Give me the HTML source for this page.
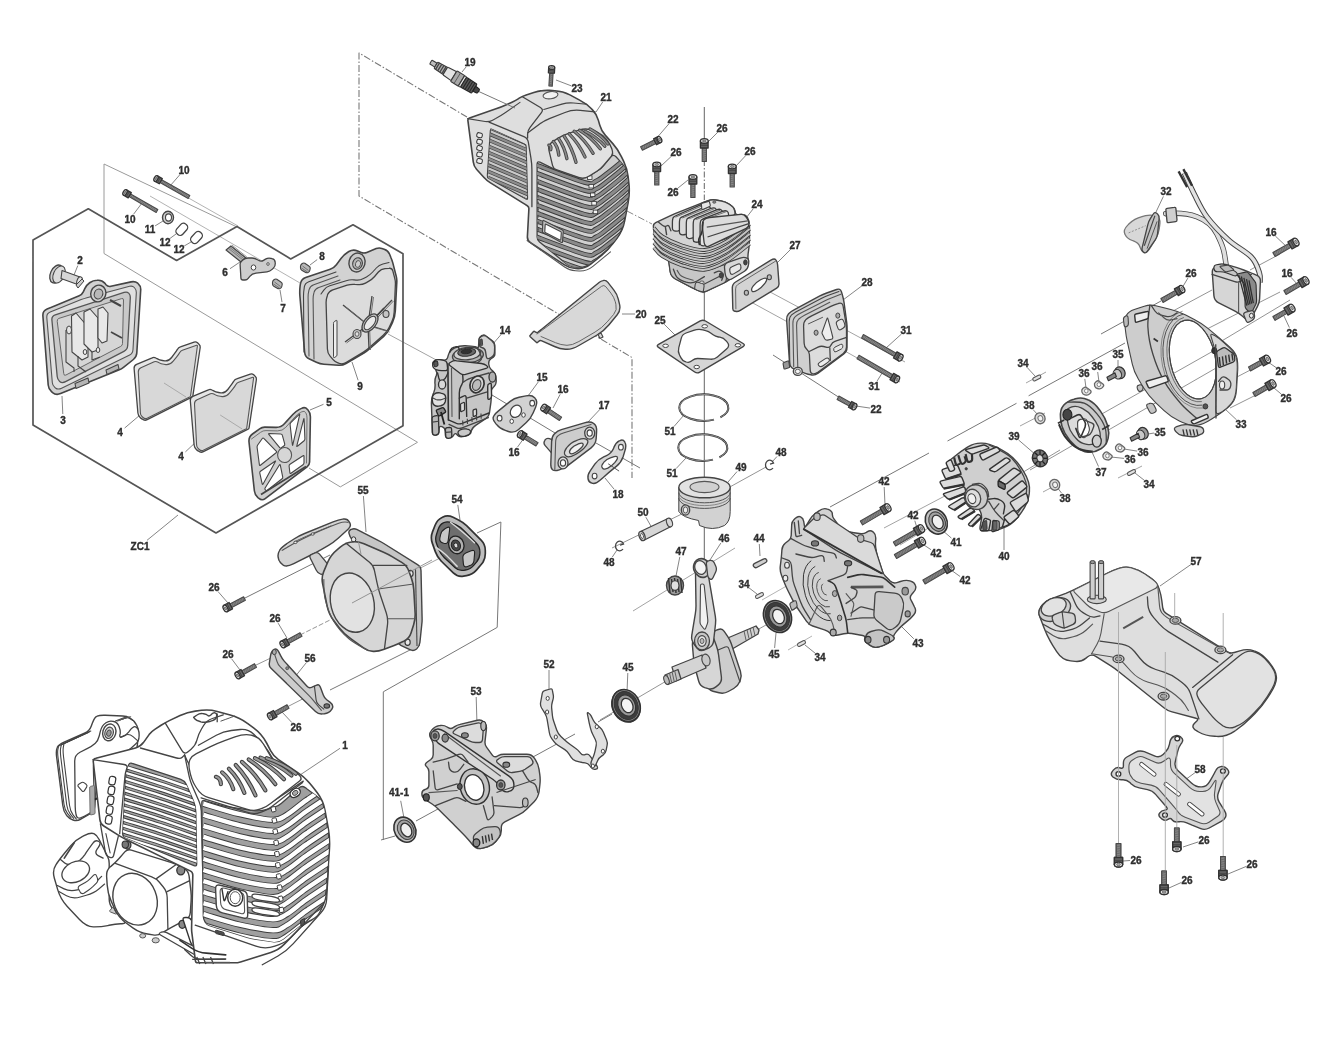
<!DOCTYPE html>
<html><head><meta charset="utf-8"><title>Engine exploded view</title>
<style>
html,body{margin:0;padding:0;background:#fff}
svg{display:block}
text{font-family:"Liberation Sans",sans-serif;font-weight:bold;fill:#2e2e2e;stroke:#2e2e2e;stroke-width:0.35px;text-anchor:middle}
</style></head><body>
<svg width="1330" height="1050" viewBox="0 0 1330 1050">
<defs><filter id="soft" x="0" y="0" width="1330" height="1050" filterUnits="userSpaceOnUse"><feGaussianBlur stdDeviation="0.55"/></filter></defs>
<rect width="1330" height="1050" fill="#fff"/>
<g filter="url(#soft)">
<path d="M104 253.5 L104 164 L237 227" fill="none" stroke="#9a9a9a" stroke-width="1" stroke-linejoin="round" />
<path d="M104 253.5 L417.5 442.3 L340.3 486.9 L309 468" fill="none" stroke="#9a9a9a" stroke-width="1" stroke-linejoin="round" />
<line x1="150" y1="196" x2="300" y2="283" stroke="#aaa" stroke-width="0.9"/>
<line x1="185" y1="196" x2="238" y2="226" stroke="#aaa" stroke-width="0.9"/>
<line x1="388" y1="334" x2="440" y2="362" stroke="#999" stroke-width="0.9"/>
<line x1="492" y1="395" x2="560" y2="436" stroke="#777" stroke-width="1"/>
<line x1="596" y1="443" x2="640" y2="468" stroke="#777" stroke-width="1"/>
<path d="M33 240 L88.3 208.8 L176.6 260.4 L237 226.6 L290.7 258.9 L353 224.8 L403 253.7 L403 425.7 L216 533 L33 425 Z" fill="none" stroke="#555" stroke-width="1.7" stroke-linejoin="round" />
<path d="M467 117 L359 53 L359 196 L632 357.5 L632 478" fill="none" stroke="#777" stroke-width="1.1" stroke-linejoin="round" stroke-dasharray="7 2 1.5 2"/>
<line x1="627" y1="211" x2="652" y2="224" stroke="#888" stroke-width="1" stroke-dasharray="7 2 1.5 2"/>
<line x1="704.3" y1="107" x2="704.3" y2="140" stroke="#666" stroke-width="1"/>
<line x1="704.3" y1="160" x2="704.3" y2="200" stroke="#666" stroke-width="1" stroke-dasharray="6 2 1.5 2"/>
<line x1="704.3" y1="292" x2="704.3" y2="480" stroke="#666" stroke-width="1"/>
<line x1="704.3" y1="527" x2="704.3" y2="560" stroke="#666" stroke-width="1"/>
<line x1="612" y1="548" x2="690" y2="510" stroke="#888" stroke-width="0.9"/>
<line x1="728" y1="488" x2="766" y2="467" stroke="#888" stroke-width="0.9"/>
<line x1="633" y1="611" x2="735" y2="548" stroke="#999" stroke-width="0.9"/>
<line x1="600" y1="720" x2="668" y2="680" stroke="#888" stroke-width="0.9"/>
<line x1="757" y1="630" x2="800" y2="606" stroke="#888" stroke-width="0.9"/>
<line x1="762" y1="600" x2="790" y2="584" stroke="#aaa" stroke-width="0.9"/>
<line x1="788" y1="650" x2="812" y2="636" stroke="#aaa" stroke-width="0.9"/>
<line x1="830" y1="507" x2="929" y2="453" stroke="#777" stroke-width="1"/>
<line x1="947.5" y1="441" x2="1016.5" y2="403.3" stroke="#777" stroke-width="1"/>
<line x1="1028.6" y1="395.8" x2="1125" y2="343" stroke="#777" stroke-width="1"/>
<line x1="1101" y1="334" x2="1161" y2="301" stroke="#777" stroke-width="1"/>
<line x1="884" y1="528" x2="960" y2="488" stroke="#999" stroke-width="0.9"/>
<line x1="900" y1="545" x2="945" y2="518" stroke="#999" stroke-width="0.9"/>
<line x1="1010" y1="480" x2="1060" y2="450" stroke="#888" stroke-width="0.9"/>
<line x1="1030" y1="470" x2="1075" y2="444" stroke="#888" stroke-width="0.9"/>
<line x1="1100" y1="415" x2="1215" y2="350" stroke="#888" stroke-width="0.9"/>
<line x1="1105" y1="432" x2="1230" y2="360" stroke="#888" stroke-width="0.9"/>
<line x1="1160" y1="318" x2="1212" y2="290" stroke="#888" stroke-width="0.9"/>
<line x1="1215" y1="345" x2="1290" y2="300" stroke="#888" stroke-width="0.9"/>
<line x1="1205" y1="330" x2="1280" y2="292" stroke="#888" stroke-width="0.9"/>
<line x1="1235" y1="378" x2="1258" y2="366" stroke="#888" stroke-width="0.9"/>
<line x1="1230" y1="408" x2="1258" y2="394" stroke="#888" stroke-width="0.9"/>
<line x1="1250" y1="270" x2="1280" y2="254" stroke="#888" stroke-width="0.9"/>
<line x1="1026" y1="383" x2="1046" y2="372" stroke="#999" stroke-width="0.9"/>
<line x1="1118" y1="478" x2="1142" y2="466" stroke="#999" stroke-width="0.9"/>
<line x1="1043" y1="492" x2="1060" y2="483" stroke="#999" stroke-width="0.9"/>
<line x1="1020" y1="426" x2="1045" y2="413" stroke="#999" stroke-width="0.9"/>
<line x1="740" y1="296" x2="795" y2="326" stroke="#999" stroke-width="0.9"/>
<line x1="757" y1="285" x2="815" y2="316" stroke="#999" stroke-width="0.9"/>
<line x1="846" y1="330" x2="905" y2="362" stroke="#999" stroke-width="0.9"/>
<line x1="843" y1="350" x2="900" y2="382" stroke="#999" stroke-width="0.9"/>
<line x1="773" y1="355" x2="840" y2="398" stroke="#777" stroke-width="1"/>
<path d="M383.3 840 L383.3 691.8 L497.2 627.4 L500.9 522 L477 533" fill="none" stroke="#777" stroke-width="1" stroke-linejoin="round" />
<line x1="381" y1="840" x2="395" y2="836" stroke="#777" stroke-width="1"/>
<line x1="416" y1="821" x2="575" y2="734" stroke="#777" stroke-width="1"/>
<line x1="598" y1="722" x2="612" y2="714" stroke="#777" stroke-width="1"/>
<line x1="243" y1="599" x2="330" y2="555" stroke="#777" stroke-width="1"/>
<line x1="300" y1="635" x2="330" y2="620" stroke="#888" stroke-width="0.9" stroke-dasharray="5 2"/>
<line x1="254" y1="666" x2="275" y2="656" stroke="#888" stroke-width="0.9"/>
<line x1="287" y1="707" x2="320" y2="690" stroke="#888" stroke-width="0.9"/>
<line x1="330" y1="690" x2="420" y2="645" stroke="#777" stroke-width="1"/>
<line x1="352" y1="603" x2="440" y2="558" stroke="#999" stroke-width="0.9"/>
<line x1="466.3" y1="66.7" x2="462" y2="72" stroke="#777" stroke-width="0.9"/>
<line x1="571.4" y1="85.9" x2="556" y2="80" stroke="#777" stroke-width="0.9"/>
<line x1="602.7" y1="102" x2="596" y2="112" stroke="#777" stroke-width="0.9"/>
<line x1="180" y1="174.5" x2="170" y2="186" stroke="#777" stroke-width="0.9"/>
<line x1="133.6" y1="214.2" x2="142" y2="203" stroke="#777" stroke-width="0.9"/>
<line x1="155.1" y1="225.9" x2="163" y2="221" stroke="#777" stroke-width="0.9"/>
<line x1="169.9" y1="238.5" x2="176" y2="234" stroke="#777" stroke-width="0.9"/>
<line x1="184.2" y1="246" x2="191" y2="242" stroke="#777" stroke-width="0.9"/>
<line x1="77.8" y1="265.6" x2="74" y2="275" stroke="#777" stroke-width="0.9"/>
<line x1="230" y1="268.7" x2="240" y2="262" stroke="#777" stroke-width="0.9"/>
<line x1="317.2" y1="259.6" x2="310" y2="265" stroke="#777" stroke-width="0.9"/>
<line x1="282" y1="302.1" x2="280" y2="290" stroke="#777" stroke-width="0.9"/>
<line x1="358.1" y1="380.3" x2="352" y2="362" stroke="#777" stroke-width="0.9"/>
<line x1="62.8" y1="414" x2="62" y2="396" stroke="#777" stroke-width="0.9"/>
<line x1="124.6" y1="428.1" x2="140" y2="415" stroke="#777" stroke-width="0.9"/>
<line x1="185.4" y1="451.9" x2="198" y2="440" stroke="#777" stroke-width="0.9"/>
<line x1="323.5" y1="404.3" x2="310" y2="410" stroke="#777" stroke-width="0.9"/>
<line x1="501.1" y1="334.5" x2="492" y2="345" stroke="#777" stroke-width="0.9"/>
<line x1="538.4" y1="381.8" x2="528" y2="396" stroke="#777" stroke-width="0.9"/>
<line x1="560.2" y1="394.3" x2="553" y2="408" stroke="#777" stroke-width="0.9"/>
<line x1="517.5" y1="447.1" x2="524" y2="438" stroke="#777" stroke-width="0.9"/>
<line x1="599.9" y1="409.4" x2="588" y2="422" stroke="#777" stroke-width="0.9"/>
<line x1="614.2" y1="489.3" x2="605" y2="478" stroke="#777" stroke-width="0.9"/>
<line x1="635" y1="314" x2="622" y2="314" stroke="#777" stroke-width="0.9"/>
<line x1="664.2" y1="324.2" x2="675" y2="335" stroke="#777" stroke-width="0.9"/>
<line x1="363.4" y1="496" x2="366" y2="532" stroke="#777" stroke-width="0.9"/>
<line x1="457.8" y1="504.9" x2="460" y2="520" stroke="#777" stroke-width="0.9"/>
<line x1="645.9" y1="517.2" x2="652" y2="528" stroke="#777" stroke-width="0.9"/>
<line x1="669.1" y1="123.6" x2="655" y2="140" stroke="#777" stroke-width="0.9"/>
<line x1="717.8" y1="132.2" x2="708" y2="142" stroke="#777" stroke-width="0.9"/>
<line x1="671.6" y1="156.1" x2="661" y2="166" stroke="#777" stroke-width="0.9"/>
<line x1="745.9" y1="155.4" x2="736" y2="166" stroke="#777" stroke-width="0.9"/>
<line x1="677.7" y1="188.3" x2="688" y2="180" stroke="#777" stroke-width="0.9"/>
<line x1="753.3" y1="208.7" x2="746" y2="218" stroke="#777" stroke-width="0.9"/>
<line x1="790.8" y1="249.2" x2="777" y2="263" stroke="#777" stroke-width="0.9"/>
<line x1="862.2" y1="285.6" x2="843" y2="300" stroke="#777" stroke-width="0.9"/>
<line x1="901.5" y1="334" x2="886" y2="348" stroke="#777" stroke-width="0.9"/>
<line x1="877.2" y1="380.9" x2="884" y2="370" stroke="#777" stroke-width="0.9"/>
<line x1="870.1" y1="408.1" x2="856" y2="406" stroke="#777" stroke-width="0.9"/>
<line x1="674" y1="426.5" x2="684" y2="415" stroke="#777" stroke-width="0.9"/>
<line x1="676.1" y1="468.6" x2="686" y2="458" stroke="#777" stroke-width="0.9"/>
<line x1="777" y1="456.5" x2="772" y2="462" stroke="#777" stroke-width="0.9"/>
<line x1="737.1" y1="471.5" x2="728" y2="482" stroke="#777" stroke-width="0.9"/>
<line x1="884.2" y1="487" x2="885" y2="505" stroke="#777" stroke-width="0.9"/>
<line x1="914.8" y1="520.7" x2="917" y2="528" stroke="#777" stroke-width="0.9"/>
<line x1="1027.1" y1="367.4" x2="1035" y2="376" stroke="#777" stroke-width="0.9"/>
<line x1="1084.8" y1="378.9" x2="1086" y2="388" stroke="#777" stroke-width="0.9"/>
<line x1="1097.7" y1="372" x2="1099" y2="382" stroke="#777" stroke-width="0.9"/>
<line x1="1118" y1="360" x2="1118" y2="370" stroke="#777" stroke-width="0.9"/>
<line x1="1033" y1="409.5" x2="1038" y2="415" stroke="#777" stroke-width="0.9"/>
<line x1="1018.5" y1="439.9" x2="1036" y2="455" stroke="#777" stroke-width="0.9"/>
<line x1="1098.5" y1="466.5" x2="1092" y2="452" stroke="#777" stroke-width="0.9"/>
<line x1="1154.1" y1="433" x2="1148" y2="434" stroke="#777" stroke-width="0.9"/>
<line x1="1137.1" y1="451.1" x2="1124" y2="449" stroke="#777" stroke-width="0.9"/>
<line x1="1124" y1="458.4" x2="1111" y2="457" stroke="#777" stroke-width="0.9"/>
<line x1="1144.3" y1="480.3" x2="1135" y2="473" stroke="#777" stroke-width="0.9"/>
<line x1="1061.5" y1="493.1" x2="1057" y2="487" stroke="#777" stroke-width="0.9"/>
<line x1="1163.4" y1="196.4" x2="1156" y2="212" stroke="#777" stroke-width="0.9"/>
<line x1="1275.4" y1="236.1" x2="1288" y2="248" stroke="#777" stroke-width="0.9"/>
<line x1="1291.1" y1="277.4" x2="1298" y2="285" stroke="#777" stroke-width="0.9"/>
<line x1="1187.9" y1="278.1" x2="1182" y2="288" stroke="#777" stroke-width="0.9"/>
<line x1="1289.4" y1="327.6" x2="1284" y2="316" stroke="#777" stroke-width="0.9"/>
<line x1="1276.1" y1="367.6" x2="1268" y2="362" stroke="#777" stroke-width="0.9"/>
<line x1="1281.4" y1="394.2" x2="1274" y2="388" stroke="#777" stroke-width="0.9"/>
<line x1="1236.6" y1="419.9" x2="1224" y2="408" stroke="#777" stroke-width="0.9"/>
<line x1="147" y1="540.3" x2="178" y2="515" stroke="#777" stroke-width="0.9"/>
<line x1="218" y1="591.5" x2="228" y2="603" stroke="#777" stroke-width="0.9"/>
<line x1="278.1" y1="623.1" x2="287" y2="638" stroke="#777" stroke-width="0.9"/>
<line x1="231.6" y1="658.8" x2="240" y2="670" stroke="#777" stroke-width="0.9"/>
<line x1="306.3" y1="662.7" x2="290" y2="683" stroke="#777" stroke-width="0.9"/>
<line x1="291.9" y1="722.6" x2="282" y2="712" stroke="#777" stroke-width="0.9"/>
<line x1="340" y1="748.3" x2="300" y2="775" stroke="#777" stroke-width="0.9"/>
<line x1="549" y1="670" x2="549" y2="690" stroke="#777" stroke-width="0.9"/>
<line x1="627.8" y1="673" x2="627" y2="692" stroke="#777" stroke-width="0.9"/>
<line x1="476.2" y1="697" x2="477" y2="725" stroke="#777" stroke-width="0.9"/>
<line x1="400.7" y1="800.8" x2="404" y2="818" stroke="#777" stroke-width="0.9"/>
<line x1="612.3" y1="557" x2="617" y2="550" stroke="#777" stroke-width="0.9"/>
<line x1="679.8" y1="556.9" x2="676" y2="576" stroke="#777" stroke-width="0.9"/>
<line x1="720.8" y1="543.1" x2="710" y2="560" stroke="#777" stroke-width="0.9"/>
<line x1="759.3" y1="544" x2="760" y2="556" stroke="#777" stroke-width="0.9"/>
<line x1="748.8" y1="587.7" x2="757" y2="594" stroke="#777" stroke-width="0.9"/>
<line x1="774.6" y1="648" x2="776" y2="633" stroke="#777" stroke-width="0.9"/>
<line x1="815.3" y1="653.3" x2="805" y2="645" stroke="#777" stroke-width="0.9"/>
<line x1="913.8" y1="638.8" x2="897" y2="622" stroke="#777" stroke-width="0.9"/>
<line x1="951.4" y1="538.1" x2="942" y2="530" stroke="#777" stroke-width="0.9"/>
<line x1="931" y1="549.7" x2="924" y2="545" stroke="#777" stroke-width="0.9"/>
<line x1="960.1" y1="576.5" x2="951" y2="570" stroke="#777" stroke-width="0.9"/>
<line x1="1004" y1="550" x2="1004" y2="528" stroke="#777" stroke-width="0.9"/>
<line x1="1191.1" y1="564.4" x2="1160" y2="586" stroke="#777" stroke-width="0.9"/>
<line x1="1195.2" y1="772.5" x2="1185" y2="780" stroke="#777" stroke-width="0.9"/>
<line x1="1198.3" y1="841.9" x2="1183" y2="847" stroke="#777" stroke-width="0.9"/>
<line x1="1130" y1="860.5" x2="1123" y2="861" stroke="#777" stroke-width="0.9"/>
<line x1="1181.5" y1="882.4" x2="1169" y2="888" stroke="#777" stroke-width="0.9"/>
<line x1="1246.5" y1="866.3" x2="1228" y2="874" stroke="#777" stroke-width="0.9"/>
<path d="M42.9 316 Q42.5 311 47.1 309.1 L79.2 295.7 Q82 294.5 83.3 291.8 L84.8 288.6 Q86.5 285 89.4 283 L90.1 282.5 Q93 280.5 97 280.3 L98 280.2 Q102 280 104.7 283.1 L106 284.7 Q108 287 110.9 286.3 L131.1 281.9 Q135 281 137.7 283.2 L138.3 283.8 Q141 286 140.7 290 L136.8 353 Q136.5 357 133.4 359.5 L123.8 367.1 Q121.5 369 118.7 370.1 L60.6 393.6 Q56 395.5 52.6 392.6 L51.5 391.6 Q48.5 389 48.2 385 Z" fill="#d2d2d2" stroke="#444" stroke-width="1.6" stroke-linejoin="round" stroke-linecap="round" />
<path d="M46.8 317.5 Q46.5 313.5 50.2 312 L81.2 299.6 Q84 298.5 86.9 297.7 L108.1 292 Q110 291.5 111.9 291 L129.6 286.3 Q132.5 285.5 134.3 287.5 L134.7 288 Q136.5 290 136.3 293 L133 349.5 Q132.8 353.5 129.2 355.3 L61.6 388.2 Q58 390 55.5 388 L54.8 387.4 Q52.5 385.5 52.3 382.5 Z" fill="#e0e0e0" stroke="#555" stroke-width="1.1" stroke-linejoin="round" stroke-linecap="round" />
<path d="M51.9 320 Q51.5 316 55.3 314.8 L124.1 292.4 Q127 291.5 128.6 293.1 L128.9 293.4 Q130.5 295 130.3 298 L127.7 345.5 Q127.5 349.5 123.9 351.3 L65.6 381.7 Q62 383.5 60 381.7 L59.5 381.3 Q57.5 379.5 57.2 376.5 Z" fill="#c9c9c9" stroke="#555" stroke-width="1.3" stroke-linejoin="round" stroke-linecap="round" />
<path d="M57.2 321 Q57 319 58.9 318.4 L121.6 298.6 Q123.5 298 123.5 300 L122.5 343.5 Q122.5 345.5 120.7 346.4 L65.8 375.1 Q64 376 63.8 374 Z" fill="#d6d6d6" stroke="#666" stroke-width="1" stroke-linejoin="round" stroke-linecap="round" />
<path d="M71.5 316 L76 313 L88 327 L88 357 L82 360 L72 352 Z" fill="#e8e8e8" stroke="#444" stroke-width="1.1" stroke-linejoin="round" />
<path d="M84 312 L90 309 L98 318 L98 350 L92 352 L84 344 Z" fill="#e8e8e8" stroke="#444" stroke-width="1.1" stroke-linejoin="round" />
<path d="M98 309 L103 307 L108 313 L107 341 L102 343 L98 338 Z" fill="#e8e8e8" stroke="#444" stroke-width="1.1" stroke-linejoin="round" />
<path d="M66 330 L66 362 L74 368 L74 372" fill="none" stroke="#444" stroke-width="1.1" stroke-linejoin="round" />
<path d="M78 356 L78 366 L86 372" fill="none" stroke="#444" stroke-width="1.1" stroke-linejoin="round" />
<path d="M92 352 L92 360 L100 357" fill="none" stroke="#444" stroke-width="1.1" stroke-linejoin="round" />
<path d="M110 300 L121 306" fill="none" stroke="#444" stroke-width="2" stroke-linejoin="round" />
<path d="M111 332 L122 338" fill="none" stroke="#444" stroke-width="1.7" stroke-linejoin="round" />
<ellipse cx="69" cy="330" rx="2.5" ry="4" fill="#e6e6e6" stroke="#444" stroke-width="1"/>
<ellipse cx="85" cy="352" rx="1.8" ry="2.5" fill="#eee" stroke="#444" stroke-width="1"/>
<ellipse cx="98" cy="350" rx="1.8" ry="2.5" fill="#eee" stroke="#444" stroke-width="1"/>
<path d="M75 383.5 L88 378 L89 383 L76 388.5 Z" fill="#b5b5b5" stroke="#444" stroke-width="1.1" stroke-linejoin="round" />
<path d="M106 370 L118 364.5 L119 369 L107 374.5 Z" fill="#b5b5b5" stroke="#444" stroke-width="1.1" stroke-linejoin="round" />
<ellipse cx="98.3" cy="293.5" rx="7.5" ry="8.5" fill="#cfcfcf" stroke="#444" stroke-width="1.4" transform="rotate(20 98.3 293.5)"/>
<ellipse cx="98.5" cy="294" rx="4.2" ry="5" fill="#b8b8b8" stroke="#444" stroke-width="1.1" transform="rotate(20 98.5 294)"/>
<ellipse cx="56.5" cy="274" rx="6" ry="9.5" fill="#cfcfcf" stroke="#444" stroke-width="1.3" transform="rotate(25 56.5 274)"/>
<ellipse cx="59" cy="274.5" rx="5.5" ry="9" fill="#dcdcdc" stroke="#444" stroke-width="1.1" transform="rotate(25 59 274.5)"/>
<path d="M62 270.5 L80 277 L79 285 L61 278.5 Z" fill="#d6d6d6" stroke="#444" stroke-width="1.1" stroke-linejoin="round" />
<ellipse cx="79.5" cy="281" rx="2.5" ry="4.3" fill="#e4e4e4" stroke="#444" stroke-width="1.1" transform="rotate(20 79.5 281)"/>
<path d="M76 285 L82 279 L84 281 L78 288 Z" fill="#ccc" stroke="#444" stroke-width="1" stroke-linejoin="round" />
<path d="M134.1 368.5 Q133.8 365.5 136.6 364.3 L152.2 357.8 Q154 357 155.8 358 L157 358.6 Q159.5 360 162.5 360.5 L164.5 360.8 Q168.6 361.5 171.6 357.5 L174.1 354.2 Q176.5 351 177.4 349.4 L177.6 349.1 Q178.5 347.5 180.4 346.9 L194.1 342.1 Q196 341.5 197.5 342.8 L199 344.2 Q200.5 345.5 200.2 347.5 L192.9 395.7 Q192.8 396.7 191.9 397.1 L147.2 419.7 Q144.5 421 142.2 419.1 L140.5 417.9 Q138.2 416 137.9 413 Z" fill="#e6e6e6" stroke="#444" stroke-width="1.3" stroke-linejoin="round" stroke-linecap="round" />
<path d="M138.3 372 Q138.2 369 140.9 367.8 L154.2 361.8 Q156 361 157.7 362 L158.8 362.6 Q161 364 164 364.3 L165.9 364.6 Q170 365 173.2 361.1 L176.5 357.1 Q179 354 179.7 352.6 L179.8 352.4 Q180.5 351 182.4 350.3 L196.6 345.3 Q197.5 345 197.4 346 L190.6 395.5 Q190.5 396.5 189.6 397 L147.7 418.1 Q145 419.5 143 417.5 L141.9 416.4 Q140.5 415 140.4 413 Z" fill="#d8d8d8" stroke="#555" stroke-width="1.1" stroke-linejoin="round" stroke-linecap="round" />
<line x1="164" y1="383" x2="186" y2="397" stroke="#aaa" stroke-width="1"/>
<path d="M190.3 400.5 Q190 397.5 192.8 396.3 L208.4 389.8 Q210.2 389 212 390 L213.2 390.6 Q215.7 392 218.7 392.5 L220.7 392.8 Q224.8 393.5 227.8 389.5 L230.3 386.2 Q232.7 383 233.6 381.4 L233.8 381.1 Q234.7 379.5 236.6 378.9 L250.3 374.1 Q252.2 373.5 253.7 374.8 L255.2 376.2 Q256.7 377.5 256.4 379.5 L249.1 427.7 Q249 428.7 248.1 429.1 L203.4 451.7 Q200.7 453 198.4 451.1 L196.7 449.9 Q194.4 448 194.1 445 Z" fill="#e6e6e6" stroke="#444" stroke-width="1.3" stroke-linejoin="round" stroke-linecap="round" />
<path d="M194.5 404 Q194.4 401 197.1 399.8 L210.4 393.8 Q212.2 393 213.9 394 L214.9 394.6 Q217.2 396 220.2 396.3 L222.1 396.6 Q226.2 397 229.4 393.1 L232.7 389.1 Q235.2 386 235.9 384.6 L236 384.4 Q236.7 383 238.6 382.3 L252.8 377.3 Q253.7 377 253.6 378 L246.8 427.5 Q246.7 428.5 245.8 429 L203.9 450.1 Q201.2 451.5 199.2 449.5 L198.1 448.4 Q196.7 447 196.6 445 Z" fill="#d8d8d8" stroke="#555" stroke-width="1.1" stroke-linejoin="round" stroke-linecap="round" />
<line x1="220.2" y1="415" x2="242.2" y2="429" stroke="#aaa" stroke-width="1"/>
<path d="M249 442 Q248.5 437 252.5 434 L259.6 428.8 Q262 427 265 427.1 L276 427.4 Q281 427.5 284.4 423.8 L292.8 414.5 Q295.5 411.5 299 409.6 L301.5 408.4 Q305 406.5 307.5 409.4 L308 410.1 Q310.5 413 310.4 417 L309.6 462 Q309.5 465 307.1 466.8 L265.2 498.6 Q262 501 258.9 498.4 L257.9 497.6 Q254.8 495 254.4 491 Z" fill="#cfcfcf" stroke="#444" stroke-width="1.6" stroke-linejoin="round" stroke-linecap="round" />
<path d="M251.5 439 L260.6 432.3 Q263 430.5 266 430.6 L277.5 430.9 Q282.5 431 285.8 427.3 L294.9 417 Q297.5 414 300.6 412.4 L301.8 411.8 Q304.5 410.5 305.6 412.5 L305.9 413 Q307 415 307 418 L306.5 463" fill="none" stroke="#666" stroke-width="0.9" stroke-linejoin="round" stroke-linecap="round" />
<path d="M257.1 447.2 Q257 446 257.7 445 L262.3 438.5 Q263 437.5 263.8 438.4 L276.2 451.1 Q277 452 276.1 452.7 L260.4 465.3 Q259.5 466 259.4 464.8 Z" fill="#fff" stroke="#444" stroke-width="1.1" stroke-linejoin="round" stroke-linecap="round" />
<path d="M268.8 434.4 Q268 433.5 269.2 433.5 L280.8 434 Q282 434 282.3 435.2 L284.7 443.8 Q285 445 284.1 445.7 L281.4 447.8 Q280.5 448.5 279.7 447.6 Z" fill="#fff" stroke="#444" stroke-width="1.1" stroke-linejoin="round" stroke-linecap="round" />
<path d="M290.1 424.7 Q290 423.5 290.8 422.7 L299.2 414.3 Q300 413.5 299.7 414.7 L292.8 444.8 Q292.5 446 292.4 444.8 Z" fill="#fff" stroke="#444" stroke-width="1.1" stroke-linejoin="round" stroke-linecap="round" />
<path d="M303.7 419.2 Q304 418 304.1 419.2 L304.9 438.8 Q305 440 304.1 440.8 L297.4 446.2 Q296.5 447 296.8 445.8 Z" fill="#fff" stroke="#444" stroke-width="1.1" stroke-linejoin="round" stroke-linecap="round" />
<path d="M259.8 473.2 Q259.5 472 260.5 471.3 L275 461.2 Q276 460.5 275.4 461.6 L263.1 483.9 Q262.5 485 262.2 483.8 Z" fill="#fff" stroke="#444" stroke-width="1.1" stroke-linejoin="round" stroke-linecap="round" />
<path d="M279.4 465 Q280 464 280.3 465.2 L282.7 476.8 Q283 478 282.1 478.7 L267.4 490.3 Q266.5 491 265.7 490.2 L265.3 489.8 Q264.5 489 265.1 488 Z" fill="#fff" stroke="#444" stroke-width="1.1" stroke-linejoin="round" stroke-linecap="round" />
<path d="M289.1 466.2 Q289 465 290 464.3 L303 455.7 Q304 455 304 456.2 L304 462.8 Q304 464 303 464.7 L291 473.3 Q290 474 289.9 472.8 Z" fill="#fff" stroke="#444" stroke-width="1.1" stroke-linejoin="round" stroke-linecap="round" />
<path d="M261 494.5 L306 466.5" fill="none" stroke="#444" stroke-width="1.8" stroke-linejoin="round" />
<ellipse cx="284.6" cy="455" rx="7" ry="7.5" fill="#d6d6d6" stroke="#555" stroke-width="1.1"/>
<path d="M299.9 296 Q299.5 291 300.1 286 L300.4 284 Q301 279 305.7 277.4 L330.2 269.3 Q334 268 336.4 264.8 L341 258.5 Q344 254.5 348.1 252 L348.9 251.5 Q353 249 357.6 250.9 L361.2 252.4 Q364 253.5 366.8 252.4 L376.2 248.6 Q379 247.5 381.8 248.4 L384.2 249.2 Q388 250.5 389.6 254.2 L390.8 257.2 Q392 260 392.8 262.9 L396.2 276.1 Q397 279 396.8 282 L395.3 311 Q395 317 392.5 322.4 L389.6 328.5 Q387.5 333 383.7 336.3 L368.8 349.5 Q366.5 351.5 363.9 353 L346 363.5 Q342.5 365.5 338.5 365.2 L324 364.3 Q320 364 316.4 362.3 L309.5 359.1 Q305 357 304.6 352 Z" fill="#d2d2d2" stroke="#444" stroke-width="1.6" stroke-linejoin="round" stroke-linecap="round" />
<path d="M304 352 L303.5 296 Q303.5 292 304.2 288.1 L304.3 286.9 Q305 283 308.8 281.7 L336 272" fill="none" stroke="#444" stroke-width="1.1" stroke-linejoin="round" stroke-linecap="round" />
<path d="M309 356 L308.1 298 Q308 294 308.9 290.4 L309.1 289.6 Q310 286 313.8 284.7 L338 276" fill="none" stroke="#555" stroke-width="1.1" stroke-linejoin="round" stroke-linecap="round" />
<path d="M314 359 L313.1 300 Q313 296 313.9 292.9 L314.1 292.1 Q315 289 318.8 287.6 L340 280" fill="none" stroke="#555" stroke-width="1.1" stroke-linejoin="round" stroke-linecap="round" />
<path d="M326.1 303 Q326 299 327.4 295.4 L327.6 294.6 Q329 291 332.8 289.8 L347.2 285.2 Q351 284 355 284.4 L358 284.6 Q362 285 365.5 283.1 L368.5 281.4 Q372 279.5 374.6 276.5 L378.4 272 Q381 269 385 268.6 L389 268.3 Q392 268 392.8 270.9 L394.7 278.1 Q395.5 281 395.4 284 L394.2 312 Q394 317 391.9 321.5 L389.1 327.5 Q387 332 383.2 335.3 L368.3 348.5 Q366 350.5 363.4 352.1 L346.4 362.4 Q343 364.5 339.4 363.4 L337.9 362.9 Q335 362 333.1 359.7 L330.1 356.1 Q327.5 353 327.4 349 Z" fill="#dcdcdc" stroke="#444" stroke-width="1.3" stroke-linejoin="round" stroke-linecap="round" />
<path d="M321 294 L323.8 290.1 Q326 287 329.8 285.8 L346.2 280.7 Q350 279.5 354 279.9 L356 280.1 Q360 280.5 363.5 278.6 L366.5 276.9 Q370 275 372.7 272 L376.3 268 Q379 265 382.9 264 L389 262.5" fill="none" stroke="#444" stroke-width="1.1" stroke-linejoin="round" stroke-linecap="round" />
<ellipse cx="357" cy="262.5" rx="8" ry="9.5" fill="#cbcbcb" stroke="#444" stroke-width="1.4" transform="rotate(15 357 262.5)"/>
<ellipse cx="357.5" cy="263.5" rx="4.8" ry="5.8" fill="#b5b5b5" stroke="#444" stroke-width="1.1" transform="rotate(15 357.5 263.5)"/>
<ellipse cx="358" cy="264" rx="2.5" ry="3.5" fill="#d0d0d0" stroke="#555" stroke-width="0.9" transform="rotate(15 358 264)"/>
<line x1="368" y1="325" x2="343" y2="305" stroke="#444" stroke-width="1.3"/>
<line x1="369.5" y1="326" x2="344.5" y2="306" stroke="#666" stroke-width="0.9"/>
<line x1="368" y1="325" x2="345" y2="342" stroke="#444" stroke-width="1.3"/>
<line x1="369.5" y1="326" x2="346.5" y2="343" stroke="#666" stroke-width="0.9"/>
<line x1="368" y1="325" x2="369" y2="349" stroke="#444" stroke-width="1.3"/>
<line x1="369.5" y1="326" x2="370.5" y2="350" stroke="#666" stroke-width="0.9"/>
<line x1="368" y1="325" x2="388" y2="331" stroke="#444" stroke-width="1.3"/>
<line x1="369.5" y1="326" x2="389.5" y2="332" stroke="#666" stroke-width="0.9"/>
<line x1="368" y1="325" x2="392" y2="300" stroke="#444" stroke-width="1.3"/>
<line x1="369.5" y1="326" x2="393.5" y2="301" stroke="#666" stroke-width="0.9"/>
<line x1="368" y1="325" x2="372" y2="296" stroke="#444" stroke-width="1.3"/>
<line x1="369.5" y1="326" x2="373.5" y2="297" stroke="#666" stroke-width="0.9"/>
<line x1="368" y1="325" x2="384" y2="308" stroke="#444" stroke-width="1.3"/>
<line x1="369.5" y1="326" x2="385.5" y2="309" stroke="#666" stroke-width="0.9"/>
<ellipse cx="370" cy="323" rx="6" ry="10.5" fill="#c4c4c4" stroke="#444" stroke-width="1.3" transform="rotate(38 370 323)"/>
<ellipse cx="370" cy="323" rx="4" ry="8" fill="#eaeaea" stroke="#444" stroke-width="1.1" transform="rotate(38 370 323)"/>
<ellipse cx="357" cy="334" rx="4" ry="4.5" fill="#c4c4c4" stroke="#444" stroke-width="1.1"/>
<ellipse cx="357" cy="334" rx="2" ry="2.3" fill="#e0e0e0" stroke="#555" stroke-width="0.9"/>
<ellipse cx="386" cy="314" rx="3" ry="3.5" fill="#c4c4c4" stroke="#444" stroke-width="1.1"/>
<path d="M333.5 323 Q333.5 322 334.4 321.5 L336.1 320.5 Q337 320 337 321 L337 355 Q337 356 336.1 356.5 L334.4 357.5 Q333.5 358 333.5 357 Z" fill="#eee" stroke="#444" stroke-width="1" stroke-linejoin="round" stroke-linecap="round" />
<path d="M226 250 L231 246 L246 258 L241 262 Z" fill="#b5b5b5" stroke="#444" stroke-width="1.1" stroke-linejoin="round" />
<line x1="228" y1="248" x2="243" y2="260" stroke="#555" stroke-width="0.6"/>
<line x1="229.3" y1="247" x2="244.3" y2="259" stroke="#555" stroke-width="0.6"/>
<line x1="230.6" y1="246" x2="245.6" y2="258" stroke="#555" stroke-width="0.6"/>
<line x1="231.9" y1="245" x2="246.9" y2="257" stroke="#555" stroke-width="0.6"/>
<path d="M240.1 264.5 Q240 262.5 241.5 261.2 L242.8 260 Q245 258 248 258 L252 258 Q255 258 257.5 259.7 L258.5 260.3 Q261 262 263.5 260.4 L265.5 259.1 Q268 257.5 270.9 258.3 L272.1 258.7 Q275 259.5 275.2 262.4 L275.3 263.1 Q275.5 266 273.4 268.1 L272.1 269.4 Q270 271.5 267 271.8 L256 273.1 Q252 273.5 249.8 276.4 L248.2 278.4 Q247 280 245 280 L243 280 Q241 280 240.9 278 Z" fill="#cdcdcd" stroke="#444" stroke-width="1.3" stroke-linejoin="round" stroke-linecap="round" />
<ellipse cx="253.5" cy="267.5" rx="2.3" ry="2.6" fill="#fff" stroke="#444" stroke-width="1"/>
<ellipse cx="268" cy="264" rx="1.2" ry="1.4" fill="#fff" stroke="#444" stroke-width="0.9"/>
<path d="M300.5 266.5 Q300.5 265 301.7 264 L302.3 263.5 Q303.5 262.5 304.8 263.3 L309.2 266.2 Q310.5 267 310.2 268.5 L309.8 270.5 Q309.5 272 308.1 272.4 L307.9 272.6 Q306.5 273 305.2 272.2 L301.8 270.3 Q300.5 269.5 300.5 268 Z" fill="#b8b8b8" stroke="#444" stroke-width="1.1" stroke-linejoin="round" stroke-linecap="round" />
<line x1="302.5" y1="266" x2="308.5" y2="270.5" stroke="#555" stroke-width="0.7"/>
<line x1="301.5" y1="268" x2="307.5" y2="272" stroke="#555" stroke-width="0.7"/>
<path d="M272.5 282.5 Q272.5 281 273.7 280 L274.3 279.5 Q275.5 278.5 276.8 279.3 L281.2 282.2 Q282.5 283 282.2 284.5 L281.8 286.5 Q281.5 288 280.1 288.4 L279.9 288.6 Q278.5 289 277.2 288.2 L273.8 286.3 Q272.5 285.5 272.5 284 Z" fill="#b8b8b8" stroke="#444" stroke-width="1.1" stroke-linejoin="round" stroke-linecap="round" />
<line x1="274.5" y1="282" x2="280.5" y2="286.5" stroke="#555" stroke-width="0.7"/>
<line x1="273.5" y1="284" x2="279.5" y2="288" stroke="#555" stroke-width="0.7"/>
<path d="M160 182.6 L188.2 198.4 L189.8 195.6 L161.6 179.8 Z" fill="#8a8a8a" stroke="#4a4a4a" stroke-width="1.1" stroke-linejoin="round" />
<line x1="161.5" y1="183.4" x2="163.8" y2="181" stroke="#555" stroke-width="0.6"/>
<line x1="163" y1="184.2" x2="165.2" y2="181.9" stroke="#555" stroke-width="0.6"/>
<line x1="164.5" y1="185.1" x2="166.7" y2="182.7" stroke="#555" stroke-width="0.6"/>
<line x1="166" y1="185.9" x2="168.2" y2="183.5" stroke="#555" stroke-width="0.6"/>
<line x1="167.4" y1="186.7" x2="169.7" y2="184.4" stroke="#555" stroke-width="0.6"/>
<line x1="168.9" y1="187.6" x2="171.2" y2="185.2" stroke="#555" stroke-width="0.6"/>
<line x1="170.4" y1="188.4" x2="172.7" y2="186" stroke="#555" stroke-width="0.6"/>
<line x1="171.9" y1="189.2" x2="174.1" y2="186.9" stroke="#555" stroke-width="0.6"/>
<line x1="173.4" y1="190.1" x2="175.6" y2="187.7" stroke="#555" stroke-width="0.6"/>
<line x1="174.9" y1="190.9" x2="177.1" y2="188.5" stroke="#555" stroke-width="0.6"/>
<line x1="176.4" y1="191.7" x2="178.6" y2="189.4" stroke="#555" stroke-width="0.6"/>
<line x1="177.8" y1="192.6" x2="180.1" y2="190.2" stroke="#555" stroke-width="0.6"/>
<line x1="179.3" y1="193.4" x2="181.6" y2="191" stroke="#555" stroke-width="0.6"/>
<line x1="180.8" y1="194.2" x2="183" y2="191.9" stroke="#555" stroke-width="0.6"/>
<line x1="182.3" y1="195.1" x2="184.5" y2="192.7" stroke="#555" stroke-width="0.6"/>
<line x1="183.8" y1="195.9" x2="186" y2="193.5" stroke="#555" stroke-width="0.6"/>
<line x1="185.3" y1="196.7" x2="187.5" y2="194.3" stroke="#555" stroke-width="0.6"/>
<line x1="186.7" y1="197.5" x2="189" y2="195.2" stroke="#555" stroke-width="0.6"/>
<path d="M154.5 181.1 L159.3 183.8 L162.3 178.6 L157.5 175.9 Z" fill="#666" stroke="#333" stroke-width="1.3" stroke-linejoin="round" />
<line x1="156" y1="181.9" x2="158.9" y2="176.7" stroke="#333" stroke-width="0.7"/>
<line x1="157.4" y1="182.8" x2="160.4" y2="177.5" stroke="#333" stroke-width="0.7"/>
<ellipse cx="156" cy="178.5" rx="1.8" ry="3" fill="#e8e8e8" stroke="#333" stroke-width="1.3" transform="rotate(29.3 156 178.5)"/>
<ellipse cx="156" cy="178.5" rx="0.8" ry="1.4" fill="#aaa" stroke="#555" stroke-width="0.7" transform="rotate(29.3 156 178.5)"/>
<path d="M129 196.6 L156.2 212.4 L157.8 209.6 L130.6 193.9 Z" fill="#8a8a8a" stroke="#4a4a4a" stroke-width="1.1" stroke-linejoin="round" />
<line x1="130.5" y1="197.5" x2="132.8" y2="195.2" stroke="#555" stroke-width="0.6"/>
<line x1="132" y1="198.4" x2="134.3" y2="196" stroke="#555" stroke-width="0.6"/>
<line x1="133.5" y1="199.2" x2="135.8" y2="196.9" stroke="#555" stroke-width="0.6"/>
<line x1="135" y1="200.1" x2="137.3" y2="197.8" stroke="#555" stroke-width="0.6"/>
<line x1="136.5" y1="201" x2="138.8" y2="198.7" stroke="#555" stroke-width="0.6"/>
<line x1="138" y1="201.9" x2="140.3" y2="199.5" stroke="#555" stroke-width="0.6"/>
<line x1="139.6" y1="202.7" x2="141.8" y2="200.4" stroke="#555" stroke-width="0.6"/>
<line x1="141.1" y1="203.6" x2="143.4" y2="201.3" stroke="#555" stroke-width="0.6"/>
<line x1="142.6" y1="204.5" x2="144.9" y2="202.2" stroke="#555" stroke-width="0.6"/>
<line x1="144.1" y1="205.4" x2="146.4" y2="203" stroke="#555" stroke-width="0.6"/>
<line x1="145.6" y1="206.2" x2="147.9" y2="203.9" stroke="#555" stroke-width="0.6"/>
<line x1="147.1" y1="207.1" x2="149.4" y2="204.8" stroke="#555" stroke-width="0.6"/>
<line x1="148.6" y1="208" x2="150.9" y2="205.7" stroke="#555" stroke-width="0.6"/>
<line x1="150.2" y1="208.9" x2="152.4" y2="206.5" stroke="#555" stroke-width="0.6"/>
<line x1="151.7" y1="209.7" x2="153.9" y2="207.4" stroke="#555" stroke-width="0.6"/>
<line x1="153.2" y1="210.6" x2="155.5" y2="208.3" stroke="#555" stroke-width="0.6"/>
<line x1="154.7" y1="211.5" x2="157" y2="209.2" stroke="#555" stroke-width="0.6"/>
<path d="M123.5 195.1 L128.2 197.9 L131.3 192.6 L126.5 189.9 Z" fill="#666" stroke="#333" stroke-width="1.3" stroke-linejoin="round" />
<line x1="124.9" y1="195.9" x2="127.9" y2="190.7" stroke="#333" stroke-width="0.7"/>
<line x1="126.3" y1="196.8" x2="129.4" y2="191.5" stroke="#333" stroke-width="0.7"/>
<ellipse cx="125" cy="192.5" rx="1.8" ry="3" fill="#e8e8e8" stroke="#333" stroke-width="1.3" transform="rotate(30 125 192.5)"/>
<ellipse cx="125" cy="192.5" rx="0.8" ry="1.4" fill="#aaa" stroke="#555" stroke-width="0.7" transform="rotate(30 125 192.5)"/>
<ellipse cx="168" cy="217.5" rx="5.5" ry="6.2" fill="#cfcfcf" stroke="#444" stroke-width="1.4"/>
<ellipse cx="168.5" cy="217.5" rx="3" ry="3.6" fill="#fff" stroke="#444" stroke-width="1.1"/>
<rect x="175.3" y="225.3" width="13" height="8" rx="3.5" fill="#fff" stroke="#444" stroke-width="1.3" transform="rotate(-48 181.8 229.3)"/>
<rect x="190" y="233.5" width="13" height="8" rx="3.5" fill="#fff" stroke="#444" stroke-width="1.3" transform="rotate(-48 196.5 237.5)"/>
<path d="M530.2 336.7 Q529.5 336 530.2 335.3 L533.3 331.7 Q534 331 534.8 331.6 L536.2 332.4 Q537 333 537.8 332.4 L599.4 282.3 Q601 281 603 280.6 L603.8 280.4 Q606 280 607.9 282.4 L613.9 290.1 Q617 294 618.2 298.9 L619.5 304.2 Q621 310 617.2 314.7 L609 324.8 Q604 331 597.1 335 L578.9 345.5 Q572 349.5 566.6 349.3 L565.4 349.2 Q560 349 554.5 346.5 L541.8 340.8 Q540 340 538.6 341.4 L537.7 342.3 Q537 343 536.3 342.3 Z" fill="#d8d8d8" stroke="#444" stroke-width="1.4" stroke-linejoin="round" stroke-linecap="round" />
<path d="M537 334 L601.6 286.3 Q604 284.5 605.9 286.8 L610.9 293.1 Q614 297 615.3 301.8 L615.9 304.2 Q617.5 310 613.6 314.5 L607.2 321.9 Q602 328 595.1 332 L578.9 341.5 Q572 345.5 567 345.3 L566 345.2 Q561 345 555.5 342.7 L541 336.5" fill="none" stroke="#666" stroke-width="1" stroke-linejoin="round" stroke-linecap="round" />
<path d="M598 334.5 L601 333 L603 337 L600 338.5 Z" fill="#d8d8d8" stroke="#444" stroke-width="1.1" stroke-linejoin="round" />
<path d="M467.9 120.6 Q467.6 118.6 469.5 117.9 L495.3 109.1 Q501 107.1 506.4 104.7 L512.5 101.9 Q515.2 100.7 517.8 99.1 L519.2 98.2 Q522.4 96.2 526.2 95 L533.8 92.5 Q541.4 90 549.4 90.4 L554.9 90.7 Q562.9 91.2 569.9 94.9 L579.6 100.1 Q586.7 103.8 591.2 108.5 L592.5 109.9 Q596.7 114.3 598.3 120.1 L599.8 125.2 Q601.4 131 605.4 135.4 L612.8 143.6 Q618.1 149.5 621.5 156.8 L623.7 161.3 Q627.1 168.6 628.1 176.5 L628.8 182.5 Q630 192.4 628.2 202.2 L624.7 220.6 Q622.9 230.5 616.8 238.5 L612.9 243.6 Q608.1 250 601.9 255.1 L591 264 Q584.8 269 577.9 268.6 L575.5 268.5 Q569.5 268.1 564.5 264.8 L530.5 242.7 Q527.1 240.5 527.4 236.5 L528.9 208.7 Q529 206.7 527.3 205.7 L526.5 205.3 Q524.8 204.3 523.1 203.2 L490.1 182.6 Q486.7 180.5 484 177.5 L476.5 169.2 Q473.8 166.2 473.3 162.2 Z" fill="#dedede" stroke="#444" stroke-width="1.6" stroke-linejoin="round" stroke-linecap="round" />
<path d="M490.3 130.6 Q490.5 128.6 492.3 129.4 L524.4 143.9 Q526.2 144.8 526.2 146.8 L527.6 198 Q527.6 200 525.9 199 L488.9 178.6 Q487.1 177.6 487.3 175.6 Z" fill="#c9c9c9" stroke="#444" stroke-width="1.1" stroke-linejoin="round" stroke-linecap="round" />
<clipPath id="c1"><path d="M490.5 128.6 L526.2 144.8 L527.6 200 L487.1 177.6 Z"/></clipPath><g clip-path="url(#c1)">
<line x1="488.1" y1="127.1" x2="528.6" y2="144.3" stroke="#3c3c3c" stroke-width="3.6"/>
<line x1="488.1" y1="127.1" x2="528.6" y2="144.3" stroke="#8c8c8c" stroke-width="2.4"/>
<line x1="488.1" y1="133.5" x2="528.6" y2="150.6" stroke="#3c3c3c" stroke-width="3.6"/>
<line x1="488.1" y1="133.5" x2="528.6" y2="150.6" stroke="#8c8c8c" stroke-width="2.4"/>
<line x1="488.1" y1="139.8" x2="528.6" y2="156.9" stroke="#3c3c3c" stroke-width="3.6"/>
<line x1="488.1" y1="139.8" x2="528.6" y2="156.9" stroke="#8c8c8c" stroke-width="2.4"/>
<line x1="488.1" y1="146.1" x2="528.6" y2="163.2" stroke="#3c3c3c" stroke-width="3.6"/>
<line x1="488.1" y1="146.1" x2="528.6" y2="163.2" stroke="#8c8c8c" stroke-width="2.4"/>
<line x1="488.1" y1="152.4" x2="528.6" y2="169.5" stroke="#3c3c3c" stroke-width="3.6"/>
<line x1="488.1" y1="152.4" x2="528.6" y2="169.5" stroke="#8c8c8c" stroke-width="2.4"/>
<line x1="488.1" y1="158.7" x2="528.6" y2="175.8" stroke="#3c3c3c" stroke-width="3.6"/>
<line x1="488.1" y1="158.7" x2="528.6" y2="175.8" stroke="#8c8c8c" stroke-width="2.4"/>
<line x1="488.1" y1="165" x2="528.6" y2="182.1" stroke="#3c3c3c" stroke-width="3.6"/>
<line x1="488.1" y1="165" x2="528.6" y2="182.1" stroke="#8c8c8c" stroke-width="2.4"/>
<line x1="488.1" y1="171.3" x2="528.6" y2="188.5" stroke="#3c3c3c" stroke-width="3.6"/>
<line x1="488.1" y1="171.3" x2="528.6" y2="188.5" stroke="#8c8c8c" stroke-width="2.4"/>
<line x1="488.1" y1="177.6" x2="528.6" y2="194.8" stroke="#3c3c3c" stroke-width="3.6"/>
<line x1="488.1" y1="177.6" x2="528.6" y2="194.8" stroke="#8c8c8c" stroke-width="2.4"/>
<line x1="488.1" y1="183.9" x2="528.6" y2="201.1" stroke="#3c3c3c" stroke-width="3.6"/>
<line x1="488.1" y1="183.9" x2="528.6" y2="201.1" stroke="#8c8c8c" stroke-width="2.4"/>
<line x1="488.1" y1="190.2" x2="528.6" y2="207.4" stroke="#3c3c3c" stroke-width="3.6"/>
<line x1="488.1" y1="190.2" x2="528.6" y2="207.4" stroke="#8c8c8c" stroke-width="2.4"/>
<line x1="488.1" y1="196.5" x2="528.6" y2="213.7" stroke="#3c3c3c" stroke-width="3.6"/>
<line x1="488.1" y1="196.5" x2="528.6" y2="213.7" stroke="#8c8c8c" stroke-width="2.4"/>
</g>
<rect x="476.8" y="132.9" width="5.5" height="4.6" rx="1.6" fill="#eee" stroke="#333" stroke-width="1" transform="rotate(14 479.5 135.2)"/>
<rect x="476.8" y="139.4" width="5.5" height="4.6" rx="1.6" fill="#eee" stroke="#333" stroke-width="1" transform="rotate(14 479.5 141.7)"/>
<rect x="476.8" y="145.8" width="5.5" height="4.6" rx="1.6" fill="#eee" stroke="#333" stroke-width="1" transform="rotate(14 479.5 148.1)"/>
<rect x="476.8" y="152.2" width="5.5" height="4.6" rx="1.6" fill="#eee" stroke="#333" stroke-width="1" transform="rotate(14 479.5 154.5)"/>
<rect x="476.8" y="158.7" width="5.5" height="4.6" rx="1.6" fill="#eee" stroke="#333" stroke-width="1" transform="rotate(14 479.5 161)"/>
<path d="M467.6 118.6 L485.1 121.5 Q489 122.1 492.6 120.2 L495.7 118.6 Q501 115.7 505.9 112.3 L520 102.4" fill="none" stroke="#444" stroke-width="1.1" stroke-linejoin="round" stroke-linecap="round" />
<path d="M489 122.1 L523.9 136.6 Q527.6 138.1 528.3 142 L530.9 157.9 Q531.9 163.8 531.9 169.8 L531.9 206.7" fill="none" stroke="#444" stroke-width="1.3" stroke-linejoin="round" stroke-linecap="round" />
<path d="M522.4 96.7 L540.4 107.5 Q543.8 109.5 541.4 112.7 L530.1 127.3 Q527.6 130.5 527.6 133.9 L527.6 138.1" fill="none" stroke="#444" stroke-width="1.3" stroke-linejoin="round" stroke-linecap="round" />
<path d="M543.8 109.5 L561.9 104.1 Q567.6 102.4 573.6 103 L586.7 104.3" fill="none" stroke="#444" stroke-width="1.1" stroke-linejoin="round" stroke-linecap="round" />
<path d="M527.6 132.9 L539 124.5 Q543.8 121 549.4 118.7 L565 112.5 Q572.4 109.5 580.3 110.4 L595 111.9" fill="none" stroke="#444" stroke-width="1.3" stroke-linejoin="round" stroke-linecap="round" />
<ellipse cx="550.5" cy="95.2" rx="7.5" ry="3.6" fill="#f2f2f2" stroke="#555" stroke-width="1.1" transform="rotate(-8 550.5 95.2)"/>
<path d="M537.1 164 Q537.1 161 539.9 162.2 L550.6 167.3 Q553.3 168.6 556.2 169.6 L578.6 177.3 Q584.3 179.3 589.3 176 L597.6 170.7 Q601 168.6 603.5 165.5 L610.8 156.9 Q613.3 153.8 616 156.8 L621.3 162.6 Q626.7 168.6 627.6 176.5 L628.3 182.5 Q629.5 192.4 627.7 202.2 L624.2 220.6 Q622.4 230.5 616.4 238.5 L612.9 243.1 Q608.1 249.5 601.8 254.5 L591 263.1 Q584.8 268.1 578.1 267.5 L576 267.2 Q570 266.7 565.3 262.9 L539.5 241.9 Q537.1 240 537.1 237 Z" fill="#d0d0d0" stroke="#444" stroke-width="1.3" stroke-linejoin="round" stroke-linecap="round" />
<clipPath id="c2"><path d="M537.1 164 Q537.1 161 539.9 162.2 L550.6 167.3 Q553.3 168.6 556.2 169.6 L578.6 177.3 Q584.3 179.3 589.3 176 L597.6 170.7 Q601 168.6 603.5 165.5 L610.8 156.9 Q613.3 153.8 616 156.8 L621.3 162.6 Q626.7 168.6 627.6 176.5 L628.3 182.5 Q629.5 192.4 627.7 202.2 L624.2 220.6 Q622.4 230.5 616.4 238.5 L612.9 243.1 Q608.1 249.5 601.8 254.5 L591 263.1 Q584.8 268.1 578.1 267.5 L576 267.2 Q570 266.7 565.3 262.9 L539.5 241.9 Q537.1 240 537.1 237 Z"/></clipPath><g clip-path="url(#c2)">
<path d="M534.3 164.3 C542.6 167.3 574 179.6 584.3 182.4 C594.6 185.2 592.2 182.6 596.2 181 C600.2 179.3 604.1 175.6 608.1 172.6 C612.1 169.6 616 166.5 620 163.1 C624 159.7 629.9 154.2 631.9 152.4" fill="none" stroke="#3a3a3a" stroke-width="4.8" stroke-linejoin="round" />
<path d="M534.3 164.3 C542.6 167.3 574 179.6 584.3 182.4 C594.6 185.2 592.2 182.6 596.2 181 C600.2 179.3 604.1 175.6 608.1 172.6 C612.1 169.6 616 166.5 620 163.1 C624 159.7 629.9 154.2 631.9 152.4" fill="none" stroke="#8a8a8a" stroke-width="3" stroke-linejoin="round" />
<path d="M534.3 172.3 C542.6 175.3 574 187.6 584.3 190.4 C594.6 193.1 592.2 190.6 596.2 188.9 C600.2 187.3 604.1 183.6 608.1 180.6 C612.1 177.6 616 174.4 620 171.1 C624 167.7 629.9 162.1 631.9 160.4" fill="none" stroke="#3a3a3a" stroke-width="4.8" stroke-linejoin="round" />
<path d="M534.3 172.3 C542.6 175.3 574 187.6 584.3 190.4 C594.6 193.1 592.2 190.6 596.2 188.9 C600.2 187.3 604.1 183.6 608.1 180.6 C612.1 177.6 616 174.4 620 171.1 C624 167.7 629.9 162.1 631.9 160.4" fill="none" stroke="#8a8a8a" stroke-width="3" stroke-linejoin="round" />
<path d="M534.3 180.2 C542.6 183.3 574 195.6 584.3 198.3 C594.6 201.1 592.2 198.5 596.2 196.9 C600.2 195.3 604.1 191.5 608.1 188.6 C612.1 185.6 616 182.4 620 179 C624 175.7 629.9 170.1 631.9 168.3" fill="none" stroke="#3a3a3a" stroke-width="4.8" stroke-linejoin="round" />
<path d="M534.3 180.2 C542.6 183.3 574 195.6 584.3 198.3 C594.6 201.1 592.2 198.5 596.2 196.9 C600.2 195.3 604.1 191.5 608.1 188.6 C612.1 185.6 616 182.4 620 179 C624 175.7 629.9 170.1 631.9 168.3" fill="none" stroke="#8a8a8a" stroke-width="3" stroke-linejoin="round" />
<path d="M534.3 188.2 C542.6 191.2 574 203.5 584.3 206.3 C594.6 209.1 592.2 206.5 596.2 204.9 C600.2 203.3 604.1 199.5 608.1 196.5 C612.1 193.6 616 190.4 620 187 C624 183.7 629.9 178.1 631.9 176.3" fill="none" stroke="#3a3a3a" stroke-width="4.8" stroke-linejoin="round" />
<path d="M534.3 188.2 C542.6 191.2 574 203.5 584.3 206.3 C594.6 209.1 592.2 206.5 596.2 204.9 C600.2 203.3 604.1 199.5 608.1 196.5 C612.1 193.6 616 190.4 620 187 C624 183.7 629.9 178.1 631.9 176.3" fill="none" stroke="#8a8a8a" stroke-width="3" stroke-linejoin="round" />
<path d="M534.3 196.2 C542.6 199.2 574 211.5 584.3 214.3 C594.6 217.1 592.2 214.5 596.2 212.9 C600.2 211.2 604.1 207.5 608.1 204.5 C612.1 201.5 616 198.4 620 195 C624 191.6 629.9 186.1 631.9 184.3" fill="none" stroke="#3a3a3a" stroke-width="4.8" stroke-linejoin="round" />
<path d="M534.3 196.2 C542.6 199.2 574 211.5 584.3 214.3 C594.6 217.1 592.2 214.5 596.2 212.9 C600.2 211.2 604.1 207.5 608.1 204.5 C612.1 201.5 616 198.4 620 195 C624 191.6 629.9 186.1 631.9 184.3" fill="none" stroke="#8a8a8a" stroke-width="3" stroke-linejoin="round" />
<path d="M534.3 204.2 C542.6 207.2 574 219.5 584.3 222.3 C594.6 225 592.2 222.5 596.2 220.8 C600.2 219.2 604.1 215.5 608.1 212.5 C612.1 209.5 616 206.3 620 203 C624 199.6 629.9 194 631.9 192.3" fill="none" stroke="#3a3a3a" stroke-width="4.8" stroke-linejoin="round" />
<path d="M534.3 204.2 C542.6 207.2 574 219.5 584.3 222.3 C594.6 225 592.2 222.5 596.2 220.8 C600.2 219.2 604.1 215.5 608.1 212.5 C612.1 209.5 616 206.3 620 203 C624 199.6 629.9 194 631.9 192.3" fill="none" stroke="#8a8a8a" stroke-width="3" stroke-linejoin="round" />
<path d="M534.3 212.1 C542.6 215.2 574 227.5 584.3 230.2 C594.6 233 592.2 230.4 596.2 228.8 C600.2 227.2 604.1 223.5 608.1 220.5 C612.1 217.5 616 214.3 620 211 C624 207.6 629.9 202 631.9 200.2" fill="none" stroke="#3a3a3a" stroke-width="4.8" stroke-linejoin="round" />
<path d="M534.3 212.1 C542.6 215.2 574 227.5 584.3 230.2 C594.6 233 592.2 230.4 596.2 228.8 C600.2 227.2 604.1 223.5 608.1 220.5 C612.1 217.5 616 214.3 620 211 C624 207.6 629.9 202 631.9 200.2" fill="none" stroke="#8a8a8a" stroke-width="3" stroke-linejoin="round" />
<path d="M534.3 220.1 C542.6 223.1 574 235.4 584.3 238.2 C594.6 241 592.2 238.4 596.2 236.8 C600.2 235.2 604.1 231.4 608.1 228.5 C612.1 225.5 616 222.3 620 218.9 C624 215.6 629.9 210 631.9 208.2" fill="none" stroke="#3a3a3a" stroke-width="4.8" stroke-linejoin="round" />
<path d="M534.3 220.1 C542.6 223.1 574 235.4 584.3 238.2 C594.6 241 592.2 238.4 596.2 236.8 C600.2 235.2 604.1 231.4 608.1 228.5 C612.1 225.5 616 222.3 620 218.9 C624 215.6 629.9 210 631.9 208.2" fill="none" stroke="#8a8a8a" stroke-width="3" stroke-linejoin="round" />
<path d="M534.3 228.1 C542.6 231.1 574 243.4 584.3 246.2 C594.6 249 592.2 246.4 596.2 244.8 C600.2 243.1 604.1 239.4 608.1 236.4 C612.1 233.5 616 230.3 620 226.9 C624 223.5 629.9 218 631.9 216.2" fill="none" stroke="#3a3a3a" stroke-width="4.8" stroke-linejoin="round" />
<path d="M534.3 228.1 C542.6 231.1 574 243.4 584.3 246.2 C594.6 249 592.2 246.4 596.2 244.8 C600.2 243.1 604.1 239.4 608.1 236.4 C612.1 233.5 616 230.3 620 226.9 C624 223.5 629.9 218 631.9 216.2" fill="none" stroke="#8a8a8a" stroke-width="3" stroke-linejoin="round" />
<path d="M534.3 236.1 C542.6 239.1 574 251.4 584.3 254.2 C594.6 256.9 592.2 254.4 596.2 252.7 C600.2 251.1 604.1 247.4 608.1 244.4 C612.1 241.4 616 238.3 620 234.9 C624 231.5 629.9 226 631.9 224.2" fill="none" stroke="#3a3a3a" stroke-width="4.8" stroke-linejoin="round" />
<path d="M534.3 236.1 C542.6 239.1 574 251.4 584.3 254.2 C594.6 256.9 592.2 254.4 596.2 252.7 C600.2 251.1 604.1 247.4 608.1 244.4 C612.1 241.4 616 238.3 620 234.9 C624 231.5 629.9 226 631.9 224.2" fill="none" stroke="#8a8a8a" stroke-width="3" stroke-linejoin="round" />
<path d="M534.3 244 C542.6 247.1 574 259.4 584.3 262.1 C594.6 264.9 592.2 262.3 596.2 260.7 C600.2 259.1 604.1 255.4 608.1 252.4 C612.1 249.4 616 246.2 620 242.9 C624 239.5 629.9 233.9 631.9 232.1" fill="none" stroke="#3a3a3a" stroke-width="4.8" stroke-linejoin="round" />
<path d="M534.3 244 C542.6 247.1 574 259.4 584.3 262.1 C594.6 264.9 592.2 262.3 596.2 260.7 C600.2 259.1 604.1 255.4 608.1 252.4 C612.1 249.4 616 246.2 620 242.9 C624 239.5 629.9 233.9 631.9 232.1" fill="none" stroke="#8a8a8a" stroke-width="3" stroke-linejoin="round" />
<path d="M534.3 252 C542.6 255 574 267.3 584.3 270.1 C594.6 272.9 592.2 270.3 596.2 268.7 C600.2 267.1 604.1 263.3 608.1 260.4 C612.1 257.4 616 254.2 620 250.8 C624 247.5 629.9 241.9 631.9 240.1" fill="none" stroke="#3a3a3a" stroke-width="4.8" stroke-linejoin="round" />
<path d="M534.3 252 C542.6 255 574 267.3 584.3 270.1 C594.6 272.9 592.2 270.3 596.2 268.7 C600.2 267.1 604.1 263.3 608.1 260.4 C612.1 257.4 616 254.2 620 250.8 C624 247.5 629.9 241.9 631.9 240.1" fill="none" stroke="#8a8a8a" stroke-width="3" stroke-linejoin="round" />
<path d="M534.3 260 C542.6 263 574 275.3 584.3 278.1 C594.6 280.9 592.2 278.3 596.2 276.7 C600.2 275 604.1 271.3 608.1 268.3 C612.1 265.4 616 262.2 620 258.8 C624 255.4 629.9 249.9 631.9 248.1" fill="none" stroke="#3a3a3a" stroke-width="4.8" stroke-linejoin="round" />
<path d="M534.3 260 C542.6 263 574 275.3 584.3 278.1 C594.6 280.9 592.2 278.3 596.2 276.7 C600.2 275 604.1 271.3 608.1 268.3 C612.1 265.4 616 262.2 620 258.8 C624 255.4 629.9 249.9 631.9 248.1" fill="none" stroke="#8a8a8a" stroke-width="3" stroke-linejoin="round" />
</g>
<rect x="587.5" y="175.8" width="4.5" height="3.6" fill="#f4f4f4" stroke="#333" stroke-width="0.8"/>
<rect x="589" y="184.4" width="4.5" height="3.6" fill="#f4f4f4" stroke="#333" stroke-width="0.8"/>
<rect x="590.4" y="193" width="4.5" height="3.6" fill="#f4f4f4" stroke="#333" stroke-width="0.8"/>
<rect x="591.8" y="201.5" width="4.5" height="3.6" fill="#f4f4f4" stroke="#333" stroke-width="0.8"/>
<rect x="593.2" y="210.1" width="4.5" height="3.6" fill="#f4f4f4" stroke="#333" stroke-width="0.8"/>
<path d="M542.8 221 Q542.9 220 543.7 220.5 L562.4 230 Q563.3 230.5 563.3 231.5 L562.5 241.9 Q562.4 242.9 561.5 242.4 L543.3 232.8 Q542.4 232.4 542.4 231.4 Z" fill="#bdbdbd" stroke="#444" stroke-width="1.1" stroke-linejoin="round" stroke-linecap="round" />
<path d="M545.2 224.8 Q545.2 223.8 546.1 224.3 L560.5 231.5 Q561.4 231.9 561.3 232.9 L560.8 239.5 Q560.7 240.5 559.8 240 L545.7 232.8 Q544.8 232.4 544.8 231.4 Z" fill="#fff" stroke="#444" stroke-width="1.1" stroke-linejoin="round" stroke-linecap="round" />
<rect x="537" y="181.6" width="1.8" height="2.6" fill="#555"/>
<rect x="537" y="188.2" width="1.8" height="2.6" fill="#555"/>
<rect x="537" y="194.9" width="1.8" height="2.6" fill="#555"/>
<rect x="537" y="201.6" width="1.8" height="2.6" fill="#555"/>
<rect x="537" y="208.2" width="1.8" height="2.6" fill="#555"/>
<rect x="537" y="214.9" width="1.8" height="2.6" fill="#555"/>
<rect x="537" y="221.6" width="1.8" height="2.6" fill="#555"/>
<rect x="537" y="228.2" width="1.8" height="2.6" fill="#555"/>
<path d="M549 150.6 Q547.6 144.8 552.7 141.6 L557.8 138.4 Q562.9 135.2 568.6 133.4 L579 130.1 Q586.7 127.6 593.9 130.9 L597.9 132.7 Q603.3 135.2 606.5 139.5 L607.3 140.5 Q610.5 144.8 611.8 148.8 L612.4 150.9 Q613.3 153.8 611.4 156.1 L603.5 165.5 Q601 168.6 597.6 170.7 L589.3 176 Q584.3 179.3 578.6 177.3 L556.2 169.6 Q553.3 168.6 552.6 165.7 Z" fill="#e2e2e2" stroke="#444" stroke-width="1.3" stroke-linejoin="round" stroke-linecap="round" />
<path d="M548.9 145.2 Q551.6 145.6 550.7 149.7" fill="none" stroke="#444" stroke-width="3.4" stroke-linecap="round"/>
<path d="M548.9 145.2 Q551.6 145.6 550.7 149.7" fill="none" stroke="#8a8a8a" stroke-width="1.6" stroke-linecap="round"/>
<path d="M553.4 141.6 Q557.9 146.5 558.8 155.1" fill="none" stroke="#444" stroke-width="3.4" stroke-linecap="round"/>
<path d="M553.4 141.6 Q557.9 146.5 558.8 155.1" fill="none" stroke="#8a8a8a" stroke-width="1.6" stroke-linecap="round"/>
<path d="M558.8 138.9 Q564.6 147 566.9 158.7" fill="none" stroke="#444" stroke-width="3.4" stroke-linecap="round"/>
<path d="M558.8 138.9 Q564.6 147 566.9 158.7" fill="none" stroke="#8a8a8a" stroke-width="1.6" stroke-linecap="round"/>
<path d="M564.2 136.2 Q571.9 147.4 576 162.3" fill="none" stroke="#444" stroke-width="3.4" stroke-linecap="round"/>
<path d="M564.2 136.2 Q571.9 147.4 576 162.3" fill="none" stroke="#8a8a8a" stroke-width="1.6" stroke-linecap="round"/>
<path d="M569.2 133.9 Q578.9 143.6 585 156.9" fill="none" stroke="#444" stroke-width="3.4" stroke-linecap="round"/>
<path d="M569.2 133.9 Q578.9 143.6 585 156.9" fill="none" stroke="#8a8a8a" stroke-width="1.6" stroke-linecap="round"/>
<path d="M574.2 131.2 Q585.5 140.4 593.1 153.3" fill="none" stroke="#444" stroke-width="3.4" stroke-linecap="round"/>
<path d="M574.2 131.2 Q585.5 140.4 593.1 153.3" fill="none" stroke="#8a8a8a" stroke-width="1.6" stroke-linecap="round"/>
<path d="M579.6 130.3 Q591.8 137.8 600.3 148.8" fill="none" stroke="#444" stroke-width="3.4" stroke-linecap="round"/>
<path d="M579.6 130.3 Q591.8 137.8 600.3 148.8" fill="none" stroke="#8a8a8a" stroke-width="1.6" stroke-linecap="round"/>
<path d="M585 131.2 Q596.7 136.8 604.8 146.1" fill="none" stroke="#444" stroke-width="3.4" stroke-linecap="round"/>
<path d="M585 131.2 Q596.7 136.8 604.8 146.1" fill="none" stroke="#8a8a8a" stroke-width="1.6" stroke-linecap="round"/>
<path d="M590 129 Q600.8 134.7 608 144" fill="none" stroke="#444" stroke-width="3.4" stroke-linecap="round"/>
<path d="M590 129 Q600.8 134.7 608 144" fill="none" stroke="#8a8a8a" stroke-width="1.6" stroke-linecap="round"/>
<path d="M527.1 240.5 L564.6 267 Q569.5 270.5 575.5 270.8 L579 271 Q586.7 271.4 592.9 266.4 L610.5 251.9" fill="none" stroke="#555" stroke-width="1.1" stroke-linejoin="round" stroke-linecap="round" />
<path d="M430.1 63.2 Q429.6 63.9 430.3 64.3 L434.1 66.6 Q434.8 67 435.2 66.3 L436.6 63.9 Q437.1 63.3 436.4 62.8 L432.6 60.5 Q432 60.1 431.5 60.8 Z" fill="#bdbdbd" stroke="#3a3a3a" stroke-width="1.1" stroke-linejoin="round" stroke-linecap="round" />
<path d="M434.4 67.5 Q434 68.2 434.7 68.7 L442.4 74 Q443.1 74.5 443.5 73.8 L447.1 68 Q447.5 67.3 446.8 66.9 L438.5 62.5 Q437.8 62.1 437.4 62.8 Z" fill="#b0b0b0" stroke="#3a3a3a" stroke-width="1.1" stroke-linejoin="round" stroke-linecap="round" />
<line x1="435.6" y1="69.4" x2="439.6" y2="62.9" stroke="#444" stroke-width="1.3"/>
<line x1="437.8" y1="70.7" x2="441.7" y2="64.3" stroke="#444" stroke-width="1.3"/>
<line x1="439.9" y1="72" x2="443.9" y2="65.6" stroke="#444" stroke-width="1.3"/>
<line x1="442" y1="73.3" x2="446" y2="66.9" stroke="#444" stroke-width="1.3"/>
<path d="M443.3 74.1 Q442.9 74.8 443.5 75.3 L450.4 80.1 Q451.1 80.6 451.5 79.9 L456.1 72.4 Q456.5 71.7 455.8 71.3 L448.4 67.4 Q447.7 67 447.3 67.7 Z" fill="#e4e4e4" stroke="#3a3a3a" stroke-width="1.1" stroke-linejoin="round" stroke-linecap="round" />
<path d="M451 80.7 Q450.6 81.4 451.2 81.8 L457.6 85.7 Q458.2 86.1 458.7 85.4 L464.3 76.2 Q464.7 75.6 464 75.1 L457.7 71.3 Q457.1 70.8 456.6 71.5 Z" fill="#a8a8a8" stroke="#3a3a3a" stroke-width="1.1" stroke-linejoin="round" stroke-linecap="round" />
<line x1="454" y1="83.5" x2="460.5" y2="72.9" stroke="#555" stroke-width="0.9"/>
<path d="M458.8 85.3 Q458.3 86 459 86.4 L459.8 86.8 Q460.5 87.3 460.9 86.6 L466.3 77.7 Q466.7 77 466.1 76.6 L465.3 76.1 Q464.6 75.7 464.2 76.4 Z" fill="#e8e8e8" stroke="#3a3a3a" stroke-width="1.1" stroke-linejoin="round" stroke-linecap="round" />
<path d="M461 86.4 Q460.6 87.1 461.3 87.5 L470.8 92.7 Q471.5 93.1 472 92.4 L476.6 84.9 Q477 84.3 476.3 83.8 L467.3 77.7 Q466.6 77.2 466.2 77.9 Z" fill="#5a5a5a" stroke="#2a2a2a" stroke-width="1.1" stroke-linejoin="round" stroke-linecap="round" />
<line x1="462.9" y1="88.1" x2="468.6" y2="78.9" stroke="#2a2a2a" stroke-width="1.1"/>
<line x1="465" y1="89.4" x2="470.7" y2="80.2" stroke="#2a2a2a" stroke-width="1.1"/>
<line x1="467.2" y1="90.7" x2="472.8" y2="81.5" stroke="#2a2a2a" stroke-width="1.1"/>
<line x1="469.3" y1="92" x2="475" y2="82.8" stroke="#2a2a2a" stroke-width="1.1"/>
<path d="M473.1 90.6 Q472.7 91.2 473.4 91.6 L476.6 92.9 Q477.4 93.2 477.8 92.5 L479.3 90.1 Q479.7 89.4 479.1 88.9 L476.4 86.7 Q475.8 86.1 475.4 86.8 Z" fill="#444" stroke="#222" stroke-width="1.1" stroke-linejoin="round" stroke-linecap="round" />
<line x1="479" y1="91.6" x2="515" y2="108" stroke="#777" stroke-width="1"/>
<path d="M549.7 72.9 L548.9 85.9 L552.3 86.1 L553.1 73.1 Z" fill="#8a8a8a" stroke="#4a4a4a" stroke-width="1.1" stroke-linejoin="round" />
<line x1="549.6" y1="74.7" x2="552.9" y2="75.7" stroke="#555" stroke-width="0.6"/>
<line x1="549.5" y1="76.6" x2="552.8" y2="77.6" stroke="#555" stroke-width="0.6"/>
<line x1="549.4" y1="78.5" x2="552.7" y2="79.5" stroke="#555" stroke-width="0.6"/>
<line x1="549.2" y1="80.3" x2="552.6" y2="81.3" stroke="#555" stroke-width="0.6"/>
<line x1="549.1" y1="82.2" x2="552.5" y2="83.2" stroke="#555" stroke-width="0.6"/>
<line x1="549" y1="84" x2="552.4" y2="85" stroke="#555" stroke-width="0.6"/>
<path d="M548.7 67.3 L548.4 72.8 L554.4 73.2 L554.7 67.7 Z" fill="#666" stroke="#333" stroke-width="1.3" stroke-linejoin="round" />
<line x1="548.6" y1="69" x2="554.6" y2="69.3" stroke="#333" stroke-width="0.7"/>
<line x1="548.5" y1="70.6" x2="554.5" y2="71" stroke="#333" stroke-width="0.7"/>
<ellipse cx="551.7" cy="67.5" rx="1.8" ry="3" fill="#e8e8e8" stroke="#333" stroke-width="1.3" transform="rotate(93.4 551.7 67.5)"/>
<ellipse cx="551.7" cy="67.5" rx="0.8" ry="1.4" fill="#aaa" stroke="#555" stroke-width="0.7" transform="rotate(93.4 551.7 67.5)"/>
<path d="M433.8 366.2 Q431.9 362.7 433.9 361.2 L434.4 360.8 Q436.4 359.3 440.4 359.7 L443.7 360.1 Q446.7 360.4 447.6 357.6 L448.3 355.1 Q449.6 350.7 453.9 348.4 L454.9 347.9 Q459.3 345.6 465.3 345.8 L468.1 345.9 Q474.1 346.1 476.1 346.9 L476.5 347.1 Q478.5 347.9 478.5 347 L478.5 346.8 Q478.5 346 478.8 343 L479.3 339 Q479.5 337 481.2 336 L482.3 335.5 Q484 334.5 485.6 335.7 L492.9 341.3 Q494.5 342.5 494.6 344.5 L494.9 354 Q495 356 493.4 357.1 L491 358.8 Q488.5 360.5 488.7 363.5 L488.8 364.3 Q489 367.3 491.1 369.4 L492.8 371.1 Q495.9 374.1 496.1 378.8 L496.2 380.4 Q496.4 384.4 494.1 386.5 L493.5 387 Q491.3 389 491.3 392 L491.3 396.3 Q491.3 399.3 490.9 402.3 L489.5 412.5 Q489 416.4 485.7 418.6 L476 425.1 Q471.9 427.9 471.3 430.9 L471.2 431.6 Q470.7 434.7 465.6 436 L464.4 436.3 Q459.3 437.6 457.5 435.3 L457.1 434.7 Q455.3 432.4 453.7 435 L453.4 435.6 Q451.9 438.1 449 438.1 L448.4 438.1 Q445.6 438.1 445.4 435.1 L445.2 430.9 Q445 427.9 442.4 426.8 L441.9 426.6 Q439.3 425.6 439.1 428.6 L438.9 431.7 Q438.7 434.7 435.9 435 L435.3 435 Q432.4 435.3 432.3 432.3 L432 420.4 Q431.9 416.4 431.7 412.4 L431.4 403.1 Q431.3 398.1 433.1 394 L433.7 392.7 Q435.3 389 435.1 385 L434.9 382.7 Q434.7 378.7 436 376.1 L436.3 375.6 Q437.6 373 435.6 369.5 Z" fill="#c6c6c6" stroke="#444" stroke-width="1.4" stroke-linejoin="round" stroke-linecap="round" />
<path d="M478.9 340.8 Q478.7 337.8 481.3 336.4 L481.9 336.1 Q484.4 334.7 487.5 337.2 L491.8 340.8 Q494.9 343.3 494.7 347.3 L494.5 352.1 Q494.3 356.1 490.9 357.6 L489.4 358.3 Q486.7 359.5 486.3 356.5 L485.5 351.4 Q485 348.4 482.4 347.8 L481.9 347.6 Q479.3 346.9 479.1 343.9 Z" fill="#d4d4d4" stroke="#444" stroke-width="1.4" stroke-linejoin="round" stroke-linecap="round" />
<path d="M479.7 340.9 Q479.6 339.9 480.5 339.4 L481.2 339.1 Q482.1 338.7 482.2 339.7 L482.6 344.6 Q482.7 345.6 481.7 345.6 L481.1 345.6 Q480.1 345.6 480 344.6 Z" fill="#555" stroke="#333" stroke-width="0.9" stroke-linejoin="round" stroke-linecap="round" />
<ellipse cx="467.9" cy="355.6" rx="15.5" ry="7.5" fill="#b4b4b4" stroke="#444" stroke-width="1.4" transform="rotate(-6 467.9 355.6)"/>
<ellipse cx="467.3" cy="353.6" rx="13.5" ry="6.2" fill="#d0d0d0" stroke="#444" stroke-width="1.3" transform="rotate(-6 467.3 353.6)"/>
<ellipse cx="466.7" cy="352.2" rx="9" ry="4" fill="#6a6a6a" stroke="#333" stroke-width="1.1" transform="rotate(-6 466.7 352.2)"/>
<ellipse cx="466.4" cy="351.5" rx="5.5" ry="2.2" fill="#333" stroke="#222" stroke-width="0.7" transform="rotate(-6 466.4 351.5)"/>
<path d="M449.6 352.4 L450.5 349.9 Q451.3 347.9 454.2 347.1 L455.2 346.9 Q458.1 346.1 458.7 347.7 L459.3 349.6" fill="none" stroke="#333" stroke-width="1.4" stroke-linejoin="round" stroke-linecap="round" />
<path d="M474.1 346.7 L476.7 348.3 Q478.7 349.6 479.7 352.4 L481.1 356.5 Q482.1 359.3 480.1 360.8 L477.6 362.7" fill="none" stroke="#444" stroke-width="1.3" stroke-linejoin="round" stroke-linecap="round" />
<path d="M450.2 365.7 Q447.9 363.9 450.4 362.3 L451 362 Q453.6 360.4 456.6 360.8 L481.4 363.5 Q484.4 363.9 486.5 365.5 L486.9 365.9 Q489 367.5 486.1 368.4 L465.6 374.4 Q462.7 375.3 460.3 373.5 Z" fill="#d0d0d0" stroke="#333" stroke-width="1.3" stroke-linejoin="round" stroke-linecap="round" />
<path d="M447.9 363.9 L448.4 419.9" fill="none" stroke="#333" stroke-width="1.6" stroke-linejoin="round" stroke-linecap="round" />
<path d="M451.5 368.4 L452 416.4" fill="none" stroke="#555" stroke-width="1.1" stroke-linejoin="round" stroke-linecap="round" />
<path d="M462.7 375.3 L463 379.2 Q463.3 382.1 461.8 384.7 L461.1 385.9 Q459.3 389 459.3 393 L459.3 418.7" fill="none" stroke="#333" stroke-width="1.4" stroke-linejoin="round" stroke-linecap="round" />
<path d="M463.3 382.1 L466.1 380.3 Q468.4 378.7 472.3 377.6 L489 373" fill="none" stroke="#444" stroke-width="1.3" stroke-linejoin="round" stroke-linecap="round" />
<path d="M459.3 398.1 L463.5 396.1 Q466.1 394.7 466.2 397.7 L466.7 416.4" fill="none" stroke="#333" stroke-width="1.4" stroke-linejoin="round" stroke-linecap="round" />
<path d="M466.7 398.1 L489 391.3" fill="none" stroke="#444" stroke-width="1.3" stroke-linejoin="round" stroke-linecap="round" />
<path d="M460.5 404.9 Q460.4 403.9 461.3 403.5 L463.5 402.5 Q464.4 402.1 464.5 403.1 L464.6 409.1 Q464.7 410.1 463.7 410.5 L461.6 411.5 Q460.7 411.9 460.6 410.9 Z" fill="#dcdcdc" stroke="#333" stroke-width="1.3" stroke-linejoin="round" stroke-linecap="round" />
<path d="M473 411.1 Q473 410.1 473.9 409.7 L475.5 409.1 Q476.4 408.7 476.5 409.7 L476.6 414.3 Q476.7 415.3 475.7 415.7 L474.2 416.3 Q473.2 416.7 473.2 415.7 Z" fill="#dcdcdc" stroke="#333" stroke-width="1.3" stroke-linejoin="round" stroke-linecap="round" />
<ellipse cx="477" cy="384.4" rx="6.8" ry="8.6" fill="#d6d6d6" stroke="#333" stroke-width="1.7" transform="rotate(22 477 384.4)"/>
<ellipse cx="476.7" cy="385" rx="4" ry="5.6" fill="#bcbcbc" stroke="#444" stroke-width="1.1" transform="rotate(22 476.7 385)"/>
<path d="M487.7 386.4 Q487.6 384.4 489.3 383.7 L489.6 383.5 Q491.3 382.7 491.3 384.7 L491.6 396.1 Q491.6 398.1 489.9 398.9 L489.6 399.1 Q487.9 399.9 487.8 397.9 Z" fill="#d6d6d6" stroke="#333" stroke-width="1.4" stroke-linejoin="round" stroke-linecap="round" />
<ellipse cx="492.4" cy="377" rx="3.4" ry="5.2" fill="#b0b0b0" stroke="#333" stroke-width="1.3"/>
<path d="M448.4 419.9 L456.5 423.3 Q459.3 424.4 462.1 423.4 L489 413" fill="none" stroke="#333" stroke-width="1.4" stroke-linejoin="round" stroke-linecap="round" />
<path d="M449 424.4 L456.5 427.8 Q459.3 429 462.1 427.9 L488.4 417.6" fill="none" stroke="#444" stroke-width="1.3" stroke-linejoin="round" stroke-linecap="round" />
<line x1="462.7" y1="420.4" x2="462.9" y2="425.6" stroke="#444" stroke-width="1.1"/>
<line x1="467.3" y1="418.7" x2="467.5" y2="423.9" stroke="#444" stroke-width="1.1"/>
<line x1="471.9" y1="417" x2="472.1" y2="422.1" stroke="#444" stroke-width="1.1"/>
<line x1="476.4" y1="415.3" x2="476.7" y2="420.4" stroke="#444" stroke-width="1.1"/>
<line x1="481" y1="413.6" x2="481.2" y2="418.7" stroke="#444" stroke-width="1.1"/>
<path d="M458.5 434.3 Q457 431.9 459.6 430.3 L460.1 430 Q462.7 428.4 466.3 428.9 L467.1 429.1 Q470.7 429.6 470.5 431.9 L470.4 432.4 Q470.1 434.7 465.8 435.8 L464.8 436.1 Q460.4 437.2 458.9 434.8 Z" fill="#c8c8c8" stroke="#333" stroke-width="1.3" stroke-linejoin="round" stroke-linecap="round" />
<path d="M432.7 365.3 Q432.4 362.7 434.2 361.2 L434.6 360.8 Q436.4 359.3 439.4 359.7 L443.7 360.3 Q446.7 360.7 447.1 363.6 L447.5 367.7 Q447.9 370.7 444.9 370.7 L441.7 370.7 Q438.7 370.7 436.1 369.7 L435.6 369.5 Q433 368.4 432.7 365.9 Z" fill="#cacaca" stroke="#333" stroke-width="1.3" stroke-linejoin="round" stroke-linecap="round" />
<path d="M433.7 363.1 Q433.6 361.6 435 361.2 L436.1 361 Q437.6 360.7 437.7 362.1 L438 364.7 Q438.1 366.1 436.7 366.5 L435.6 366.7 Q434.1 367.1 434 365.6 Z" fill="#555" stroke="#222" stroke-width="1" stroke-linejoin="round" stroke-linecap="round" />
<path d="M437.6 373 L438.8 378 Q439.9 382.1 442.4 380.6 L443 380.3 Q445.6 378.7 446.6 376.1 L447.9 373" fill="none" stroke="#333" stroke-width="1.3" stroke-linejoin="round" stroke-linecap="round" />
<ellipse cx="442.1" cy="384.4" rx="3.6" ry="4.6" fill="#d8d8d8" stroke="#333" stroke-width="1.3"/>
<path d="M432.2 399.5 Q432.1 395.9 434 394.3 L434.5 394 Q436.4 392.4 440 392.9 L440.8 393.1 Q444.4 393.6 445.2 395.6 L445.4 396.1 Q446.1 398.1 445.4 401.2 L445.2 401.9 Q444.4 405 440.8 405.8 L440 405.9 Q436.4 406.7 434.6 405.4 L434.2 405.1 Q432.4 403.9 432.3 400.3 Z" fill="#e0e0e0" stroke="#333" stroke-width="1.4" stroke-linejoin="round" stroke-linecap="round" />
<path d="M432.8 398.1 L436 399.4 Q438.7 400.4 441.9 399.4 L445.8 398.1" fill="none" stroke="#444" stroke-width="1.1" stroke-linejoin="round" stroke-linecap="round" />
<path d="M436.5 411.5 Q435.9 410.1 437.3 409.6 L441.9 407.8 Q443.3 407.3 444.1 408.6 L445.3 410.6 Q446.1 411.9 444.9 412.6 L440 415.6 Q438.7 416.4 438.1 415.1 Z" fill="#8a8a8a" stroke="#222" stroke-width="1.3" stroke-linejoin="round" stroke-linecap="round" />
<line x1="441" y1="411.9" x2="444.4" y2="424.4" stroke="#222" stroke-width="1.8"/>
<path d="M432.1 418.4 Q432.1 416.4 434.1 416.1 L436.5 415.6 Q438.5 415.3 438.5 417.3 L438.9 431.7 Q438.9 434.7 436.1 435 L435.4 435.1 Q432.5 435.4 432.5 432.4 Z" fill="#b8b8b8" stroke="#333" stroke-width="1.3" stroke-linejoin="round" stroke-linecap="round" />
<path d="M445.4 429.9 Q445.3 427.9 447.3 427.7 L449.5 427.5 Q451.5 427.3 451.6 429.3 L451.8 435.1 Q452 438.1 449.2 438.2 L448.6 438.3 Q445.8 438.4 445.7 435.4 Z" fill="#b8b8b8" stroke="#333" stroke-width="1.3" stroke-linejoin="round" stroke-linecap="round" />
<line x1="432.3" y1="422.1" x2="438.7" y2="421.2" stroke="#444" stroke-width="1.1"/>
<line x1="445.6" y1="432.4" x2="451.7" y2="431.9" stroke="#444" stroke-width="1.1"/>
<path d="M495.1 422.6 Q492 418.6 493.7 416.1 L494 415.6 Q495.6 413.1 498.8 410.6 L510.2 401.4 Q514.1 398.3 519 397.3 L526 395.9 Q531.8 394.7 534.6 397.7 L535.2 398.4 Q538 401.4 535.7 406.9 L533.1 413 Q530.7 418.6 526.3 422.6 L518.6 429.4 Q514.1 433.4 508.4 431.5 L505.3 430.4 Q499.6 428.5 496.2 424.1 Z" fill="#d2d2d2" stroke="#444" stroke-width="1.4" stroke-linejoin="round" stroke-linecap="round" />
<ellipse cx="515.9" cy="411.3" rx="5.2" ry="6.5" fill="#fff" stroke="#444" stroke-width="1.3" transform="rotate(35 515.9 411.3)"/>
<ellipse cx="499.6" cy="418.2" rx="2.4" ry="2.8" fill="#fff" stroke="#444" stroke-width="1.1"/>
<ellipse cx="532.2" cy="403.2" rx="2.4" ry="2.8" fill="#fff" stroke="#444" stroke-width="1.1"/>
<ellipse cx="511.7" cy="421.3" rx="1.8" ry="2.2" fill="#fff" stroke="#444" stroke-width="1"/>
<ellipse cx="523.5" cy="415" rx="1.8" ry="2.2" fill="#fff" stroke="#444" stroke-width="1"/>
<path d="M547.4 412.5 L559.4 420.5 L561.6 417.1 L549.6 409.1 Z" fill="#8a8a8a" stroke="#4a4a4a" stroke-width="1.1" stroke-linejoin="round" />
<line x1="548.9" y1="413.5" x2="551.8" y2="410.6" stroke="#555" stroke-width="0.6"/>
<line x1="550.4" y1="414.5" x2="553.3" y2="411.6" stroke="#555" stroke-width="0.6"/>
<line x1="551.9" y1="415.5" x2="554.8" y2="412.6" stroke="#555" stroke-width="0.6"/>
<line x1="553.4" y1="416.5" x2="556.3" y2="413.6" stroke="#555" stroke-width="0.6"/>
<line x1="554.9" y1="417.5" x2="557.8" y2="414.6" stroke="#555" stroke-width="0.6"/>
<line x1="556.4" y1="418.5" x2="559.3" y2="415.6" stroke="#555" stroke-width="0.6"/>
<line x1="557.9" y1="419.5" x2="560.8" y2="416.6" stroke="#555" stroke-width="0.6"/>
<path d="M541.5 410.5 L546.5 413.8 L550.5 407.8 L545.5 404.5 Z" fill="#666" stroke="#333" stroke-width="1.3" stroke-linejoin="round" />
<line x1="543" y1="411.5" x2="547" y2="405.5" stroke="#333" stroke-width="0.7"/>
<line x1="544.5" y1="412.5" x2="548.5" y2="406.5" stroke="#333" stroke-width="0.7"/>
<ellipse cx="543.5" cy="407.5" rx="2.1" ry="3.6" fill="#e8e8e8" stroke="#333" stroke-width="1.3" transform="rotate(33.6 543.5 407.5)"/>
<ellipse cx="543.5" cy="407.5" rx="0.9" ry="1.6" fill="#aaa" stroke="#555" stroke-width="0.7" transform="rotate(33.6 543.5 407.5)"/>
<path d="M524.1 438.8 L535.9 446 L538.1 442.6 L526.2 435.4 Z" fill="#8a8a8a" stroke="#4a4a4a" stroke-width="1.1" stroke-linejoin="round" />
<line x1="525.6" y1="439.7" x2="528.4" y2="436.7" stroke="#555" stroke-width="0.6"/>
<line x1="527" y1="440.6" x2="529.8" y2="437.6" stroke="#555" stroke-width="0.6"/>
<line x1="528.5" y1="441.5" x2="531.3" y2="438.5" stroke="#555" stroke-width="0.6"/>
<line x1="530" y1="442.4" x2="532.8" y2="439.4" stroke="#555" stroke-width="0.6"/>
<line x1="531.5" y1="443.3" x2="534.3" y2="440.3" stroke="#555" stroke-width="0.6"/>
<line x1="533" y1="444.2" x2="535.8" y2="441.2" stroke="#555" stroke-width="0.6"/>
<line x1="534.5" y1="445.1" x2="537.3" y2="442.1" stroke="#555" stroke-width="0.6"/>
<path d="M518.1 437.1 L523.3 440.2 L527 434.1 L521.9 430.9 Z" fill="#666" stroke="#333" stroke-width="1.3" stroke-linejoin="round" />
<line x1="519.7" y1="438" x2="523.4" y2="431.9" stroke="#333" stroke-width="0.7"/>
<line x1="521.2" y1="438.9" x2="524.9" y2="432.8" stroke="#333" stroke-width="0.7"/>
<ellipse cx="520" cy="434" rx="2.1" ry="3.6" fill="#e8e8e8" stroke="#333" stroke-width="1.3" transform="rotate(31.2 520 434)"/>
<ellipse cx="520" cy="434" rx="0.9" ry="1.6" fill="#aaa" stroke="#555" stroke-width="0.7" transform="rotate(31.2 520 434)"/>
<path d="M545 445.3 Q543.1 443 544.7 440.6 L545 440 Q546.7 437.6 549.5 438.6 L552 439.6 Q553.9 440.3 553.8 442.3 L553.1 452.8 Q553 454.8 551.7 453.2 Z" fill="#d6d6d6" stroke="#444" stroke-width="1.3" stroke-linejoin="round" stroke-linecap="round" />
<path d="M552.5 469.7 Q550.7 468.3 550.8 464.3 L551.6 441.7 Q551.7 436.7 554.3 434.1 L554.9 433.5 Q557.5 430.9 561.4 429.7 L584.4 422.8 Q590.1 421.1 593.2 423.2 L593.9 423.7 Q597 425.8 596.6 431.8 L596.2 438.3 Q595.9 444.3 591.1 447.9 L568 465.4 Q564.8 467.8 561 469.2 L559.3 469.8 Q554.8 471.4 552.9 470 Z" fill="#cdcdcd" stroke="#444" stroke-width="1.4" stroke-linejoin="round" stroke-linecap="round" />
<path d="M554.8 470.2 L555.6 442.6 Q555.7 437.6 557.8 436 L558.2 435.6 Q560.2 434 564.1 432.8 L591 424.4" fill="none" stroke="#555" stroke-width="1.1" stroke-linejoin="round" stroke-linecap="round" />
<path d="M565.4 455.4 Q563 453 566.2 448.5 L566.9 447.5 Q570.2 443 576.3 440.6 L577.7 440 Q583.8 437.6 586.2 439.2 L586.8 439.6 Q589.2 441.2 586.3 445.3 L585.7 446.2 Q582.9 450.2 576.4 453.9 L574.9 454.7 Q568.4 458.4 565.9 455.9 Z" fill="#dcdcdc" stroke="#444" stroke-width="1.3" stroke-linejoin="round" stroke-linecap="round" />
<path d="M569.8 452.8 Q568.8 451.2 571 448.7 L571.5 448.2 Q573.8 445.7 577.5 444.3 L578.3 443.9 Q582 442.5 582.8 443.5 L583 443.8 Q583.8 444.8 581.7 447.3 L581.3 447.8 Q579.2 450.2 575.6 452.3 L574.8 452.7 Q571.1 454.8 570 453.1 Z" fill="#f2f2f2" stroke="#444" stroke-width="1.3" stroke-linejoin="round" stroke-linecap="round" />
<ellipse cx="589.7" cy="433.1" rx="5" ry="6" fill="#dedede" stroke="#444" stroke-width="1.3"/>
<ellipse cx="589.7" cy="433.1" rx="2.6" ry="3.2" fill="#fff" stroke="#444" stroke-width="1.1"/>
<ellipse cx="563" cy="462.9" rx="5" ry="6" fill="#dedede" stroke="#444" stroke-width="1.3"/>
<ellipse cx="563" cy="462.9" rx="2.6" ry="3.2" fill="#fff" stroke="#444" stroke-width="1.1"/>
<path d="M588 478.3 Q587.4 475 590.2 470.9 L594.8 464.2 Q598.2 459.3 603.7 456.8 L606 455.8 Q611.5 453.3 613.5 448.4 L613.9 447.4 Q616 442.5 619.2 440.9 L619.9 440.6 Q623 439 624.7 441.9 L625 442.5 Q626.7 445.4 624.8 451.1 L623.1 456.7 Q621.2 462.4 616.6 466.1 L612.9 469.1 Q608.2 472.9 603.8 476.9 L600.3 480 Q595.9 484.1 592.6 483.3 L591.9 483.1 Q588.7 482.3 588.1 479 Z" fill="#d6d6d6" stroke="#444" stroke-width="1.4" stroke-linejoin="round" stroke-linecap="round" />
<path d="M602.2 467.7 Q601 465.6 603.4 462.8 L603.9 462.1 Q606.4 459.3 610.9 457.7 L611.9 457.3 Q616.3 455.7 617.2 456.9 L617.3 457.2 Q618.2 458.4 615.3 461.8 L614.7 462.6 Q611.8 466 608.2 467.9 L607.3 468.3 Q603.7 470.2 602.5 468.1 Z" fill="#fff" stroke="#444" stroke-width="1.3" stroke-linejoin="round" stroke-linecap="round" />
<ellipse cx="620.9" cy="447.2" rx="2.4" ry="2.8" fill="#fff" stroke="#444" stroke-width="1.1"/>
<ellipse cx="594.6" cy="476.1" rx="2.4" ry="2.8" fill="#fff" stroke="#444" stroke-width="1.1"/>
<line x1="608.2" y1="463.8" x2="619.1" y2="471.1" stroke="#555" stroke-width="1"/>
<path d="M653.4 227 Q653 224 655.7 222.7 L669.5 216.1 Q672.2 214.8 675 213.7 L697.8 204.7 Q700.6 203.6 703.4 202.5 L707.1 201.1 Q711.8 199.3 716.7 200.2 L720.5 200.9 Q725.4 201.8 729.3 204.3 L730.2 204.8 Q734.1 207.3 734.9 210.7 L735.4 212.8 Q735.9 214.8 737.9 214.6 L741.2 214.4 Q745.2 214.1 747.1 217.2 L747.6 217.9 Q749.5 220.9 749.5 225.9 L749.5 238.2 Q749.5 243.2 748.9 248.2 L748.1 253.9 Q747.7 256.8 748.2 259.6 L748.4 260.2 Q748.9 263 747.2 265.8 L746.9 266.4 Q745.2 269.2 741.9 271.4 L729.1 279.9 Q726.6 281.6 723.9 282.9 L706.7 291 Q703.1 292.7 699.4 291.1 L697.2 290.2 Q694.5 289 691.8 287.6 L675.4 279 Q670.9 276.6 670.2 271.7 L668.9 262.3 Q668.5 259.3 666.1 257.4 L660 252.5 Q656.1 249.4 655.5 244.4 Z" fill="#d4d4d4" stroke="#444" stroke-width="1.4" stroke-linejoin="round" stroke-linecap="round" />
<path d="M668.9 262.3 Q668.5 259.3 671.3 260.3 L696.8 269.1 Q704.4 271.7 711.9 269 L722.6 265.3 Q725.4 264.3 725.6 267.2 L726.4 278.6 Q726.6 281.6 723.9 282.9 L706.7 291 Q703.1 292.7 699.4 291.1 L697.2 290.2 Q694.5 289 691.8 287.6 L675.4 279 Q670.9 276.6 670.2 271.7 Z" fill="#c6c6c6" stroke="#444" stroke-width="1.1" stroke-linejoin="round" stroke-linecap="round" />
<path d="M673.4 269.2 L675.5 274.7 Q677.1 279.1 683.8 281.3 L686.3 282.2 Q692 284.1 697.1 281 L704.4 276.6" fill="none" stroke="#444" stroke-width="1.3" stroke-linejoin="round" stroke-linecap="round" />
<path d="M677.1 270.4 L679.2 273.8 Q680.8 276.6 686.4 278.3 L693.2 280.3" fill="none" stroke="#555" stroke-width="1.1" stroke-linejoin="round" stroke-linecap="round" />
<path d="M694.5 289 L695.2 284.5 Q695.7 281.6 698.6 282.4 L702.4 283.5 Q704.4 284.1 704.1 286 L703.1 292.7" fill="none" stroke="#444" stroke-width="1.1" stroke-linejoin="round" stroke-linecap="round" />
<path d="M704.4 284.1 L719.2 276.6" fill="none" stroke="#444" stroke-width="1.1" stroke-linejoin="round" stroke-linecap="round" />
<ellipse cx="701.9" cy="282.2" rx="2.2" ry="1.2" fill="#eee" stroke="#444" stroke-width="0.9"/>
<path d="M653.9 227.7 C655.3 229.2 657.8 233.5 662.3 236.4 C666.8 239.3 673.8 242.8 680.8 245.1 C687.9 247.3 696.7 250.6 704.4 250 C712 249.4 719.1 245.7 726.6 241.4 C734.2 237 745.8 226.9 749.7 224" fill="none" stroke="#3a3a3a" stroke-width="3.8" stroke-linejoin="round" />
<path d="M653.9 227.7 C655.3 229.2 657.8 233.5 662.3 236.4 C666.8 239.3 673.8 242.8 680.8 245.1 C687.9 247.3 696.7 250.6 704.4 250 C712 249.4 719.1 245.7 726.6 241.4 C734.2 237 745.8 226.9 749.7 224" fill="none" stroke="#c4c4c4" stroke-width="2.1" stroke-linejoin="round" />
<path d="M653.9 232.7 C655.3 234.1 657.8 238.5 662.3 241.4 C666.8 244.2 673.8 247.8 680.8 250 C687.9 252.3 696.7 255.6 704.4 255 C712 254.4 719.1 250.6 726.6 246.3 C734.2 242 745.8 231.9 749.7 229" fill="none" stroke="#3a3a3a" stroke-width="3.8" stroke-linejoin="round" />
<path d="M653.9 232.7 C655.3 234.1 657.8 238.5 662.3 241.4 C666.8 244.2 673.8 247.8 680.8 250 C687.9 252.3 696.7 255.6 704.4 255 C712 254.4 719.1 250.6 726.6 246.3 C734.2 242 745.8 231.9 749.7 229" fill="none" stroke="#c4c4c4" stroke-width="2.1" stroke-linejoin="round" />
<path d="M653.9 237.6 C655.3 239.1 657.8 243.4 662.3 246.3 C666.8 249.2 673.8 252.7 680.8 255 C687.9 257.2 696.7 260.5 704.4 259.9 C712 259.3 719.1 255.6 726.6 251.3 C734.2 246.9 745.8 236.8 749.7 233.9" fill="none" stroke="#3a3a3a" stroke-width="3.8" stroke-linejoin="round" />
<path d="M653.9 237.6 C655.3 239.1 657.8 243.4 662.3 246.3 C666.8 249.2 673.8 252.7 680.8 255 C687.9 257.2 696.7 260.5 704.4 259.9 C712 259.3 719.1 255.6 726.6 251.3 C734.2 246.9 745.8 236.8 749.7 233.9" fill="none" stroke="#c4c4c4" stroke-width="2.1" stroke-linejoin="round" />
<path d="M653.9 242.6 C655.3 244 657.8 248.4 662.3 251.3 C666.8 254.2 673.8 257.7 680.8 259.9 C687.9 262.2 696.7 265.5 704.4 264.9 C712 264.3 719.1 260.5 726.6 256.2 C734.2 251.9 745.8 241.8 749.7 238.9" fill="none" stroke="#3a3a3a" stroke-width="3.8" stroke-linejoin="round" />
<path d="M653.9 242.6 C655.3 244 657.8 248.4 662.3 251.3 C666.8 254.2 673.8 257.7 680.8 259.9 C687.9 262.2 696.7 265.5 704.4 264.9 C712 264.3 719.1 260.5 726.6 256.2 C734.2 251.9 745.8 241.8 749.7 238.9" fill="none" stroke="#c4c4c4" stroke-width="2.1" stroke-linejoin="round" />
<path d="M653.9 247.5 C655.3 249 657.8 253.3 662.3 256.2 C666.8 259.1 673.8 262.6 680.8 264.9 C687.9 267.1 696.7 270.4 704.4 269.8 C712 269.2 719.1 265.5 726.6 261.2 C734.2 256.8 745.8 246.7 749.7 243.8" fill="none" stroke="#3a3a3a" stroke-width="3.8" stroke-linejoin="round" />
<path d="M653.9 247.5 C655.3 249 657.8 253.3 662.3 256.2 C666.8 259.1 673.8 262.6 680.8 264.9 C687.9 267.1 696.7 270.4 704.4 269.8 C712 269.2 719.1 265.5 726.6 261.2 C734.2 256.8 745.8 246.7 749.7 243.8" fill="none" stroke="#c4c4c4" stroke-width="2.1" stroke-linejoin="round" />
<path d="M700.8 205.6 Q700.6 203.6 702.5 202.9 L708.1 200.7 Q711.8 199.3 715.7 200 L721.5 201 Q725.4 201.8 728.8 203.9 L730.7 205.2 Q734.1 207.3 734.6 210.7 L735 212.8 Q735.3 214.8 733.4 215.4 L707.2 223.7 Q704.4 224.7 703.2 223 L703 222.6 Q701.9 220.9 701.7 218.9 Z" fill="#e0e0e0" stroke="#444" stroke-width="1.3" stroke-linejoin="round" stroke-linecap="round" />
<path d="M674.1 230.8 Q672.4 230.3 672.4 228.3 L672.4 223 Q672.4 218 673.7 217.1 L673.9 216.9 Q675.1 216 679.7 214 L698.8 205.6 Q701.5 204.4 703 205.1 L703.3 205.3 Q704.9 206.1 704.9 209.1 L704.9 220.9 Q704.9 222.9 702.9 223.5 L678.1 230.8 Q676.1 231.3 674.5 230.9 Z" fill="#e2e2e2" stroke="#3c3c3c" stroke-width="1.3" stroke-linejoin="round" stroke-linecap="round" />
<line x1="675.4" y1="217.2" x2="702.1" y2="205.8" stroke="#666" stroke-width="0.9"/>
<path d="M681 234.5 Q679.4 234.1 679.4 232.1 L679.4 223.7 Q679.4 218.7 680.6 217.8 L680.9 217.6 Q682.1 216.7 686.7 214.8 L704.7 207 Q707.5 205.8 709 206.6 L709.3 206.8 Q710.8 207.6 710.8 210.6 L710.8 224.6 Q710.8 226.6 708.9 227.2 L685 234.5 Q683.1 235 681.4 234.6 Z" fill="#d9d9d9" stroke="#3c3c3c" stroke-width="1.3" stroke-linejoin="round" stroke-linecap="round" />
<line x1="682.3" y1="218" x2="708.1" y2="207.3" stroke="#666" stroke-width="0.9"/>
<path d="M688 238.2 Q686.3 237.8 686.3 235.8 L686.3 224.5 Q686.3 219.5 687.5 218.6 L687.8 218.4 Q689 217.5 693.6 215.6 L710.6 208.5 Q713.4 207.3 714.9 208.1 L715.2 208.3 Q716.7 209.1 716.7 212.1 L716.7 228.3 Q716.7 230.3 714.8 230.9 L691.9 238.2 Q690 238.8 688.3 238.3 Z" fill="#e2e2e2" stroke="#3c3c3c" stroke-width="1.3" stroke-linejoin="round" stroke-linecap="round" />
<line x1="689.3" y1="218.7" x2="714" y2="208.8" stroke="#666" stroke-width="0.9"/>
<path d="M694.9 241.9 Q693.2 241.5 693.2 239.5 L693.2 225.2 Q693.2 220.2 694.4 219.3 L694.7 219.1 Q695.9 218.2 700.6 216.4 L716.5 209.9 Q719.3 208.8 720.8 209.6 L721.2 209.8 Q722.7 210.5 722.7 213.5 L722.7 232.1 Q722.7 234.1 720.8 234.7 L698.8 241.9 Q696.9 242.5 695.3 242 Z" fill="#d9d9d9" stroke="#3c3c3c" stroke-width="1.3" stroke-linejoin="round" stroke-linecap="round" />
<line x1="696.2" y1="219.5" x2="720" y2="210.3" stroke="#666" stroke-width="0.9"/>
<path d="M701.8 245.6 Q700.1 245.2 700.1 243.2 L700.1 225.9 Q700.1 220.9 701.4 220 L701.6 219.9 Q702.9 219 707.5 217.2 L722.5 211.4 Q725.3 210.3 726.8 211.1 L727.1 211.2 Q728.6 212 728.6 215 L728.6 235.8 Q728.6 237.8 726.7 238.4 L705.8 245.5 Q703.9 246.2 702.2 245.7 Z" fill="#e2e2e2" stroke="#3c3c3c" stroke-width="1.3" stroke-linejoin="round" stroke-linecap="round" />
<line x1="703.1" y1="220.2" x2="725.9" y2="211.8" stroke="#666" stroke-width="0.9"/>
<path d="M702.2 225.4 Q701.9 222.4 703.6 220.4 L703.9 219.9 Q705.6 217.8 709.6 217.5 L741 214.4 Q744 214.1 745.7 216.6 L746.7 217.9 Q748.9 220.9 748.9 223.7 L748.9 224.3 Q748.9 227.1 746.2 228.4 L709.5 245.9 Q706.8 247.2 705.7 246 L705.5 245.7 Q704.4 244.5 704.1 242.5 Z" fill="#dcdcdc" stroke="#3c3c3c" stroke-width="1.3" stroke-linejoin="round" stroke-linecap="round" />
<line x1="706.8" y1="227.1" x2="747.7" y2="220.9" stroke="#555" stroke-width="1.1"/>
<line x1="707.5" y1="237" x2="748.9" y2="223.7" stroke="#444" stroke-width="1.3"/>
<path d="M699.4 244.5 L698.7 241.7 Q698.2 239.5 699.7 236.9 L700.3 235.9 Q701.9 233.3 702.2 230.3 L703.1 222.4" fill="none" stroke="#333" stroke-width="1.6" stroke-linejoin="round" stroke-linecap="round" />
<path d="M701.4 204.6 Q701.3 203.6 702.2 203.3 L708.4 201.4 Q709.3 201.1 709.5 202.1 L710.3 205.1 Q710.5 206.1 709.6 206.5 L702.8 209.4 Q701.9 209.8 701.8 208.8 Z" fill="#e8e8e8" stroke="#444" stroke-width="1.1" stroke-linejoin="round" stroke-linecap="round" />
<ellipse cx="714.3" cy="202.1" rx="1.6" ry="1.2" fill="#888" stroke="#444" stroke-width="0.7"/>
<path d="M658.6 222.2 L662.4 225.3 Q664.8 227.1 666.4 226 L666.8 225.8 Q668.5 224.7 669.6 227.4 L670.9 230.8" fill="none" stroke="#444" stroke-width="1.3" stroke-linejoin="round" stroke-linecap="round" />
<path d="M665.4 227.1 L666.6 234.6" fill="none" stroke="#444" stroke-width="1.4" stroke-linejoin="round" stroke-linecap="round" />
<path d="M724.5 267.6 Q724.2 263.6 727.9 262.3 L740.2 258.1 Q744 256.8 746.3 257.9 L746.8 258.2 Q749.2 259.3 748.7 263.3 L748.4 265.2 Q747.9 269.2 744.5 271.3 L732.5 278.5 Q729.1 280.6 727.4 278.8 L727.1 278.4 Q725.4 276.6 725 272.7 Z" fill="#d8d8d8" stroke="#444" stroke-width="1.3" stroke-linejoin="round" stroke-linecap="round" />
<path d="M729.8 270.9 Q729.1 268 731.9 266.8 L737.5 264.2 Q740.2 263 740.8 265.8 L740.9 266.4 Q741.5 269.2 738.9 270.7 L733.6 273.9 Q731 275.4 730.2 272.5 Z" fill="#e8e8e8" stroke="#444" stroke-width="1.1" stroke-linejoin="round" stroke-linecap="round" />
<ellipse cx="745.4" cy="262.4" rx="1.8" ry="2.6" fill="#444" stroke="#333" stroke-width="0.9"/>
<ellipse cx="721.1" cy="275.4" rx="1.8" ry="2.6" fill="#444" stroke="#333" stroke-width="0.9"/>
<path d="M714.3 272.9 L717 271.6 Q719.2 270.4 721.4 272.1 L721.9 272.5 Q724.2 274.2 723 276.9 L721.7 280.3" fill="none" stroke="#444" stroke-width="1.3" stroke-linejoin="round" stroke-linecap="round" />
<path d="M702.2 148 L702.2 161.5 L706.4 161.5 L706.4 148 Z" fill="#8a8a8a" stroke="#4a4a4a" stroke-width="1.1" stroke-linejoin="round" />
<line x1="702.2" y1="149.9" x2="706.4" y2="150.7" stroke="#555" stroke-width="0.6"/>
<line x1="702.2" y1="151.9" x2="706.4" y2="152.7" stroke="#555" stroke-width="0.6"/>
<line x1="702.2" y1="153.8" x2="706.4" y2="154.6" stroke="#555" stroke-width="0.6"/>
<line x1="702.2" y1="155.7" x2="706.4" y2="156.5" stroke="#555" stroke-width="0.6"/>
<line x1="702.2" y1="157.6" x2="706.4" y2="158.4" stroke="#555" stroke-width="0.6"/>
<line x1="702.2" y1="159.6" x2="706.4" y2="160.4" stroke="#555" stroke-width="0.6"/>
<path d="M700.4 141 L700.4 148 L708.1 148 L708.1 141 Z" fill="#666" stroke="#333" stroke-width="1.3" stroke-linejoin="round" />
<line x1="700.4" y1="143.1" x2="708.1" y2="143.1" stroke="#333" stroke-width="0.7"/>
<line x1="700.4" y1="145.2" x2="708.1" y2="145.2" stroke="#333" stroke-width="0.7"/>
<ellipse cx="704.3" cy="141" rx="2.3" ry="3.9" fill="#e8e8e8" stroke="#333" stroke-width="1.3" transform="rotate(90 704.3 141)"/>
<ellipse cx="704.3" cy="141" rx="1" ry="1.8" fill="#aaa" stroke="#555" stroke-width="0.7" transform="rotate(90 704.3 141)"/>
<path d="M654.7 171.5 L654.7 185 L658.9 185 L658.9 171.5 Z" fill="#8a8a8a" stroke="#4a4a4a" stroke-width="1.1" stroke-linejoin="round" />
<line x1="654.7" y1="173.4" x2="658.9" y2="174.2" stroke="#555" stroke-width="0.6"/>
<line x1="654.7" y1="175.4" x2="658.9" y2="176.2" stroke="#555" stroke-width="0.6"/>
<line x1="654.7" y1="177.3" x2="658.9" y2="178.1" stroke="#555" stroke-width="0.6"/>
<line x1="654.7" y1="179.2" x2="658.9" y2="180" stroke="#555" stroke-width="0.6"/>
<line x1="654.7" y1="181.1" x2="658.9" y2="181.9" stroke="#555" stroke-width="0.6"/>
<line x1="654.7" y1="183.1" x2="658.9" y2="183.9" stroke="#555" stroke-width="0.6"/>
<path d="M652.9 164.5 L652.9 171.5 L660.6 171.5 L660.6 164.5 Z" fill="#666" stroke="#333" stroke-width="1.3" stroke-linejoin="round" />
<line x1="652.9" y1="166.6" x2="660.6" y2="166.6" stroke="#333" stroke-width="0.7"/>
<line x1="652.9" y1="168.7" x2="660.6" y2="168.7" stroke="#333" stroke-width="0.7"/>
<ellipse cx="656.8" cy="164.5" rx="2.3" ry="3.9" fill="#e8e8e8" stroke="#333" stroke-width="1.3" transform="rotate(90 656.8 164.5)"/>
<ellipse cx="656.8" cy="164.5" rx="1" ry="1.8" fill="#aaa" stroke="#555" stroke-width="0.7" transform="rotate(90 656.8 164.5)"/>
<path d="M690.8 184 L690.8 197.5 L695 197.5 L695 184 Z" fill="#8a8a8a" stroke="#4a4a4a" stroke-width="1.1" stroke-linejoin="round" />
<line x1="690.8" y1="185.9" x2="695" y2="186.7" stroke="#555" stroke-width="0.6"/>
<line x1="690.8" y1="187.9" x2="695" y2="188.7" stroke="#555" stroke-width="0.6"/>
<line x1="690.8" y1="189.8" x2="695" y2="190.6" stroke="#555" stroke-width="0.6"/>
<line x1="690.8" y1="191.7" x2="695" y2="192.5" stroke="#555" stroke-width="0.6"/>
<line x1="690.8" y1="193.6" x2="695" y2="194.4" stroke="#555" stroke-width="0.6"/>
<line x1="690.8" y1="195.6" x2="695" y2="196.4" stroke="#555" stroke-width="0.6"/>
<path d="M689 177 L689 184 L696.8 184 L696.8 177 Z" fill="#666" stroke="#333" stroke-width="1.3" stroke-linejoin="round" />
<line x1="689" y1="179.1" x2="696.8" y2="179.1" stroke="#333" stroke-width="0.7"/>
<line x1="689" y1="181.2" x2="696.8" y2="181.2" stroke="#333" stroke-width="0.7"/>
<ellipse cx="692.9" cy="177" rx="2.3" ry="3.9" fill="#e8e8e8" stroke="#333" stroke-width="1.3" transform="rotate(90 692.9 177)"/>
<ellipse cx="692.9" cy="177" rx="1" ry="1.8" fill="#aaa" stroke="#555" stroke-width="0.7" transform="rotate(90 692.9 177)"/>
<path d="M730.1 173.5 L730.1 187 L734.3 187 L734.3 173.5 Z" fill="#8a8a8a" stroke="#4a4a4a" stroke-width="1.1" stroke-linejoin="round" />
<line x1="730.1" y1="175.4" x2="734.3" y2="176.2" stroke="#555" stroke-width="0.6"/>
<line x1="730.1" y1="177.4" x2="734.3" y2="178.2" stroke="#555" stroke-width="0.6"/>
<line x1="730.1" y1="179.3" x2="734.3" y2="180.1" stroke="#555" stroke-width="0.6"/>
<line x1="730.1" y1="181.2" x2="734.3" y2="182" stroke="#555" stroke-width="0.6"/>
<line x1="730.1" y1="183.1" x2="734.3" y2="183.9" stroke="#555" stroke-width="0.6"/>
<line x1="730.1" y1="185.1" x2="734.3" y2="185.9" stroke="#555" stroke-width="0.6"/>
<path d="M728.4 166.5 L728.4 173.5 L736.1 173.5 L736.1 166.5 Z" fill="#666" stroke="#333" stroke-width="1.3" stroke-linejoin="round" />
<line x1="728.4" y1="168.6" x2="736.1" y2="168.6" stroke="#333" stroke-width="0.7"/>
<line x1="728.4" y1="170.7" x2="736.1" y2="170.7" stroke="#333" stroke-width="0.7"/>
<ellipse cx="732.2" cy="166.5" rx="2.3" ry="3.9" fill="#e8e8e8" stroke="#333" stroke-width="1.3" transform="rotate(90 732.2 166.5)"/>
<ellipse cx="732.2" cy="166.5" rx="1" ry="1.8" fill="#aaa" stroke="#555" stroke-width="0.7" transform="rotate(90 732.2 166.5)"/>
<path d="M654.1 139.9 L640.6 146.7 L642.4 150.3 L655.9 143.6 Z" fill="#8a8a8a" stroke="#4a4a4a" stroke-width="1.1" stroke-linejoin="round" />
<line x1="652.4" y1="140.8" x2="653.5" y2="144.8" stroke="#555" stroke-width="0.6"/>
<line x1="650.7" y1="141.6" x2="651.8" y2="145.6" stroke="#555" stroke-width="0.6"/>
<line x1="649" y1="142.5" x2="650.1" y2="146.4" stroke="#555" stroke-width="0.6"/>
<line x1="647.4" y1="143.3" x2="648.5" y2="147.3" stroke="#555" stroke-width="0.6"/>
<line x1="645.7" y1="144.1" x2="646.8" y2="148.1" stroke="#555" stroke-width="0.6"/>
<line x1="644" y1="145" x2="645.1" y2="149" stroke="#555" stroke-width="0.6"/>
<line x1="642.3" y1="145.8" x2="643.4" y2="149.8" stroke="#555" stroke-width="0.6"/>
<path d="M658 136.5 L653.6 138.8 L656.5 144.7 L661 142.5 Z" fill="#666" stroke="#333" stroke-width="1.3" stroke-linejoin="round" />
<line x1="656.7" y1="137.2" x2="659.6" y2="143.1" stroke="#333" stroke-width="0.7"/>
<line x1="655.3" y1="137.9" x2="658.3" y2="143.8" stroke="#333" stroke-width="0.7"/>
<ellipse cx="659.5" cy="139.5" rx="2" ry="3.3" fill="#e8e8e8" stroke="#333" stroke-width="1.3" transform="rotate(153.4 659.5 139.5)"/>
<ellipse cx="659.5" cy="139.5" rx="0.9" ry="1.5" fill="#aaa" stroke="#555" stroke-width="0.7" transform="rotate(153.4 659.5 139.5)"/>
<path d="M734.8 311.2 Q732.8 310.7 732.8 308.7 L732.3 288.1 Q732.2 284.1 735.6 282 L770.9 260.2 Q774.3 258.1 775.7 259.7 L776 260.1 Q777.4 261.8 777.6 264.8 L779 283.5 Q779.2 286.5 776.7 288.1 L740.3 310.3 Q737.8 311.9 735.5 311.3 Z" fill="#d4d4d4" stroke="#444" stroke-width="1.4" stroke-linejoin="round" stroke-linecap="round" />
<path d="M735.9 308.8 L735.6 288.9 Q735.5 285.9 738.1 284.3 L775.5 261.2" fill="none" stroke="#666" stroke-width="1" stroke-linejoin="round" stroke-linecap="round" />
<path d="M751.9 290.7 Q750.8 289 753.3 285.9 L753.8 285.3 Q756.3 282.2 760.2 280 L761.1 279.5 Q765 277.3 766.1 278.4 L766.4 278.6 Q767.5 279.7 765 283.1 L764.4 283.8 Q761.9 287.2 758 289.7 L757.1 290.2 Q753.2 292.7 752.1 291.1 Z" fill="#fff" stroke="#444" stroke-width="1.3" stroke-linejoin="round" stroke-linecap="round" />
<ellipse cx="746.4" cy="292.7" rx="2.1" ry="2.5" fill="#bbb" stroke="#444" stroke-width="1.1"/>
<ellipse cx="769.3" cy="277.3" rx="2.1" ry="2.5" fill="#bbb" stroke="#444" stroke-width="1.1"/>
<path d="M786.7 321 Q786.4 316 788.4 314 L788.9 313.5 Q790.9 311.5 794.5 309.6 L819.4 296.2 Q822.9 294.3 826.7 293 L836.6 289.5 Q840.3 288.1 841.5 292 L842.4 295 Q843.5 298.9 844.1 302.8 L846.7 322.4 Q847.2 326.3 847.1 330.3 L847 347.5 Q847 351.5 843.8 353.9 L818.1 373.1 Q814.9 375.5 811.8 375 L811 374.8 Q808.1 374.3 805.3 373.3 L794.5 369.2 Q789.8 367.5 789.5 362.5 Z" fill="#d0d0d0" stroke="#444" stroke-width="1.4" stroke-linejoin="round" stroke-linecap="round" />
<path d="M789.8 365.6 L789.2 322.2 Q789.1 317.2 791.2 315.3 L791.6 314.9 Q793.7 313.1 797.2 311.2 L821.2 298.5 Q824.8 296.6 828.5 295.3 L838.9 291.6" fill="none" stroke="#444" stroke-width="1.1" stroke-linejoin="round" stroke-linecap="round" />
<path d="M793.7 366.6 L792.9 324 Q792.8 319 794.8 317.1 L795.3 316.7 Q797.3 314.9 800.9 313.1 L824 301.2 Q827.5 299.3 831.3 297.9 L840.8 294.3" fill="none" stroke="#555" stroke-width="1.1" stroke-linejoin="round" stroke-linecap="round" />
<path d="M797.8 367.5 L796.6 326.3 Q796.4 321.3 798.5 319.4 L798.9 319 Q801 317.2 804.5 315.3 L829.8 302.3" fill="none" stroke="#555" stroke-width="1.1" stroke-linejoin="round" stroke-linecap="round" />
<path d="M803.6 326.7 Q803.5 321.7 805.6 319.9 L806 319.5 Q808.1 317.6 811.7 315.8 L830.8 306.4 Q834.4 304.6 838 303.6 L838.8 303.3 Q842.4 302.3 843.1 306.2 L845.8 322.4 Q846.5 326.3 846.5 330.3 L846.5 347 Q846.5 351 843.3 353.4 L818.2 372 Q814.9 374.3 812.9 373.8 L812.4 373.7 Q810.4 373.2 810.2 370.2 L809.4 354.5 Q809.2 351.5 807 349.5 L806.5 349 Q804.2 346.9 804.1 342.9 Z" fill="#dcdcdc" stroke="#444" stroke-width="1.3" stroke-linejoin="round" stroke-linecap="round" />
<line x1="808.1" y1="324" x2="822.9" y2="317.2" stroke="#555" stroke-width="1"/>
<path d="M822.3 334.1 Q821.8 333.2 822.1 332.2 L826.8 319.1 Q827.5 317.2 828 319.1 L830.4 327.8 Q830.9 329.7 831.4 331.7 L832.7 337 Q833.2 338.9 831.3 339.3 L827.6 340.1 Q825.7 340.5 824.7 338.7 Z" fill="#eee" stroke="#444" stroke-width="1.1" stroke-linejoin="round" stroke-linecap="round" />
<ellipse cx="816.1" cy="332.7" rx="2" ry="2.6" fill="#aaa" stroke="#444" stroke-width="1"/>
<ellipse cx="837.8" cy="315.6" rx="2" ry="2.6" fill="#aaa" stroke="#444" stroke-width="1"/>
<path d="M836.6 324.6 Q835.5 321.7 838.2 320.4 L839.7 319.7 Q842.4 318.3 843.6 321.1 L844.6 323.6 Q845.8 326.3 843.3 328 L841.4 329.2 Q838.9 330.9 837.9 328.1 Z" fill="#e6e6e6" stroke="#444" stroke-width="1.1" stroke-linejoin="round" stroke-linecap="round" />
<path d="M809.2 351.5 L818 347.1 Q820.7 345.8 823.6 346.5 L826.9 347.3 Q829.8 348 830.8 345.5 L831.1 344.9 Q832.1 342.3 834.9 341.4 L845.8 337.7" fill="none" stroke="#444" stroke-width="1.3" stroke-linejoin="round" stroke-linecap="round" />
<path d="M829.8 348 L830.3 360.6" fill="none" stroke="#444" stroke-width="1.3" stroke-linejoin="round" stroke-linecap="round" />
<path d="M818.8 365.6 Q817.2 364 819.7 362.4 L825 358.9 Q827.5 357.2 828.7 358.7 L829 359.1 Q830.3 360.6 827.8 362.4 L823.1 365.7 Q820.7 367.5 819.1 365.9 Z" fill="#eee" stroke="#444" stroke-width="1.1" stroke-linejoin="round" stroke-linecap="round" />
<path d="M833.7 350 Q833.2 348 835 347.1 L840.6 344.4 Q842.4 343.5 842.7 345.4 L842.8 346.1 Q843.1 348 841.3 349 L836.1 351.7 Q834.4 352.6 833.9 350.7 Z" fill="#e8e8e8" stroke="#444" stroke-width="1" stroke-linejoin="round" stroke-linecap="round" />
<ellipse cx="797.8" cy="371.4" rx="4.5" ry="4" fill="#ddd" stroke="#444" stroke-width="1.3"/>
<ellipse cx="797.8" cy="371.4" rx="2.5" ry="2.2" fill="#f4f4f4" stroke="#555" stroke-width="0.9"/>
<path d="M783.1 363.9 Q782.9 362.9 783.9 362.5 L787.7 361 Q788.6 360.6 788.8 361.6 L789.6 366.5 Q789.8 367.5 788.8 367.8 L785 369 Q784.1 369.3 783.9 368.3 Z" fill="#999" stroke="#444" stroke-width="1.1" stroke-linejoin="round" stroke-linecap="round" />
<path d="M896.2 353.2 L863.4 334.6 L861.6 338 L894.3 356.5 Z" fill="#8a8a8a" stroke="#4a4a4a" stroke-width="1.1" stroke-linejoin="round" />
<line x1="894.7" y1="352.3" x2="892.1" y2="355.3" stroke="#555" stroke-width="0.6"/>
<line x1="893.2" y1="351.5" x2="890.7" y2="354.4" stroke="#555" stroke-width="0.6"/>
<line x1="891.8" y1="350.6" x2="889.2" y2="353.6" stroke="#555" stroke-width="0.6"/>
<line x1="890.3" y1="349.8" x2="887.7" y2="352.8" stroke="#555" stroke-width="0.6"/>
<line x1="888.8" y1="349" x2="886.2" y2="351.9" stroke="#555" stroke-width="0.6"/>
<line x1="887.3" y1="348.1" x2="884.7" y2="351.1" stroke="#555" stroke-width="0.6"/>
<line x1="885.8" y1="347.3" x2="883.2" y2="350.2" stroke="#555" stroke-width="0.6"/>
<line x1="884.3" y1="346.4" x2="881.7" y2="349.4" stroke="#555" stroke-width="0.6"/>
<line x1="882.8" y1="345.6" x2="880.2" y2="348.5" stroke="#555" stroke-width="0.6"/>
<line x1="881.3" y1="344.7" x2="878.7" y2="347.7" stroke="#555" stroke-width="0.6"/>
<line x1="879.8" y1="343.9" x2="877.2" y2="346.9" stroke="#555" stroke-width="0.6"/>
<line x1="878.3" y1="343.1" x2="875.8" y2="346" stroke="#555" stroke-width="0.6"/>
<line x1="876.9" y1="342.2" x2="874.3" y2="345.2" stroke="#555" stroke-width="0.6"/>
<line x1="875.4" y1="341.4" x2="872.8" y2="344.3" stroke="#555" stroke-width="0.6"/>
<line x1="873.9" y1="340.5" x2="871.3" y2="343.5" stroke="#555" stroke-width="0.6"/>
<line x1="872.4" y1="339.7" x2="869.8" y2="342.6" stroke="#555" stroke-width="0.6"/>
<line x1="870.9" y1="338.8" x2="868.3" y2="341.8" stroke="#555" stroke-width="0.6"/>
<line x1="869.4" y1="338" x2="866.8" y2="340.9" stroke="#555" stroke-width="0.6"/>
<line x1="867.9" y1="337.2" x2="865.3" y2="340.1" stroke="#555" stroke-width="0.6"/>
<line x1="866.4" y1="336.3" x2="863.8" y2="339.3" stroke="#555" stroke-width="0.6"/>
<line x1="864.9" y1="335.5" x2="862.3" y2="338.4" stroke="#555" stroke-width="0.6"/>
<path d="M902.3 354.7 L897 351.7 L893.5 358 L898.7 360.9 Z" fill="#666" stroke="#333" stroke-width="1.3" stroke-linejoin="round" />
<line x1="900.7" y1="353.8" x2="897.2" y2="360" stroke="#333" stroke-width="0.7"/>
<line x1="899.1" y1="352.9" x2="895.6" y2="359.1" stroke="#333" stroke-width="0.7"/>
<ellipse cx="900.5" cy="357.8" rx="2.1" ry="3.6" fill="#e8e8e8" stroke="#333" stroke-width="1.3" transform="rotate(-150.5 900.5 357.8)"/>
<ellipse cx="900.5" cy="357.8" rx="0.9" ry="1.6" fill="#aaa" stroke="#555" stroke-width="0.7" transform="rotate(-150.5 900.5 357.8)"/>
<path d="M892.8 374.8 L859 355.3 L857 358.7 L890.8 378.2 Z" fill="#8a8a8a" stroke="#4a4a4a" stroke-width="1.1" stroke-linejoin="round" />
<line x1="891.2" y1="374" x2="888.6" y2="376.9" stroke="#555" stroke-width="0.6"/>
<line x1="889.7" y1="373.1" x2="887.1" y2="376" stroke="#555" stroke-width="0.6"/>
<line x1="888.2" y1="372.2" x2="885.5" y2="375.1" stroke="#555" stroke-width="0.6"/>
<line x1="886.6" y1="371.3" x2="884" y2="374.2" stroke="#555" stroke-width="0.6"/>
<line x1="885.1" y1="370.4" x2="882.5" y2="373.3" stroke="#555" stroke-width="0.6"/>
<line x1="883.5" y1="369.5" x2="880.9" y2="372.4" stroke="#555" stroke-width="0.6"/>
<line x1="882" y1="368.6" x2="879.4" y2="371.6" stroke="#555" stroke-width="0.6"/>
<line x1="880.5" y1="367.7" x2="877.9" y2="370.7" stroke="#555" stroke-width="0.6"/>
<line x1="878.9" y1="366.9" x2="876.3" y2="369.8" stroke="#555" stroke-width="0.6"/>
<line x1="877.4" y1="366" x2="874.8" y2="368.9" stroke="#555" stroke-width="0.6"/>
<line x1="875.9" y1="365.1" x2="873.2" y2="368" stroke="#555" stroke-width="0.6"/>
<line x1="874.3" y1="364.2" x2="871.7" y2="367.1" stroke="#555" stroke-width="0.6"/>
<line x1="872.8" y1="363.3" x2="870.2" y2="366.2" stroke="#555" stroke-width="0.6"/>
<line x1="871.3" y1="362.4" x2="868.6" y2="365.4" stroke="#555" stroke-width="0.6"/>
<line x1="869.7" y1="361.5" x2="867.1" y2="364.5" stroke="#555" stroke-width="0.6"/>
<line x1="868.2" y1="360.7" x2="865.6" y2="363.6" stroke="#555" stroke-width="0.6"/>
<line x1="866.6" y1="359.8" x2="864" y2="362.7" stroke="#555" stroke-width="0.6"/>
<line x1="865.1" y1="358.9" x2="862.5" y2="361.8" stroke="#555" stroke-width="0.6"/>
<line x1="863.6" y1="358" x2="861" y2="360.9" stroke="#555" stroke-width="0.6"/>
<line x1="862" y1="357.1" x2="859.4" y2="360" stroke="#555" stroke-width="0.6"/>
<line x1="860.5" y1="356.2" x2="857.9" y2="359.2" stroke="#555" stroke-width="0.6"/>
<path d="M898.8 376.4 L893.6 373.4 L890 379.6 L895.2 382.6 Z" fill="#666" stroke="#333" stroke-width="1.3" stroke-linejoin="round" />
<line x1="897.2" y1="375.5" x2="893.7" y2="381.7" stroke="#333" stroke-width="0.7"/>
<line x1="895.7" y1="374.6" x2="892.1" y2="380.8" stroke="#333" stroke-width="0.7"/>
<ellipse cx="897" cy="379.5" rx="2.1" ry="3.6" fill="#e8e8e8" stroke="#333" stroke-width="1.3" transform="rotate(-150 897 379.5)"/>
<ellipse cx="897" cy="379.5" rx="0.9" ry="1.6" fill="#aaa" stroke="#555" stroke-width="0.7" transform="rotate(-150 897 379.5)"/>
<path d="M851 402.7 L838.9 396.1 L837.1 399.5 L849.2 406.1 Z" fill="#8a8a8a" stroke="#4a4a4a" stroke-width="1.1" stroke-linejoin="round" />
<line x1="849.5" y1="401.9" x2="847" y2="404.9" stroke="#555" stroke-width="0.6"/>
<line x1="848" y1="401.1" x2="845.5" y2="404.1" stroke="#555" stroke-width="0.6"/>
<line x1="846.5" y1="400.2" x2="843.9" y2="403.2" stroke="#555" stroke-width="0.6"/>
<line x1="845" y1="399.4" x2="842.4" y2="402.4" stroke="#555" stroke-width="0.6"/>
<line x1="843.5" y1="398.6" x2="840.9" y2="401.6" stroke="#555" stroke-width="0.6"/>
<line x1="841.9" y1="397.8" x2="839.4" y2="400.8" stroke="#555" stroke-width="0.6"/>
<line x1="840.4" y1="396.9" x2="837.9" y2="399.9" stroke="#555" stroke-width="0.6"/>
<path d="M856.1 403.9 L851.7 401.5 L848.5 407.3 L852.9 409.7 Z" fill="#666" stroke="#333" stroke-width="1.3" stroke-linejoin="round" />
<line x1="854.8" y1="403.2" x2="851.6" y2="409" stroke="#333" stroke-width="0.7"/>
<line x1="853.4" y1="402.5" x2="850.3" y2="408.3" stroke="#333" stroke-width="0.7"/>
<ellipse cx="854.5" cy="406.8" rx="2" ry="3.3" fill="#e8e8e8" stroke="#333" stroke-width="1.3" transform="rotate(-151.4 854.5 406.8)"/>
<ellipse cx="854.5" cy="406.8" rx="0.9" ry="1.5" fill="#aaa" stroke="#555" stroke-width="0.7" transform="rotate(-151.4 854.5 406.8)"/>
<path d="M658.5 347.4 Q656 345.8 658.6 344.3 L700.3 320.9 Q702.9 319.5 705.5 321 L743.1 343.5 Q745.6 345.1 743.1 346.6 L699.8 372.1 Q697.2 373.7 694.7 372 Z" fill="#d6d6d6" stroke="#444" stroke-width="1.4" stroke-linejoin="round" stroke-linecap="round" />
<path d="M679.5 355 Q677.7 351.5 678.8 347.6 L681.3 338.2 Q682.3 334.3 686.1 333 L693.6 330.3 Q698.3 328.6 702.9 329.8 L705.7 330.6 Q708.6 331.3 711 333.2 L713.1 334.8 Q715.5 336.6 718.4 337 L719.9 337.2 Q723.5 337.7 726.6 341.4 L727.2 342.2 Q730.3 345.8 726.5 349 L717.4 356.9 Q714.3 359.5 710.3 359.2 L697.9 358.5 Q694.9 358.3 692.5 360.2 L691.5 361 Q689.2 362.9 686.3 362 L685.2 361.6 Q682.3 360.6 681 357.9 Z" fill="#fff" stroke="#444" stroke-width="1.3" stroke-linejoin="round" stroke-linecap="round" />
<ellipse cx="665.6" cy="345.8" rx="2.8" ry="1.7" fill="#fff" stroke="#444" stroke-width="1"/>
<ellipse cx="704.7" cy="326.3" rx="2.8" ry="1.7" fill="#fff" stroke="#444" stroke-width="1"/>
<ellipse cx="737.9" cy="345.3" rx="2.8" ry="1.7" fill="#fff" stroke="#444" stroke-width="1"/>
<ellipse cx="696.7" cy="367" rx="2.8" ry="1.7" fill="#fff" stroke="#444" stroke-width="1"/>
<path d="M714 419.6 A24.5 13.2 0 1 1 720.4 417.3" fill="none" stroke="#333" stroke-width="2"/>
<path d="M714 419.6 A24.5 13.2 0 1 1 720.4 417.3" fill="none" stroke="#c4c4c4" stroke-width="0.6"/>
<path d="M713 459.6 A24.5 13.2 0 1 1 719.4 457.3" fill="none" stroke="#333" stroke-width="2"/>
<path d="M713 459.6 A24.5 13.2 0 1 1 719.4 457.3" fill="none" stroke="#c4c4c4" stroke-width="0.6"/>
<path d="M678.8 487.5 L678.8 511.5 Q682.5 517.5 698.5 520.5 L699.5 525.5 Q712.5 531.5 724.5 525.5 Q730.2 521.5 730.2 511.5 L730.2 487.5 Z" fill="#d2d2d2" stroke="#444" stroke-width="1"/>
<path d="M678.8 492.5 A25.7 10.3 0 0 0 730.2 492.5" fill="none" stroke="#444" stroke-width="0.9"/>
<path d="M678.8 495.3 A25.7 10.3 0 0 0 730.2 495.3" fill="none" stroke="#666" stroke-width="0.7"/>
<path d="M678.8 498.1 A25.7 10.3 0 0 0 730.2 498.1" fill="none" stroke="#444" stroke-width="0.9"/>
<ellipse cx="704.5" cy="487.5" rx="25.7" ry="10.3" fill="#e2e2e2" stroke="#444" stroke-width="1.4"/>
<ellipse cx="704.5" cy="487" rx="14.5" ry="5.6" fill="#d0d0d0" stroke="#555" stroke-width="1.1"/>
<ellipse cx="685.5" cy="510" rx="4.2" ry="5.2" fill="#bdbdbd" stroke="#444" stroke-width="1.3"/>
<ellipse cx="685.5" cy="510" rx="2.2" ry="3" fill="#eee" stroke="#555" stroke-width="0.9"/>
<path d="M640.5 531.5 L668 518.5 L671 526.5 L643.5 540.5 Z" fill="#d6d6d6" stroke="#444" stroke-width="1.3" stroke-linejoin="round" />
<ellipse cx="642" cy="536" rx="2.8" ry="4.8" fill="#cfcfcf" stroke="#444" stroke-width="1.3" transform="rotate(-20 642 536)"/>
<ellipse cx="642" cy="536" rx="1.4" ry="2.6" fill="#f0f0f0" stroke="#555" stroke-width="0.9" transform="rotate(-20 642 536)"/>
<ellipse cx="669.5" cy="522.5" rx="2.8" ry="4.5" fill="#d6d6d6" stroke="#444" stroke-width="1.1" transform="rotate(-20 669.5 522.5)"/>
<path d="M623 549 A4.2 4.8 0 1 1 623.5 544 L620 545" fill="none" stroke="#444" stroke-width="1.3"/>
<path d="M773 468 A4.2 4.8 0 1 1 773.5 463 L770 464" fill="none" stroke="#444" stroke-width="1.3"/>
<ellipse cx="675" cy="585.5" rx="8.5" ry="9.5" fill="#9a9a9a" stroke="#444" stroke-width="1.4"/>
<line x1="668.5" y1="578" x2="670" y2="593" stroke="#333" stroke-width="1.4"/>
<line x1="671.5" y1="579" x2="673" y2="592" stroke="#333" stroke-width="1.4"/>
<line x1="674.5" y1="578" x2="676" y2="593" stroke="#333" stroke-width="1.4"/>
<line x1="677.5" y1="579" x2="679" y2="592" stroke="#333" stroke-width="1.4"/>
<line x1="680.5" y1="578" x2="682" y2="593" stroke="#333" stroke-width="1.4"/>
<ellipse cx="675" cy="585.5" rx="4" ry="4.8" fill="#e0e0e0" stroke="#333" stroke-width="1.1"/>
<path d="M723 640 L756 626 L759 630 L758 634 L727 652 Z" fill="#d0d0d0" stroke="#444" stroke-width="1.3" stroke-linejoin="round" />
<line x1="744" y1="631" x2="746" y2="640" stroke="#555" stroke-width="0.9"/>
<line x1="747" y1="629.7" x2="749" y2="638.5" stroke="#555" stroke-width="0.9"/>
<line x1="750" y1="628.4" x2="752" y2="637" stroke="#555" stroke-width="0.9"/>
<line x1="753" y1="627.1" x2="755" y2="635.5" stroke="#555" stroke-width="0.9"/>
<path d="M711.7 637 Q712 632 716.5 630.2 L718.3 629.5 Q722 628 724.2 631.3 L727.8 636.7 Q730 640 731.3 643.8 L740.4 671.3 Q742 676 740.2 680.5 L739.8 681.5 Q738 686 733.7 688.5 L728.3 691.5 Q724 694 719.1 692.8 L712.9 691.2 Q708 690 708.3 685 Z" fill="#cdcdcd" stroke="#444" stroke-width="1.4" stroke-linejoin="round" stroke-linecap="round" />
<path d="M692.4 645 Q692 640 695.5 636.5 L696.5 635.5 Q700 632 704.9 632.8 L707.1 633.2 Q712 634 713.8 638.7 L716.2 645.3 Q718 650 718.6 655 L721.4 677 Q722 682 718.1 685.1 L715.9 686.9 Q712 690 707.3 688.4 L704.7 687.6 Q700 686 698.7 681.2 L695.3 668.8 Q694 664 693.6 659 Z" fill="#d6d6d6" stroke="#444" stroke-width="1.4" stroke-linejoin="round" stroke-linecap="round" />
<path d="M718 650 L725.2 647.1 Q728 646 728.9 648.8 L740 682" fill="none" stroke="#444" stroke-width="1.1" stroke-linejoin="round" stroke-linecap="round" />
<path d="M672 667 L702 655 L706 668 L676 681 Z" fill="#d4d4d4" stroke="#444" stroke-width="1.3" stroke-linejoin="round" />
<path d="M665 675 L678 669.5 L681 679 L668 684.5 Z" fill="#c4c4c4" stroke="#444" stroke-width="1.3" stroke-linejoin="round" />
<line x1="667" y1="674.5" x2="669" y2="683.5" stroke="#555" stroke-width="0.9"/>
<line x1="669.6" y1="673.4" x2="671.6" y2="682.4" stroke="#555" stroke-width="0.9"/>
<line x1="672.2" y1="672.3" x2="674.2" y2="681.3" stroke="#555" stroke-width="0.9"/>
<line x1="674.8" y1="671.2" x2="676.8" y2="680.2" stroke="#555" stroke-width="0.9"/>
<ellipse cx="666.5" cy="680" rx="2.4" ry="4.6" fill="#bbb" stroke="#444" stroke-width="1.1" transform="rotate(-20 666.5 680)"/>
<ellipse cx="706" cy="660" rx="4" ry="6" fill="#c8c8c8" stroke="#444" stroke-width="1.1" transform="rotate(-15 706 660)"/>
<path d="M695.5 572 Q695.5 570 697.5 570 L705.5 570 Q707.5 570 707.8 572 L715.3 616.1 Q716 620 715.5 624 L713.6 641 Q713 646 708.5 648.1 L704.5 649.9 Q700 652 697 648 L694 644 Q691 640 691.8 635.1 L695.3 613.9 Q696 610 696 606 Z" fill="#d8d8d8" stroke="#444" stroke-width="1.4" stroke-linejoin="round" stroke-linecap="round" />
<path d="M700.5 585.5 Q700.5 584 702 584 L702.5 584 Q704 584 704.2 585.5 L707.8 620 Q708 622 707.3 623.9 L705.7 628.1 Q705 630 703.7 628.5 L701.3 625.5 Q700 624 700 622 Z" fill="#f2f2f2" stroke="#444" stroke-width="1.1" stroke-linejoin="round" stroke-linecap="round" />
<ellipse cx="702" cy="568" rx="8.3" ry="9.5" fill="#cfcfcf" stroke="#444" stroke-width="1.6" transform="rotate(-20 702 568)"/>
<ellipse cx="700.5" cy="567.5" rx="5.6" ry="7" fill="#f4f4f4" stroke="#444" stroke-width="1.3" transform="rotate(-20 700.5 567.5)"/>
<path d="M706.4 564 Q706 561 709 560.6 L710 560.4 Q713 560 714.2 562.7 L715.8 566.3 Q717 569 715.8 571.7 L713.2 577.3 Q712 580 710.2 579.1 L709.8 578.9 Q708 578 707.6 575 Z" fill="#d0d0d0" stroke="#444" stroke-width="1.3" stroke-linejoin="round" stroke-linecap="round" />
<ellipse cx="702" cy="641" rx="7.5" ry="9" fill="#c6c6c6" stroke="#444" stroke-width="1.3"/>
<ellipse cx="702" cy="641" rx="4.2" ry="5.4" fill="#e4e4e4" stroke="#444" stroke-width="1.1"/>
<ellipse cx="702" cy="641" rx="2" ry="2.6" fill="#bbb" stroke="#555" stroke-width="0.9"/>
<ellipse cx="777.5" cy="616.5" rx="13.5" ry="16.5" fill="#8c8c8c" stroke="#333" stroke-width="1.6" transform="rotate(-25 777.5 616.5)"/>
<ellipse cx="777.5" cy="616.5" rx="11.5" ry="14.5" fill="#3e3e3e" stroke="#333" stroke-width="0.9" transform="rotate(-25 777.5 616.5)"/>
<ellipse cx="778" cy="616.5" rx="8.5" ry="11" fill="#9a9a9a" stroke="#333" stroke-width="1.1" transform="rotate(-25 778 616.5)"/>
<ellipse cx="778.5" cy="616.5" rx="5.5" ry="7.5" fill="#f4f4f4" stroke="#333" stroke-width="1.3" transform="rotate(-25 778.5 616.5)"/>
<ellipse cx="626" cy="706" rx="13.5" ry="16.5" fill="#8c8c8c" stroke="#333" stroke-width="1.6" transform="rotate(-25 626 706)"/>
<ellipse cx="626" cy="706" rx="11.5" ry="14.5" fill="#3e3e3e" stroke="#333" stroke-width="0.9" transform="rotate(-25 626 706)"/>
<ellipse cx="626.5" cy="706" rx="8.5" ry="11" fill="#9a9a9a" stroke="#333" stroke-width="1.1" transform="rotate(-25 626.5 706)"/>
<ellipse cx="627" cy="706" rx="5.5" ry="7.5" fill="#f4f4f4" stroke="#333" stroke-width="1.3" transform="rotate(-25 627 706)"/>
<path d="M753.6 566.3 Q752.5 564.5 754.7 563.4 L763.3 559.1 Q765.5 558 766.4 559.6 L766.6 559.9 Q767.5 561.5 765.3 562.7 L757.2 567.3 Q755 568.5 753.9 566.7 Z" fill="#cfcfcf" stroke="#444" stroke-width="1.3" stroke-linejoin="round" stroke-linecap="round" />
<path d="M755.7 597.3 Q755 596 756.3 595.3 L761.2 592.7 Q762.5 592 763.2 593.3 L763.3 593.7 Q764 595 762.7 595.7 L757.8 598.3 Q756.5 599 755.8 597.7 Z" fill="#e2e2e2" stroke="#555" stroke-width="1.1" stroke-linejoin="round" stroke-linecap="round" />
<path d="M797.7 645.3 Q797 644 798.3 643.3 L803.2 640.7 Q804.5 640 805.2 641.3 L805.3 641.7 Q806 643 804.7 643.7 L799.8 646.3 Q798.5 647 797.8 645.7 Z" fill="#e2e2e2" stroke="#555" stroke-width="1.1" stroke-linejoin="round" stroke-linecap="round" />
<path d="M1033 379.8 Q1032.3 378.5 1033.6 377.8 L1038.5 375.2 Q1039.8 374.5 1040.5 375.8 L1040.6 376.2 Q1041.3 377.5 1040 378.2 L1035.1 380.8 Q1033.8 381.5 1033.1 380.2 Z" fill="#e2e2e2" stroke="#555" stroke-width="1.1" stroke-linejoin="round" stroke-linecap="round" />
<path d="M1127.7 474.3 Q1127 473 1128.3 472.3 L1133.2 469.7 Q1134.5 469 1135.2 470.3 L1135.3 470.7 Q1136 472 1134.7 472.7 L1129.8 475.3 Q1128.5 476 1127.8 474.7 Z" fill="#e2e2e2" stroke="#555" stroke-width="1.1" stroke-linejoin="round" stroke-linecap="round" />
<path d="M781.9 549.9 Q782.1 545.9 785.2 543.3 L788.7 540.5 Q791.1 538.6 791.2 535.6 L791.7 524.6 Q791.9 521.6 794.1 519.5 L795.4 518.3 Q798.3 515.6 800.5 516.8 L801 517.1 Q803.2 518.3 803.7 521.3 L804.5 526.1 Q804.8 528.1 805.8 526.3 L810 519.3 Q812.1 515.9 815.3 513.5 L818.6 511.1 Q823.4 507.5 827.4 509.1 L828.3 509.4 Q832.3 511.1 832.3 513.6 L832.3 514.2 Q832.3 516.7 834.1 519.1 L839.5 526.4 Q841.3 528.9 844.1 529.9 L848.2 531.4 Q851 532.4 853.9 532.8 L861 533.7 Q863.9 534 866.4 532.4 L867.5 531.6 Q870.4 529.7 873 531.9 L873.5 532.3 Q876.1 534.5 875.7 539.3 L875.5 542.1 Q875.3 545.1 875.8 548 L876.4 551.8 Q876.9 554.8 877.8 557.6 L882.4 571.4 Q883.4 574.2 885.5 576.3 L890.2 581.1 Q893.1 583.9 896.9 582.6 L900.3 581.5 Q906 579.6 909.8 580.8 L910.7 581.1 Q914.5 582.3 915.4 585.4 L915.6 586 Q916.6 589.1 913.3 592.6 L912 594 Q909.3 596.9 910.9 599.8 L911.2 600.4 Q912.8 603.4 914.5 607 L914.9 607.8 Q916.6 611.5 914 614.5 L913.4 615.2 Q910.9 618.3 907 621.4 L902.6 625.1 Q899.6 627.7 897.1 630.8 L895.6 632.6 Q893.1 635.7 893.8 637.4 L894 637.7 Q894.7 639.3 891.2 641.3 L887.7 643.3 Q883.4 645.8 879 646.8 L878 647 Q873.6 648.1 869.6 645.1 L867.2 643.3 Q863.9 640.9 864.7 638.7 L864.8 638.3 Q865.5 636.1 862.6 635.5 L851.7 633.5 Q847.7 632.8 843.8 633.7 L838 635 Q833.2 636.1 831 633.9 L830.5 633.4 Q828.3 631.2 824.5 629.9 L812.7 626 Q808.9 624.7 806.6 621.4 L797.1 607.5 Q794.3 603.4 792.1 598.9 L788 590.7 Q786.2 587.2 784.7 583.5 L781.6 575.6 Q779.7 571 780.3 566 L780.8 562 Q781.3 558 781.6 554 Z" fill="#d2d2d2" stroke="#444" stroke-width="1.4" stroke-linejoin="round" stroke-linecap="round" />
<path d="M804.9 530 Q803.2 528.9 804.6 527.5 L811.6 520.5 Q813.7 518.3 816.5 517.2 L820.7 515.4 Q823.4 514.3 825.9 516 L858.2 537.7 Q860.7 539.4 863.6 540.3 L870.8 542.5 Q873.6 543.4 874.5 546.3 L882.8 572.3 Q883.4 574.2 881.6 573.3 L873.1 569.1 Q870.4 567.7 867.7 566.4 L840.7 552.9 Q838 551.5 835.5 549.9 Z" fill="#dadada" stroke="#444" stroke-width="1.3" stroke-linejoin="round" stroke-linecap="round" />
<line x1="803.2" y1="528.9" x2="881.7" y2="573.4" stroke="#333" stroke-width="1.8"/>
<ellipse cx="815" cy="543.4" rx="3.6" ry="2.6" fill="#777" stroke="#333" stroke-width="1.1"/>
<ellipse cx="848.1" cy="563.2" rx="3.6" ry="2.6" fill="#777" stroke="#333" stroke-width="1.1"/>
<ellipse cx="817" cy="516.7" rx="3.2" ry="3.8" fill="#bbb" stroke="#444" stroke-width="1.1"/>
<ellipse cx="860.7" cy="538.6" rx="3.2" ry="3.8" fill="#bbb" stroke="#444" stroke-width="1.1"/>
<ellipse cx="905.2" cy="591.2" rx="3.2" ry="3.8" fill="#999" stroke="#444" stroke-width="1.1"/>
<ellipse cx="907.7" cy="613.9" rx="2.6" ry="3" fill="#999" stroke="#444" stroke-width="1.1"/>
<path d="M794.3 522.4 L795.7 535 Q795.9 537 797.8 536.4 L801.6 535.3" fill="none" stroke="#444" stroke-width="1.4" stroke-linejoin="round" stroke-linecap="round" />
<path d="M798.3 520.8 L799.5 533.7" fill="none" stroke="#444" stroke-width="1.3" stroke-linejoin="round" stroke-linecap="round" />
<path d="M791.1 538.6 L802.2 544.5 Q804.8 545.9 807.7 546.7 L819.6 550.4 Q823.4 551.5 827.4 552.1 L830.8 552.6 Q834.8 553.2 835.5 555.3 L836.4 558" fill="none" stroke="#444" stroke-width="1.3" stroke-linejoin="round" stroke-linecap="round" />
<path d="M795.9 554 L808.2 557 Q812.1 558 816 556.9 L819.6 555.9 Q823.4 554.8 823.8 557.7 L824.3 561.3" fill="none" stroke="#444" stroke-width="1.3" stroke-linejoin="round" stroke-linecap="round" />
<path d="M820.8 621.1 A19.8 32 0 0 1 820.8 558.1" fill="none" stroke="#333" stroke-width="0.9" transform="rotate(-18 824.3 589.6)"/>
<path d="M822.9 614.5 A15.5 25 0 0 1 822.9 564.7" fill="none" stroke="#444" stroke-width="0.9" transform="rotate(-18 824.3 589.6)"/>
<path d="M824.3 607.6 A11.2 18 0 0 1 824.3 571.6" fill="none" stroke="#444" stroke-width="0.9" transform="rotate(-18 824.3 589.6)"/>
<path d="M824.3 601.1 A7.1 11.5 0 0 1 824.3 578.1" fill="none" stroke="#555" stroke-width="0.9" transform="rotate(-18 824.3 589.6)"/>
<path d="M824.9 595.5 A3.7 6 0 0 1 824.9 583.7" fill="none" stroke="#555" stroke-width="0.9" transform="rotate(-18 824.3 589.6)"/>
<path d="M782.1 558 L787.3 559.9 Q791.1 561.3 791.4 565.2 L792.3 575.7 Q792.7 580.7 794.4 585.4 L800.6 601.9 Q802.4 606.6 805 610.8 L810.5 619.6" fill="none" stroke="#444" stroke-width="1.3" stroke-linejoin="round" stroke-linecap="round" />
<ellipse cx="787" cy="565.3" rx="2.4" ry="3" fill="#eee" stroke="#444" stroke-width="1.1"/>
<ellipse cx="785.4" cy="578.3" rx="2.4" ry="3" fill="#eee" stroke="#444" stroke-width="1.1"/>
<path d="M828.3 580.7 L832.1 582.6 Q834.8 583.9 835.7 586.8 L840.3 600.5 Q841.3 603.4 842.1 606.2 L845.3 616.7 Q846.1 619.6 846.5 622.5 L847.7 632.5" fill="none" stroke="#333" stroke-width="1.6" stroke-linejoin="round" stroke-linecap="round" />
<path d="M828.3 580.7 L843.3 575.2 Q846.1 574.2 846.7 571.3 L847.7 566.1" fill="none" stroke="#444" stroke-width="1.3" stroke-linejoin="round" stroke-linecap="round" />
<path d="M808.9 624.4 L816.5 607.9 Q818.6 603.4 821.7 607.3 L828.4 615.7 Q831.5 619.6 832.8 624.4 L834.8 632.5" fill="none" stroke="#555" stroke-width="1.1" stroke-linejoin="round" stroke-linecap="round" />
<path d="M875 595.2 Q875.3 591.2 879.2 591.6 L894.6 593.1 Q899.6 593.6 901.7 598 L902.2 599 Q904.4 603.4 903.3 608.2 L900.7 619.5 Q899.6 624.4 895.4 627.2 L893.2 628.7 Q889.8 630.9 886.7 628.4 L876.8 620.4 Q873.6 617.9 873.9 613.9 Z" fill="#cacaca" stroke="#444" stroke-width="1.3" stroke-linejoin="round" stroke-linecap="round" />
<path d="M847.7 577.4 L857.8 574.9 Q860.7 574.2 863.7 574.6 L880.4 577 Q883.4 577.4 885.6 579.4 L894.7 587.2" fill="none" stroke="#333" stroke-width="1.6" stroke-linejoin="round" stroke-linecap="round" />
<line x1="851" y1="587.2" x2="883.4" y2="586.8" stroke="#555" stroke-width="2.8"/>
<path d="M846.1 603.4 L854.2 598 Q855.8 596.9 856.3 594.9 L857 592.3 Q857.4 590.4 855.7 589.5 L851 587.2" fill="none" stroke="#444" stroke-width="1.4" stroke-linejoin="round" stroke-linecap="round" />
<path d="M851 613.1 L859 607.7 Q860.7 606.6 862.6 607.1 L873.6 609.8" fill="none" stroke="#444" stroke-width="1.3" stroke-linejoin="round" stroke-linecap="round" />
<path d="M847.7 619.6 L858.7 618.2 Q860.7 617.9 862.7 617.9 L873.6 617.9" fill="none" stroke="#444" stroke-width="1.3" stroke-linejoin="round" stroke-linecap="round" />
<path d="M846.1 593.6 L852.9 601.8 Q854.2 603.4 853.7 605.3 L851 616.3" fill="none" stroke="#555" stroke-width="1.1" stroke-linejoin="round" stroke-linecap="round" />
<path d="M867.1 643 Q863.9 640.6 865.4 637 L865.7 636.2 Q867.2 632.5 871 631.5 L876.2 630.2 Q880.1 629.3 883.7 631.1 L889.5 634 Q893.1 635.7 893.8 637.4 L894 637.7 Q894.7 639.3 891.2 641.3 L887.7 643.3 Q883.4 645.8 879 646.8 L878 647 Q873.6 648.1 869.7 645 Z" fill="#c4c4c4" stroke="#444" stroke-width="1.3" stroke-linejoin="round" stroke-linecap="round" />
<ellipse cx="868" cy="639.8" rx="3" ry="3.4" fill="#888" stroke="#333" stroke-width="1.1"/>
<ellipse cx="886.6" cy="639.8" rx="3" ry="3.4" fill="#999" stroke="#333" stroke-width="1.1"/>
<ellipse cx="833.2" cy="632.5" rx="3" ry="3.4" fill="#aaa" stroke="#333" stroke-width="1.1"/>
<ellipse cx="834.8" cy="593.6" rx="2.4" ry="3" fill="#aaa" stroke="#444" stroke-width="1"/>
<ellipse cx="839.6" cy="617.9" rx="2.2" ry="2.8" fill="#aaa" stroke="#444" stroke-width="1"/>
<path d="M790.1 605.3 Q789.4 603.4 791.2 602.5 L794.1 601 Q795.9 600.1 796.4 602.1 L797 604.7 Q797.5 606.6 795.9 607.8 L793.5 609.5 Q791.9 610.6 791.2 608.8 Z" fill="#bbb" stroke="#444" stroke-width="1.1" stroke-linejoin="round" stroke-linecap="round" />
<path d="M880.9 509.2 L860.4 521.1 L862.6 524.9 L883 512.9 Z" fill="#8a8a8a" stroke="#4a4a4a" stroke-width="1.1" stroke-linejoin="round" />
<line x1="879.3" y1="510.1" x2="880.8" y2="514.2" stroke="#555" stroke-width="0.6"/>
<line x1="877.7" y1="511" x2="879.2" y2="515.1" stroke="#555" stroke-width="0.6"/>
<line x1="876.2" y1="511.9" x2="877.6" y2="516.1" stroke="#555" stroke-width="0.6"/>
<line x1="874.6" y1="512.9" x2="876.1" y2="517" stroke="#555" stroke-width="0.6"/>
<line x1="873" y1="513.8" x2="874.5" y2="517.9" stroke="#555" stroke-width="0.6"/>
<line x1="871.4" y1="514.7" x2="872.9" y2="518.8" stroke="#555" stroke-width="0.6"/>
<line x1="869.9" y1="515.6" x2="871.3" y2="519.7" stroke="#555" stroke-width="0.6"/>
<line x1="868.3" y1="516.5" x2="869.8" y2="520.7" stroke="#555" stroke-width="0.6"/>
<line x1="866.7" y1="517.5" x2="868.2" y2="521.6" stroke="#555" stroke-width="0.6"/>
<line x1="865.1" y1="518.4" x2="866.6" y2="522.5" stroke="#555" stroke-width="0.6"/>
<line x1="863.6" y1="519.3" x2="865" y2="523.4" stroke="#555" stroke-width="0.6"/>
<line x1="862" y1="520.2" x2="863.5" y2="524.3" stroke="#555" stroke-width="0.6"/>
<path d="M885.9 503.9 L879.9 507.5 L884 514.6 L890.1 511.1 Z" fill="#666" stroke="#333" stroke-width="1.3" stroke-linejoin="round" />
<line x1="884.1" y1="505" x2="888.3" y2="512.1" stroke="#333" stroke-width="0.7"/>
<line x1="882.3" y1="506.1" x2="886.5" y2="513.2" stroke="#333" stroke-width="0.7"/>
<ellipse cx="888" cy="507.5" rx="2.5" ry="4.1" fill="#e8e8e8" stroke="#333" stroke-width="1.3" transform="rotate(149.7 888 507.5)"/>
<ellipse cx="888" cy="507.5" rx="1.1" ry="1.9" fill="#aaa" stroke="#555" stroke-width="0.7" transform="rotate(149.7 888 507.5)"/>
<path d="M914.4 530.1 L893.4 542.1 L895.6 545.9 L916.5 533.8 Z" fill="#8a8a8a" stroke="#4a4a4a" stroke-width="1.1" stroke-linejoin="round" />
<line x1="912.9" y1="531" x2="914.3" y2="535.1" stroke="#555" stroke-width="0.6"/>
<line x1="911.4" y1="531.8" x2="912.8" y2="536" stroke="#555" stroke-width="0.6"/>
<line x1="909.9" y1="532.7" x2="911.3" y2="536.8" stroke="#555" stroke-width="0.6"/>
<line x1="908.4" y1="533.6" x2="909.8" y2="537.7" stroke="#555" stroke-width="0.6"/>
<line x1="906.9" y1="534.4" x2="908.3" y2="538.5" stroke="#555" stroke-width="0.6"/>
<line x1="905.4" y1="535.3" x2="906.8" y2="539.4" stroke="#555" stroke-width="0.6"/>
<line x1="903.9" y1="536.1" x2="905.3" y2="540.3" stroke="#555" stroke-width="0.6"/>
<line x1="902.4" y1="537" x2="903.8" y2="541.1" stroke="#555" stroke-width="0.6"/>
<line x1="900.9" y1="537.8" x2="902.3" y2="542" stroke="#555" stroke-width="0.6"/>
<line x1="899.4" y1="538.7" x2="900.9" y2="542.8" stroke="#555" stroke-width="0.6"/>
<line x1="897.9" y1="539.6" x2="899.4" y2="543.7" stroke="#555" stroke-width="0.6"/>
<line x1="896.4" y1="540.4" x2="897.9" y2="544.5" stroke="#555" stroke-width="0.6"/>
<line x1="894.9" y1="541.3" x2="896.4" y2="545.4" stroke="#555" stroke-width="0.6"/>
<path d="M919.4 524.9 L913.4 528.4 L917.5 535.6 L923.6 532.1 Z" fill="#666" stroke="#333" stroke-width="1.3" stroke-linejoin="round" />
<line x1="917.6" y1="526" x2="921.7" y2="533.1" stroke="#333" stroke-width="0.7"/>
<line x1="915.8" y1="527" x2="919.9" y2="534.2" stroke="#333" stroke-width="0.7"/>
<ellipse cx="921.5" cy="528.5" rx="2.5" ry="4.1" fill="#e8e8e8" stroke="#333" stroke-width="1.3" transform="rotate(150.1 921.5 528.5)"/>
<ellipse cx="921.5" cy="528.5" rx="1.1" ry="1.9" fill="#aaa" stroke="#555" stroke-width="0.7" transform="rotate(150.1 921.5 528.5)"/>
<path d="M915.4 542.6 L894.4 554.6 L896.6 558.4 L917.5 546.3 Z" fill="#8a8a8a" stroke="#4a4a4a" stroke-width="1.1" stroke-linejoin="round" />
<line x1="913.9" y1="543.5" x2="915.3" y2="547.6" stroke="#555" stroke-width="0.6"/>
<line x1="912.4" y1="544.3" x2="913.8" y2="548.5" stroke="#555" stroke-width="0.6"/>
<line x1="910.9" y1="545.2" x2="912.3" y2="549.3" stroke="#555" stroke-width="0.6"/>
<line x1="909.4" y1="546.1" x2="910.8" y2="550.2" stroke="#555" stroke-width="0.6"/>
<line x1="907.9" y1="546.9" x2="909.3" y2="551" stroke="#555" stroke-width="0.6"/>
<line x1="906.4" y1="547.8" x2="907.8" y2="551.9" stroke="#555" stroke-width="0.6"/>
<line x1="904.9" y1="548.6" x2="906.3" y2="552.8" stroke="#555" stroke-width="0.6"/>
<line x1="903.4" y1="549.5" x2="904.8" y2="553.6" stroke="#555" stroke-width="0.6"/>
<line x1="901.9" y1="550.3" x2="903.3" y2="554.5" stroke="#555" stroke-width="0.6"/>
<line x1="900.4" y1="551.2" x2="901.9" y2="555.3" stroke="#555" stroke-width="0.6"/>
<line x1="898.9" y1="552.1" x2="900.4" y2="556.2" stroke="#555" stroke-width="0.6"/>
<line x1="897.4" y1="552.9" x2="898.9" y2="557" stroke="#555" stroke-width="0.6"/>
<line x1="895.9" y1="553.8" x2="897.4" y2="557.9" stroke="#555" stroke-width="0.6"/>
<path d="M920.4 537.4 L914.4 540.9 L918.5 548.1 L924.6 544.6 Z" fill="#666" stroke="#333" stroke-width="1.3" stroke-linejoin="round" />
<line x1="918.6" y1="538.5" x2="922.7" y2="545.6" stroke="#333" stroke-width="0.7"/>
<line x1="916.8" y1="539.5" x2="920.9" y2="546.7" stroke="#333" stroke-width="0.7"/>
<ellipse cx="922.5" cy="541" rx="2.5" ry="4.1" fill="#e8e8e8" stroke="#333" stroke-width="1.3" transform="rotate(150.1 922.5 541)"/>
<ellipse cx="922.5" cy="541" rx="1.1" ry="1.9" fill="#aaa" stroke="#555" stroke-width="0.7" transform="rotate(150.1 922.5 541)"/>
<path d="M943.9 568.1 L922.9 580.1 L925.1 583.9 L946 571.8 Z" fill="#8a8a8a" stroke="#4a4a4a" stroke-width="1.1" stroke-linejoin="round" />
<line x1="942.4" y1="569" x2="943.8" y2="573.1" stroke="#555" stroke-width="0.6"/>
<line x1="940.9" y1="569.8" x2="942.3" y2="574" stroke="#555" stroke-width="0.6"/>
<line x1="939.4" y1="570.7" x2="940.8" y2="574.8" stroke="#555" stroke-width="0.6"/>
<line x1="937.9" y1="571.6" x2="939.3" y2="575.7" stroke="#555" stroke-width="0.6"/>
<line x1="936.4" y1="572.4" x2="937.8" y2="576.5" stroke="#555" stroke-width="0.6"/>
<line x1="934.9" y1="573.3" x2="936.3" y2="577.4" stroke="#555" stroke-width="0.6"/>
<line x1="933.4" y1="574.1" x2="934.8" y2="578.3" stroke="#555" stroke-width="0.6"/>
<line x1="931.9" y1="575" x2="933.3" y2="579.1" stroke="#555" stroke-width="0.6"/>
<line x1="930.4" y1="575.8" x2="931.8" y2="580" stroke="#555" stroke-width="0.6"/>
<line x1="928.9" y1="576.7" x2="930.4" y2="580.8" stroke="#555" stroke-width="0.6"/>
<line x1="927.4" y1="577.6" x2="928.9" y2="581.7" stroke="#555" stroke-width="0.6"/>
<line x1="925.9" y1="578.4" x2="927.4" y2="582.5" stroke="#555" stroke-width="0.6"/>
<line x1="924.4" y1="579.3" x2="925.9" y2="583.4" stroke="#555" stroke-width="0.6"/>
<path d="M948.9 562.9 L942.9 566.4 L947 573.6 L953.1 570.1 Z" fill="#666" stroke="#333" stroke-width="1.3" stroke-linejoin="round" />
<line x1="947.1" y1="564" x2="951.2" y2="571.1" stroke="#333" stroke-width="0.7"/>
<line x1="945.3" y1="565" x2="949.4" y2="572.2" stroke="#333" stroke-width="0.7"/>
<ellipse cx="951" cy="566.5" rx="2.5" ry="4.1" fill="#e8e8e8" stroke="#333" stroke-width="1.3" transform="rotate(150.1 951 566.5)"/>
<ellipse cx="951" cy="566.5" rx="1.1" ry="1.9" fill="#aaa" stroke="#555" stroke-width="0.7" transform="rotate(150.1 951 566.5)"/>
<ellipse cx="936.3" cy="521.6" rx="10.5" ry="13" fill="#c2c2c2" stroke="#333" stroke-width="1.6" transform="rotate(-28 936.3 521.6)"/>
<ellipse cx="937.1" cy="521.6" rx="7.8" ry="10.2" fill="#a2a2a2" stroke="#444" stroke-width="1.1" transform="rotate(-28 937.1 521.6)"/>
<ellipse cx="937.7" cy="521.9" rx="5" ry="7.2" fill="#f0f0f0" stroke="#333" stroke-width="1.3" transform="rotate(-28 937.7 521.9)"/>
<path d="M955.2 456 Q961.4 451 967.1 447.4 L968.4 446.6 Q974 443.1 980.6 443.1 L982.1 443.1 Q988.7 443.1 997.6 447.7 L1002.5 450.3 Q1013.9 456.2 1021.4 468 L1023.1 470.6 Q1030.6 482.4 1029.4 491.8 L1029.2 493.9 Q1028 503.4 1021.6 512.1 L1020.2 514 Q1013.9 522.8 1007.3 526.1 L1004.5 527.4 Q999.2 530.1 993.2 530.4 L983.3 530.9 Q979.3 531.2 980 527.2 L981.3 519.8 Q982.4 513.9 978.9 509 L968.1 493.6 Q964.6 488.7 961.4 483.6 L957.3 477 Q954.1 471.9 950.3 468.2 L948.6 466.4 Q945.7 463.5 948.8 461 Z" fill="#cfcfcf" stroke="#444" stroke-width="1.4" stroke-linejoin="round" stroke-linecap="round" />
<path d="M988.7 444.7 C992.5 446.9 1005.6 452 1011.8 458.3 C1018 464.6 1023.9 475.1 1025.9 482.4 C1027.9 489.7 1026.2 496 1023.8 502.3 C1021.5 508.6 1015.7 515.9 1011.8 520.1 C1007.8 524.4 1002.2 526.7 1000.2 528" fill="none" stroke="#444" stroke-width="1.3" stroke-linejoin="round" />
<path d="M942.3 471.7 Q941.5 469.8 943.4 469.2 L955.4 465.2 Q957.3 464.6 958.1 466.4 L960.6 472.2 Q961.4 474 959.5 474.7 L947.6 478.6 Q945.7 479.3 944.9 477.4 Z" fill="#dcdcdc" stroke="#333" stroke-width="1.4" stroke-linejoin="round" stroke-linecap="round" />
<line x1="945.7" y1="479.3" x2="961.4" y2="474" stroke="#333" stroke-width="2.3"/>
<path d="M940.4 483.1 Q939.4 481.4 941.4 480.9 L959.5 476.6 Q961.4 476.1 962.1 478 L963.9 482.6 Q964.6 484.5 962.6 484.9 L945.6 488.3 Q943.6 488.7 942.6 487 Z" fill="#dcdcdc" stroke="#333" stroke-width="1.4" stroke-linejoin="round" stroke-linecap="round" />
<line x1="943.6" y1="488.7" x2="964.6" y2="484.5" stroke="#333" stroke-width="2.3"/>
<path d="M944.1 495.3 Q942.6 493.9 944.5 493.3 L962.7 487.2 Q964.6 486.6 965.1 488.5 L965.7 491 Q966.2 492.9 964.3 493.6 L950.7 499 Q948.9 499.7 947.4 498.4 Z" fill="#dcdcdc" stroke="#333" stroke-width="1.4" stroke-linejoin="round" stroke-linecap="round" />
<line x1="948.9" y1="499.7" x2="966.2" y2="492.9" stroke="#333" stroke-width="2.3"/>
<path d="M949.5 507.5 Q947.8 506.5 949.5 505.5 L961.8 498.1 Q963.5 497.1 965 498.5 L966.3 499.9 Q967.7 501.3 966.1 502.4 L955.8 509.1 Q954.1 510.2 952.4 509.2 Z" fill="#dcdcdc" stroke="#333" stroke-width="1.4" stroke-linejoin="round" stroke-linecap="round" />
<line x1="954.1" y1="510.2" x2="967.7" y2="501.3" stroke="#333" stroke-width="2.3"/>
<path d="M959 518 Q957.3 517 958.9 515.9 L969.2 508.7 Q970.9 507.6 972.4 508.8 L973.5 509.7 Q975.1 510.9 973.4 512 L963.1 518.3 Q961.4 519.3 959.7 518.3 Z" fill="#dcdcdc" stroke="#333" stroke-width="1.4" stroke-linejoin="round" stroke-linecap="round" />
<line x1="961.4" y1="519.3" x2="975.1" y2="510.9" stroke="#333" stroke-width="2.3"/>
<path d="M969.6 525.6 Q967.7 524.9 969.1 523.4 L976.8 515.3 Q978.2 513.9 979.7 515.2 L980.1 515.6 Q981.6 517 980.2 518.4 L973.3 525.2 Q971.9 526.6 970.1 525.9 Z" fill="#dcdcdc" stroke="#333" stroke-width="1.4" stroke-linejoin="round" stroke-linecap="round" />
<line x1="971.9" y1="526.6" x2="981.6" y2="517" stroke="#333" stroke-width="2.3"/>
<path d="M981.8 530.8 Q980.3 530.8 980.8 529.4 L984 519.5 Q984.5 518.1 985.9 518.5 L989.4 519.7 Q990.8 520.1 990.5 521.6 L989 529.4 Q988.7 530.8 987.2 530.8 Z" fill="#d6d6d6" stroke="#333" stroke-width="1.4" stroke-linejoin="round" stroke-linecap="round" />
<path d="M993.3 531.5 Q991.8 531.9 992 530.4 L992.8 521.6 Q992.9 520.1 994.4 520.4 L997.7 520.9 Q999.2 521.2 999.2 522.7 L999.2 528.3 Q999.2 529.8 997.7 530.2 Z" fill="#d6d6d6" stroke="#333" stroke-width="1.4" stroke-linejoin="round" stroke-linecap="round" />
<path d="M1003.7 526.9 Q1002.3 527.5 1002.7 526 L1005.1 517.4 Q1005.5 516 1006.8 516.7 L1009.4 518.3 Q1010.7 519.1 1010.4 520.6 L1010 522.9 Q1009.7 524.3 1008.3 524.9 Z" fill="#d6d6d6" stroke="#333" stroke-width="1.4" stroke-linejoin="round" stroke-linecap="round" />
<path d="M982.5 523.2 Q982.4 522.2 983.3 521.8 L985.7 520.6 Q986.6 520.1 986.7 521.1 L987.1 528.6 Q987.1 529.6 986.2 529.8 L983.9 530.4 Q982.9 530.6 982.9 529.6 Z" fill="#555" stroke="#333" stroke-width="0.9" stroke-linejoin="round" stroke-linecap="round" />
<path d="M992.9 522.2 Q992.9 521.2 993.9 521.2 L996.1 521.2 Q997.1 521.2 997.1 522.2 L997.1 528.6 Q997.1 529.6 996.1 529.8 L993.9 530.4 Q992.9 530.6 992.9 529.6 Z" fill="#666" stroke="#333" stroke-width="0.9" stroke-linejoin="round" stroke-linecap="round" />
<path d="M946.5 464.3 Q945.7 462.5 947.4 461.5 L949.2 460.4 Q951 459.4 951.7 461.2 L954.4 468 Q955.2 469.8 953.3 470.6 L951.8 471.2 Q949.9 471.9 949.1 470.1 Z" fill="#dedede" stroke="#333" stroke-width="1.4" stroke-linejoin="round" stroke-linecap="round" />
<path d="M966.3 450.9 Q964.6 449.9 966.5 449.4 L982.6 445.2 Q984.5 444.7 986.2 445.8 L988.1 447 Q989.7 448 987.9 448.7 L973.8 453.7 Q971.9 454.3 970.2 453.3 Z" fill="#dedede" stroke="#333" stroke-width="1.4" stroke-linejoin="round" stroke-linecap="round" />
<path d="M980.2 456.1 Q979.3 454.3 981.1 453.5 L995.2 447.6 Q997.1 446.8 998.3 448.3 L999.2 449.4 Q1000.4 451 998.7 451.9 L984.2 459.7 Q982.4 460.6 981.5 458.8 Z" fill="#dedede" stroke="#333" stroke-width="1.4" stroke-linejoin="round" stroke-linecap="round" />
<path d="M990.6 470.5 Q988.7 469.8 990.3 468.7 L1004.9 458.4 Q1006.5 457.3 1008.1 458.5 L1009.3 459.4 Q1010.9 460.6 1009.3 461.8 L996.6 471 Q995 472.1 993.1 471.4 Z" fill="#dedede" stroke="#333" stroke-width="1.4" stroke-linejoin="round" stroke-linecap="round" />
<path d="M954.1 457.3 C954.5 458.5 955.2 463.5 956.2 464.6 C957.3 465.6 959.7 463.7 960.4 463.5" fill="none" stroke="#333" stroke-width="2.2" stroke-linejoin="round" />
<path d="M958.3 455.2 C958.8 456.6 960.2 462.5 961.4 463.5 C962.7 464.6 965.1 462.7 965.6 461.4 C966.2 460.2 964.8 457.1 964.6 456.2" fill="none" stroke="#333" stroke-width="2.2" stroke-linejoin="round" />
<path d="M965.6 454.1 C966 455.3 966.7 460.4 967.7 461.4 C968.8 462.5 971.2 461.6 971.9 460.4 C972.6 459.2 971.9 455.2 971.9 454.1" fill="none" stroke="#333" stroke-width="2.2" stroke-linejoin="round" />
<ellipse cx="966.2" cy="468.8" rx="1.2" ry="1.2" fill="#444" stroke="#333" stroke-width="0.7"/>
<path d="M999.8 481.3 Q998.1 480.3 999.7 479.1 L1012.3 469 Q1013.9 467.7 1015.6 468.7 L1019.7 471.1 Q1021.4 472.1 1019.8 473.4 L1007 483.5 Q1005.5 484.7 1003.8 483.7 Z" fill="#dadada" stroke="#333" stroke-width="1.4" stroke-linejoin="round" stroke-linecap="round" />
<path d="M1008 494.2 Q1006.5 492.9 1008.1 491.6 L1020.7 481.6 Q1022.2 480.3 1023.5 481.9 L1026.2 485.1 Q1027.5 486.6 1025.9 487.9 L1014.4 497.1 Q1012.8 498.3 1011.3 497 Z" fill="#dadada" stroke="#333" stroke-width="1.4" stroke-linejoin="round" stroke-linecap="round" />
<path d="M1010.8 504.2 Q1009.7 502.5 1011.4 501.5 L1024.7 493.9 Q1026.4 492.9 1027 494.8 L1028.2 499.4 Q1028.7 501.3 1027.2 502.6 L1017.5 510.7 Q1016 512 1014.8 510.3 Z" fill="#dadada" stroke="#333" stroke-width="1.4" stroke-linejoin="round" stroke-linecap="round" />
<path d="M1004.7 518.7 Q1003.4 517.2 1005 516.1 L1012.2 511 Q1013.9 509.9 1015.2 511.4 L1018 514.7 Q1019.3 516.2 1017.8 517.5 L1011.2 523.2 Q1009.7 524.5 1008.4 523 Z" fill="#dadada" stroke="#333" stroke-width="1.4" stroke-linejoin="round" stroke-linecap="round" />
<path d="M998.1 481.8 Q998.1 480.3 999.4 481.1 L1004.2 483.9 Q1005.5 484.7 1005.3 486.2 L1005.1 488.3 Q1004.9 489.7 1003.6 489.1 L999.5 487.2 Q998.1 486.6 998.1 485.1 Z" fill="#6a6a6a" stroke="#222" stroke-width="1.3" stroke-linejoin="round" stroke-linecap="round" />
<path d="M988.7 499.2 L993.3 498.6 Q997.1 498.1 1000.9 500.5 L1001.7 501 Q1005.5 503.4 1004.5 508.1 L1003.4 513.9" fill="none" stroke="#333" stroke-width="1.4" stroke-linejoin="round" stroke-linecap="round" />
<path d="M988.7 501.3 L992.4 507.5 Q995 511.8 998.5 515.3 L1003.4 520.1" fill="none" stroke="#444" stroke-width="1.3" stroke-linejoin="round" stroke-linecap="round" />
<line x1="993.9" y1="509.7" x2="999.2" y2="503.4" stroke="#444" stroke-width="1.3"/>
<ellipse cx="976.1" cy="497.1" rx="11.5" ry="12.5" fill="#c9c9c9" stroke="#444" stroke-width="1.4" transform="rotate(-20 976.1 497.1)"/>
<path d="M971.9 484.5 C973.3 484.3 977.8 482.6 980.3 483.5 C982.8 484.3 985.7 487.5 987.1 489.7 C988.5 492 988.4 495.9 988.7 497.1" fill="none" stroke="#444" stroke-width="1.3" stroke-linejoin="round" />
<ellipse cx="973" cy="498.1" rx="7.5" ry="9" fill="#dedede" stroke="#444" stroke-width="1.3" transform="rotate(-20 973 498.1)"/>
<ellipse cx="971.9" cy="498.7" rx="3.8" ry="5" fill="#f0f0f0" stroke="#444" stroke-width="1.1" transform="rotate(-20 971.9 498.7)"/>
<path d="M1060.5 417.1 Q1060 409.5 1063.3 405.7 L1064.1 404.8 Q1067.4 401.1 1074 399.2 L1075.5 398.7 Q1082.1 396.8 1087.8 399.7 L1089.1 400.3 Q1094.7 403.2 1099.4 409.7 L1100.6 411.4 Q1105.3 417.9 1107.2 424.5 L1107.8 426.9 Q1109.5 432.6 1108.1 438.3 L1107.7 439.6 Q1106.3 445.3 1101.3 448.5 L1099.9 449.3 Q1094.7 452.6 1089.1 452.2 L1087.8 452.1 Q1082.1 451.6 1076.4 446.8 L1075.2 445.8 Q1069.5 441.1 1065.7 434.4 L1064.8 432.9 Q1061.1 426.3 1060.6 418.7 Z" fill="#c9c9c9" stroke="#444" stroke-width="1.6" stroke-linejoin="round" stroke-linecap="round" />
<path d="M1067.4 402.1 C1070.2 402.3 1079.3 401.2 1084.2 403.2 C1089.1 405.1 1093.3 409.5 1096.8 413.7 C1100.4 417.9 1103.7 423.3 1105.3 428.4 C1106.8 433.5 1106.1 441.6 1106.3 444.2" fill="none" stroke="#444" stroke-width="1.3" stroke-linejoin="round" />
<path d="M1058.9 424.2 C1060 426.3 1062.1 432.8 1065.3 436.8 C1068.4 440.9 1073.3 446 1077.9 448.4 C1082.5 450.9 1090.2 451.1 1092.6 451.6" fill="none" stroke="#333" stroke-width="2" stroke-linejoin="round" />
<path d="M1066.4 415.4 Q1065.3 409.5 1070 407.6 L1071.1 407.2 Q1075.8 405.3 1081.2 407.9 L1083.1 408.9 Q1088.4 411.6 1091.9 416.5 L1095.5 421.4 Q1098.9 426.3 1099.9 432 L1100.1 433.3 Q1101.1 438.9 1097.3 441.8 L1096.4 442.4 Q1092.6 445.3 1086.9 444.3 L1085.7 444.1 Q1080 443.2 1076.2 438.5 L1073.3 435.1 Q1069.5 430.5 1068.3 424.6 Z" fill="#dcdcdc" stroke="#444" stroke-width="1.3" stroke-linejoin="round" stroke-linecap="round" />
<path d="M1077.6 423 Q1077.5 420 1080.4 419.4 L1083.4 418.9 Q1086.3 418.3 1087.2 421.2 L1089.2 427.7 Q1090.1 430.5 1088.4 433 L1085.9 436.5 Q1084.2 438.9 1082.1 436.8 L1080 434.8 Q1077.9 432.6 1077.8 429.6 Z" fill="#fff" stroke="#444" stroke-width="1.1" stroke-linejoin="round" stroke-linecap="round" />
<ellipse cx="1067.4" cy="414.7" rx="4.5" ry="5.5" fill="#444" stroke="#222" stroke-width="1.1"/>
<ellipse cx="1096.8" cy="441.1" rx="4.5" ry="6" fill="#cfcfcf" stroke="#333" stroke-width="1.3"/>
<path d="M1071.6 417.9 L1077.3 415 Q1080 413.7 1081.5 416.3 L1084.8 421.6 Q1086.3 424.2 1085.1 427 L1081.2 436.2 Q1080 438.9 1078.9 436.2 L1075.8 428.4" fill="none" stroke="#333" stroke-width="1.6" stroke-linejoin="round" stroke-linecap="round" />
<path d="M1084.2 420 L1092 423.1 Q1094.7 424.2 1093.6 427 L1091.6 432 Q1090.5 434.7 1087.6 435.5 L1082.1 436.8" fill="none" stroke="#444" stroke-width="1.3" stroke-linejoin="round" stroke-linecap="round" />
<line x1="1102.1" y1="429.5" x2="1109.5" y2="425.3" stroke="#333" stroke-width="1.7"/>
<line x1="1057.9" y1="423.2" x2="1064.2" y2="420" stroke="#333" stroke-width="1.7"/>
<ellipse cx="1040" cy="458.3" rx="7.5" ry="8.5" fill="#777" stroke="#333" stroke-width="1.4" transform="rotate(-20 1040 458.3)"/>
<line x1="1043" y1="458.3" x2="1047" y2="458.3" stroke="#222" stroke-width="1.3"/>
<line x1="1042.1" y1="460.9" x2="1044.9" y2="464" stroke="#222" stroke-width="1.3"/>
<line x1="1040" y1="461.9" x2="1040" y2="466.3" stroke="#222" stroke-width="1.3"/>
<line x1="1037.9" y1="460.9" x2="1035.1" y2="464" stroke="#222" stroke-width="1.3"/>
<line x1="1037" y1="458.3" x2="1033" y2="458.3" stroke="#222" stroke-width="1.3"/>
<line x1="1037.9" y1="455.8" x2="1035.1" y2="452.7" stroke="#222" stroke-width="1.3"/>
<line x1="1040" y1="454.7" x2="1040" y2="450.3" stroke="#222" stroke-width="1.3"/>
<line x1="1042.1" y1="455.8" x2="1044.9" y2="452.7" stroke="#222" stroke-width="1.3"/>
<ellipse cx="1040" cy="458.3" rx="3" ry="3.6" fill="#ddd" stroke="#333" stroke-width="1.1" transform="rotate(-20 1040 458.3)"/>
<ellipse cx="1040" cy="418.3" rx="5" ry="5.5" fill="#dcdcdc" stroke="#666" stroke-width="1.3" transform="rotate(-20 1040 418.3)"/>
<ellipse cx="1040.4" cy="418.3" rx="2.4" ry="2.8" fill="#f4f4f4" stroke="#777" stroke-width="1" transform="rotate(-20 1040.4 418.3)"/>
<ellipse cx="1054.7" cy="484.8" rx="5" ry="5.5" fill="#dcdcdc" stroke="#666" stroke-width="1.3" transform="rotate(-20 1054.7 484.8)"/>
<ellipse cx="1055.1" cy="484.8" rx="2.4" ry="2.8" fill="#f4f4f4" stroke="#777" stroke-width="1" transform="rotate(-20 1055.1 484.8)"/>
<path d="M1081.9 391.8 Q1081.3 389.9 1082.8 388.6 L1083.8 387.8 Q1085.3 386.4 1086.9 387.7 L1090.2 390.2 Q1091.8 391.4 1090.5 393 L1089.6 393.9 Q1088.3 395.4 1086.3 395.1 L1084.8 394.8 Q1082.8 394.4 1082.2 392.6 Z" fill="#e4e4e4" stroke="#666" stroke-width="1.3" stroke-linejoin="round" stroke-linecap="round" />
<ellipse cx="1086.3" cy="390.9" rx="1.8" ry="2" fill="#fff" stroke="#777" stroke-width="0.9"/>
<path d="M1094.6 385.5 Q1093.9 383.6 1095.5 382.3 L1096.4 381.4 Q1097.9 380.1 1099.5 381.4 L1102.9 383.9 Q1104.4 385.1 1103.1 386.6 L1102.3 387.6 Q1100.9 389.1 1099 388.8 L1097.4 388.5 Q1095.4 388.1 1094.8 386.2 Z" fill="#e4e4e4" stroke="#666" stroke-width="1.3" stroke-linejoin="round" stroke-linecap="round" />
<ellipse cx="1098.9" cy="384.6" rx="1.8" ry="2" fill="#fff" stroke="#777" stroke-width="0.9"/>
<path d="M1115.6 448.7 Q1115 446.8 1116.5 445.5 L1117.5 444.6 Q1119 443.3 1120.6 444.5 L1123.9 447.1 Q1125.5 448.3 1124.2 449.8 L1123.3 450.8 Q1122 452.3 1120 451.9 L1118.5 451.6 Q1116.5 451.3 1115.9 449.4 Z" fill="#e4e4e4" stroke="#666" stroke-width="1.3" stroke-linejoin="round" stroke-linecap="round" />
<ellipse cx="1120" cy="447.8" rx="1.8" ry="2" fill="#fff" stroke="#777" stroke-width="0.9"/>
<path d="M1103 456.7 Q1102.4 454.8 1103.9 453.5 L1104.9 452.6 Q1106.4 451.3 1108 452.5 L1111.3 455.1 Q1112.9 456.3 1111.6 457.8 L1110.7 458.8 Q1109.4 460.3 1107.4 459.9 L1105.8 459.6 Q1103.9 459.3 1103.2 457.4 Z" fill="#e4e4e4" stroke="#666" stroke-width="1.3" stroke-linejoin="round" stroke-linecap="round" />
<ellipse cx="1107.4" cy="455.8" rx="1.8" ry="2" fill="#fff" stroke="#777" stroke-width="0.9"/>
<ellipse cx="1119.9" cy="372.7" rx="5" ry="6" fill="#9a9a9a" stroke="#333" stroke-width="1.3" transform="rotate(-25 1119.9 372.7)"/>
<ellipse cx="1117.4" cy="374.2" rx="4" ry="5" fill="#c8c8c8" stroke="#333" stroke-width="1.1" transform="rotate(-25 1117.4 374.2)"/>
<path d="M1114.9 372.7 L1106.9 377.2 L1108.4 380.7 L1116.4 376.7 Z" fill="#888" stroke="#333" stroke-width="1.1" stroke-linejoin="round" />
<ellipse cx="1143.1" cy="433.3" rx="5" ry="6" fill="#9a9a9a" stroke="#333" stroke-width="1.3" transform="rotate(-25 1143.1 433.3)"/>
<ellipse cx="1140.6" cy="434.8" rx="4" ry="5" fill="#c8c8c8" stroke="#333" stroke-width="1.1" transform="rotate(-25 1140.6 434.8)"/>
<path d="M1138.1 433.3 L1130.1 437.8 L1131.6 441.3 L1139.6 437.3 Z" fill="#888" stroke="#333" stroke-width="1.1" stroke-linejoin="round" />
<path d="M1124.9 325.3 Q1124.3 319.3 1126.2 315.8 L1126.6 315 Q1128.6 311.4 1134.3 309.5 L1144.3 306.2 Q1150 304.3 1155.8 305.7 L1170.8 309.5 Q1178.6 311.4 1185.7 315.1 L1194.3 319.5 Q1201.4 323.1 1207.6 328.2 L1212.4 332.1 Q1218.6 337.1 1224.5 342.5 L1230.1 347.5 Q1236 352.9 1237 358 L1237.2 359.1 Q1238.1 364.3 1237.6 372.3 L1236.6 388.6 Q1236 398.6 1232.1 403.2 L1231.3 404.2 Q1227.4 408.9 1219 414.2 L1211.3 419.2 Q1202.9 424.6 1197.1 425.2 L1195.8 425.4 Q1190 426 1182.7 422.6 L1179.8 421.3 Q1171.4 417.4 1164.1 410.6 L1155.9 402.8 Q1148.6 396 1143.4 387.5 L1138.2 378.8 Q1134 372 1132.3 364.2 L1127.3 341.6 Q1126 335.7 1125.4 329.7 Z M1184.5 320.4 A22.5 40 -12 1 0 1201.2 398.7 A22.5 40 -12 1 0 1184.5 320.4 Z" fill="#cdcdcd" fill-rule="evenodd" stroke="#444" stroke-width="1.1" stroke-linejoin="round"/>
<clipPath id="c3"><path d="M1124.9 325.3 Q1124.3 319.3 1126.2 315.8 L1126.6 315 Q1128.6 311.4 1134.3 309.5 L1144.3 306.2 Q1150 304.3 1155.8 305.7 L1170.8 309.5 Q1178.6 311.4 1185.7 315.1 L1194.3 319.5 Q1201.4 323.1 1207.6 328.2 L1212.4 332.1 Q1218.6 337.1 1224.5 342.5 L1230.1 347.5 Q1236 352.9 1237 358 L1237.2 359.1 Q1238.1 364.3 1237.6 372.3 L1236.6 388.6 Q1236 398.6 1232.1 403.2 L1231.3 404.2 Q1227.4 408.9 1219 414.2 L1211.3 419.2 Q1202.9 424.6 1197.1 425.2 L1195.8 425.4 Q1190 426 1182.7 422.6 L1179.8 421.3 Q1171.4 417.4 1164.1 410.6 L1155.9 402.8 Q1148.6 396 1143.4 387.5 L1138.2 378.8 Q1134 372 1132.3 364.2 L1127.3 341.6 Q1126 335.7 1125.4 329.7 Z"/></clipPath><g clip-path="url(#c3)">
<path d="M1211.1 336.7 Q1210 332.9 1213.5 334.9 L1214.7 335.6 Q1218.6 337.9 1223 341.9 L1229.8 348.2 Q1235.7 353.6 1236.6 358.4 L1236.7 359.5 Q1237.6 364.3 1237.1 372.3 L1236.3 387.9 Q1235.7 397.9 1232 402.6 L1231.2 403.6 Q1227.4 408.3 1222.2 411.6 L1220.8 412.5 Q1215.7 415.7 1215.8 409.7 L1216.4 379.7 Q1216.4 375.7 1216.2 371.7 L1215.2 354 Q1215 350 1213.9 346.2 Z" fill="#d8d8d8" stroke="#444" stroke-width="1.1" stroke-linejoin="round" stroke-linecap="round" />
</g>
<path d="M1184.5 320.4 A22.5 40 -12 1 0 1201.2 398.7 A22.5 40 -12 1 0 1184.5 320.4 Z" fill="none" stroke="#444" stroke-width="1"/>
<path d="M1183.9 317.5 A25.5 43 -12 0 0 1201.8 401.6" fill="none" stroke="#555" stroke-width="0.8"/>
<path d="M1183.2 314.1 A29 46.5 -12 0 0 1202.5 405.1" fill="none" stroke="#444" stroke-width="0.9"/>
<path d="M1182.6 311.2 A32 49.5 -12 0 0 1203.1 408" fill="none" stroke="#666" stroke-width="0.7"/>
<path d="M1150 304.6 C1149.6 308.3 1147.4 318.9 1147.9 327.1 C1148.3 335.4 1150.1 345.2 1152.9 354.3 C1155.6 363.3 1159.5 373.1 1164.3 381.4 C1169 389.8 1176 398.1 1181.4 404.3 C1186.9 410.5 1194.5 416.2 1197.1 418.6" fill="none" stroke="#444" stroke-width="1.3" stroke-linejoin="round" />
<path d="M1134.7 315.8 Q1134.6 314.3 1136 314 L1147.1 311.5 Q1148.6 311.1 1148.5 312.6 L1148.3 317.1 Q1148.3 318.6 1146.9 319 L1136.9 322.1 Q1135.4 322.6 1135.3 321.1 Z" fill="#efefef" stroke="#333" stroke-width="1.4" stroke-linejoin="round" stroke-linecap="round" />
<path d="M1146.3 382.8 Q1145.7 381.4 1147.2 381 L1165 375.8 Q1166.4 375.4 1166.9 376.8 L1168.1 380 Q1168.6 381.4 1167.2 381.9 L1150.3 387.8 Q1148.9 388.3 1148.2 386.9 Z" fill="#efefef" stroke="#333" stroke-width="1.4" stroke-linejoin="round" stroke-linecap="round" />
<path d="M1191.7 422.3 Q1190.7 421.1 1192.1 420.5 L1205.8 414.6 Q1207.1 414 1207.7 415.4 L1208.1 416.5 Q1208.6 417.9 1207.2 418.4 L1195 423.7 Q1193.6 424.3 1192.6 423.2 Z" fill="#efefef" stroke="#333" stroke-width="1.4" stroke-linejoin="round" stroke-linecap="round" />
<path d="M1151.4 305.7 L1154.9 311 Q1157.1 314.3 1161 315.2 L1166.1 316.3 Q1170 317.1 1173.2 315.2 L1177.1 312.9" fill="none" stroke="#444" stroke-width="1.3" stroke-linejoin="round" stroke-linecap="round" />
<path d="M1158.6 312.9 L1164.2 318 Q1167.1 320.7 1171.1 319.9 L1177.1 318.6" fill="none" stroke="#555" stroke-width="1.1" stroke-linejoin="round" stroke-linecap="round" />
<line x1="1153.6" y1="338.6" x2="1157.9" y2="341.4" stroke="#333" stroke-width="1.8"/>
<ellipse cx="1214.3" cy="350.7" rx="2.6" ry="3" fill="#333" stroke="#222" stroke-width="0.9"/>
<path d="M1216.7 353.4 Q1216.4 351.4 1218.2 350.5 L1222.5 348.1 Q1224.3 347.1 1225.9 348.3 L1232.7 353.1 Q1234.3 354.3 1234.5 356.3 L1234.8 359.4 Q1235 361.4 1233.1 362.2 L1220.4 367.1 Q1218.6 367.9 1218.3 365.9 Z" fill="#bdbdbd" stroke="#333" stroke-width="1.3" stroke-linejoin="round" stroke-linecap="round" />
<line x1="1219.3" y1="357.1" x2="1220.3" y2="366.4" stroke="#333" stroke-width="1.4"/>
<line x1="1222.4" y1="356.3" x2="1223.4" y2="365" stroke="#333" stroke-width="1.4"/>
<line x1="1225.6" y1="355.4" x2="1226.6" y2="363.6" stroke="#333" stroke-width="1.4"/>
<line x1="1228.7" y1="354.6" x2="1229.7" y2="362.1" stroke="#333" stroke-width="1.4"/>
<line x1="1231.9" y1="353.7" x2="1232.9" y2="360.7" stroke="#333" stroke-width="1.4"/>
<line x1="1215.7" y1="344.3" x2="1216" y2="418.6" stroke="#444" stroke-width="1.3"/>
<path d="M1218.6 381.4 L1220.9 378.3 Q1222.9 375.7 1226.2 377.9 L1228.1 379.2 Q1231.4 381.4 1230.8 385.3 L1230.6 386.1 Q1230 390 1226 390 L1220 390" fill="none" stroke="#444" stroke-width="1.3" stroke-linejoin="round" stroke-linecap="round" />
<ellipse cx="1222.1" cy="385" rx="2.6" ry="4" fill="#efefef" stroke="#444" stroke-width="1.1"/>
<ellipse cx="1205.4" cy="406.4" rx="2.4" ry="2.6" fill="#555" stroke="#333" stroke-width="0.9"/>
<path d="M1123.5 320.1 Q1123.1 317.1 1125.3 316.2 L1125.7 316 Q1127.9 315 1128.1 318 L1128.4 322.7 Q1128.6 325.7 1126.6 326.5 L1126.2 326.7 Q1124.3 327.4 1124 324.4 Z" fill="#bbb" stroke="#444" stroke-width="1.1" stroke-linejoin="round" stroke-linecap="round" />
<path d="M1137.4 388.6 Q1136.4 385.7 1139 385.1 L1139.6 384.9 Q1142.1 384.3 1142.8 386.9 L1142.9 387.4 Q1143.6 390 1141.3 391 L1140.8 391.2 Q1138.6 392.1 1137.6 389.3 Z" fill="#c4c4c4" stroke="#444" stroke-width="1.1" stroke-linejoin="round" stroke-linecap="round" />
<path d="M1147.1 407 Q1145.7 404.3 1148.7 403.7 L1149.9 403.4 Q1152.9 402.9 1154.2 405.5 L1155.8 408.7 Q1157.1 411.4 1154.4 412.6 L1153.5 413.1 Q1150.7 414.3 1149.4 411.6 Z" fill="#c4c4c4" stroke="#444" stroke-width="1.1" stroke-linejoin="round" stroke-linecap="round" />
<path d="M1175.4 431 Q1172.9 427.9 1176.7 426.7 L1181.4 425.2 Q1184.3 424.3 1187.3 424.7 L1198.9 426.5 Q1202.9 427.1 1203.5 429.7 L1203.6 430.3 Q1204.3 432.9 1200.6 434.4 L1198 435.6 Q1194.3 437.1 1190.3 436.6 L1182.5 435.5 Q1178.6 435 1176.1 431.9 Z" fill="#cfcfcf" stroke="#444" stroke-width="1.3" stroke-linejoin="round" stroke-linecap="round" />
<line x1="1182.9" y1="429.3" x2="1184.3" y2="435.7" stroke="#333" stroke-width="1.3"/>
<line x1="1186.3" y1="429.3" x2="1187.7" y2="435.7" stroke="#333" stroke-width="1.3"/>
<line x1="1189.7" y1="429.3" x2="1191.1" y2="435.7" stroke="#333" stroke-width="1.3"/>
<line x1="1193.1" y1="429.3" x2="1194.6" y2="435.7" stroke="#333" stroke-width="1.3"/>
<line x1="1196.6" y1="429.3" x2="1198" y2="435.7" stroke="#333" stroke-width="1.3"/>
<path d="M1124.8 233.9 Q1122.9 230 1128 224.9 L1129.1 223.7 Q1134.3 218.6 1142 216.6 L1145.6 215.7 Q1151.4 214.3 1155.5 216.2 L1156.5 216.6 Q1160.6 218.6 1159.9 223.5 L1159.3 228.3 Q1158.6 234.3 1155.4 239.4 L1149.2 249.5 Q1147.1 252.9 1144.6 252.2 L1144 252.1 Q1141.4 251.4 1140.2 247.6 L1139.9 246.7 Q1138.6 242.9 1133.4 240.9 L1132.3 240.5 Q1127.1 238.6 1125.2 234.7 Z" fill="#d8d8d8" stroke="#777" stroke-width="1.3" stroke-linejoin="round" stroke-linecap="round" />
<path d="M1147.9 224.3 Q1148.6 221.4 1150.2 218.9 L1153.3 214 Q1154.9 211.4 1156.9 213.4 L1157.4 213.8 Q1159.4 215.7 1159.1 218.7 L1157.5 234.2 Q1157.1 237.1 1155.4 239.6 L1147.4 251.2 Q1145.7 253.7 1143.8 252.4 L1143.4 252.1 Q1141.4 250.9 1142.1 247.9 Z" fill="#c4c4c4" stroke="#444" stroke-width="1.3" stroke-linejoin="round" stroke-linecap="round" />
<line x1="1144.3" y1="245.7" x2="1154.9" y2="215.7" stroke="#444" stroke-width="1.1"/>
<line x1="1147.1" y1="248.6" x2="1157.1" y2="221.4" stroke="#555" stroke-width="1"/>
<line x1="1128.6" y1="232.9" x2="1145.7" y2="225.7" stroke="#888" stroke-width="0.9" stroke-dasharray="2 1.5"/>
<path d="M1165.7 213.7 C1188.6 211.4 1208.6 217.1 1217.1 234.3 S1224.3 254.3 1226.3 266.3" fill="none" stroke="#444" stroke-width="5.4" stroke-linecap="round"/>
<path d="M1165.7 213.7 C1188.6 211.4 1208.6 217.1 1217.1 234.3 S1224.3 254.3 1226.3 266.3" fill="none" stroke="#dedede" stroke-width="3.8" stroke-linecap="round"/>
<path d="M1165.9 210.1 Q1165.7 208.6 1167.2 208.4 L1174.2 207.4 Q1175.7 207.1 1175.9 208.6 L1177 219.9 Q1177.1 221.4 1175.7 221.6 L1168.6 222.6 Q1167.1 222.9 1167 221.4 Z" fill="#cfcfcf" stroke="#444" stroke-width="1.3" stroke-linejoin="round" stroke-linecap="round" />
<path d="M1184.3 172.9 C1186 176.4 1190.5 186.9 1194.3 194.3 C1198.1 201.7 1201.4 209.5 1207.1 217.1 C1212.9 224.8 1221.2 233.3 1228.6 240 C1236 246.7 1246.3 251.7 1251.4 257.1 C1256.6 262.6 1258 268.6 1259.4 272.9 C1260.9 277.1 1259.9 281.2 1260 282.9" fill="none" stroke="#444" stroke-width="5.5" stroke-linejoin="round" />
<path d="M1184.3 172.9 C1186 176.4 1190.5 186.9 1194.3 194.3 C1198.1 201.7 1201.4 209.5 1207.1 217.1 C1212.9 224.8 1221.2 233.3 1228.6 240 C1236 246.7 1246.3 251.7 1251.4 257.1 C1256.6 262.6 1258 268.6 1259.4 272.9 C1260.9 277.1 1259.9 281.2 1260 282.9" fill="none" stroke="#e2e2e2" stroke-width="3.5" stroke-linejoin="round" />
<line x1="1178.6" y1="171.4" x2="1187.1" y2="187.1" stroke="#333" stroke-width="2.3"/>
<line x1="1183.4" y1="169.1" x2="1192" y2="185.7" stroke="#333" stroke-width="2.3"/>
<path d="M1212.3 272.6 Q1212 268.6 1215.6 266.9 L1219.2 265.1 Q1222.9 263.4 1226.7 264.6 L1236.2 267.4 Q1240 268.6 1243.7 270 L1248.6 271.8 Q1251.4 272.9 1254.1 274.1 L1256.9 275.4 Q1260.6 277.1 1260.4 281.1 L1259.6 298.9 Q1259.4 302.9 1257.5 306.4 L1253.8 313.3 Q1251.4 317.7 1250.1 319.4 L1249.9 319.8 Q1248.6 321.4 1246.3 319.5 L1241.6 315.5 Q1238.6 312.9 1235 311.1 L1218.7 302.8 Q1214.3 300.6 1213.9 295.6 Z" fill="#d6d6d6" stroke="#444" stroke-width="1.4" stroke-linejoin="round" stroke-linecap="round" />
<path d="M1212 274.3 L1234.8 281.6 Q1238.6 282.9 1241.9 280.6 L1251.4 274.3" fill="none" stroke="#444" stroke-width="1.3" stroke-linejoin="round" stroke-linecap="round" />
<path d="M1238.6 282.9 L1238.6 312.9" fill="none" stroke="#555" stroke-width="1.1" stroke-linejoin="round" stroke-linecap="round" />
<path d="M1237.6 275.6 Q1236.3 274.1 1238.2 273.7 L1245.6 272.1 Q1247.6 271.7 1248.8 273.3 L1254.8 281.4 Q1256 283 1256.1 285 L1256.6 300.4 Q1256.6 302.4 1255.8 304.2 L1252 312 Q1251.1 313.8 1249.7 312.4 L1246.6 309.5 Q1245.2 308.1 1245.1 306.1 L1244.7 285.8 Q1244.7 283.8 1243.4 282.3 Z" fill="#8a8a8a" stroke="#333" stroke-width="1.1" stroke-linejoin="round" stroke-linecap="round" />
<line x1="1238.7" y1="275.2" x2="1246.8" y2="305.7" stroke="#2e2e2e" stroke-width="1.3"/>
<line x1="1241.3" y1="276.5" x2="1248.4" y2="305" stroke="#2e2e2e" stroke-width="1.3"/>
<line x1="1243.9" y1="277.8" x2="1250" y2="304.4" stroke="#2e2e2e" stroke-width="1.3"/>
<line x1="1246.5" y1="279.1" x2="1251.6" y2="303.7" stroke="#2e2e2e" stroke-width="1.3"/>
<line x1="1249" y1="280.4" x2="1253.3" y2="303.1" stroke="#2e2e2e" stroke-width="1.3"/>
<path d="M1214 268.1 Q1213.6 265.2 1216.6 264.7 L1220.3 264.1 Q1223.3 263.6 1225.8 265.3 L1235.4 271.6 Q1237.9 273.3 1237.1 274.8 L1237 275.1 Q1236.3 276.5 1233.4 275.5 L1226.1 272.7 Q1223.3 271.7 1220.3 271.7 L1217.4 271.7 Q1214.4 271.7 1214 268.8 Z" fill="#c4c4c4" stroke="#333" stroke-width="1.1" stroke-linejoin="round" stroke-linecap="round" />
<path d="M1220.5 267.3 Q1219.4 266.3 1220.9 266.1 L1227.1 265.3 Q1228.6 265.1 1229.7 266.1 L1233.1 269 Q1234.3 270 1232.8 270.3 L1226.6 271.7 Q1225.1 272 1224.1 270.9 Z" fill="#bbb" stroke="#444" stroke-width="1.1" stroke-linejoin="round" stroke-linecap="round" />
<path d="M1244 315.6 Q1242.9 312.9 1245.8 312.1 L1250.8 310.8 Q1253.7 310 1254.1 313 L1254.5 315.6 Q1254.9 318.6 1252.3 320.2 L1249.7 321.8 Q1247.1 323.4 1246 320.6 Z" fill="#cfcfcf" stroke="#444" stroke-width="1.3" stroke-linejoin="round" stroke-linecap="round" />
<ellipse cx="1251.4" cy="315.7" rx="2" ry="2.4" fill="#eee" stroke="#333" stroke-width="1"/>
<path d="M1288.9 243.6 L1272.9 252.6 L1275.1 256.4 L1291 247.3 Z" fill="#8a8a8a" stroke="#4a4a4a" stroke-width="1.1" stroke-linejoin="round" />
<line x1="1287.3" y1="244.5" x2="1288.7" y2="248.6" stroke="#555" stroke-width="0.6"/>
<line x1="1285.7" y1="245.4" x2="1287.1" y2="249.5" stroke="#555" stroke-width="0.6"/>
<line x1="1284.1" y1="246.3" x2="1285.5" y2="250.4" stroke="#555" stroke-width="0.6"/>
<line x1="1282.5" y1="247.2" x2="1283.9" y2="251.3" stroke="#555" stroke-width="0.6"/>
<line x1="1280.9" y1="248.1" x2="1282.3" y2="252.2" stroke="#555" stroke-width="0.6"/>
<line x1="1279.3" y1="249" x2="1280.7" y2="253.1" stroke="#555" stroke-width="0.6"/>
<line x1="1277.7" y1="249.9" x2="1279.1" y2="254" stroke="#555" stroke-width="0.6"/>
<line x1="1276.1" y1="250.8" x2="1277.5" y2="255" stroke="#555" stroke-width="0.6"/>
<line x1="1274.5" y1="251.7" x2="1276" y2="255.9" stroke="#555" stroke-width="0.6"/>
<path d="M1294 238.4 L1287.9 241.9 L1292 249 L1298 245.6 Z" fill="#666" stroke="#333" stroke-width="1.3" stroke-linejoin="round" />
<line x1="1292.1" y1="239.5" x2="1296.2" y2="246.6" stroke="#333" stroke-width="0.7"/>
<line x1="1290.3" y1="240.5" x2="1294.4" y2="247.7" stroke="#333" stroke-width="0.7"/>
<ellipse cx="1296" cy="242" rx="2.5" ry="4.1" fill="#e8e8e8" stroke="#333" stroke-width="1.3" transform="rotate(150.4 1296 242)"/>
<ellipse cx="1296" cy="242" rx="1.1" ry="1.9" fill="#aaa" stroke="#555" stroke-width="0.7" transform="rotate(150.4 1296 242)"/>
<path d="M1298.9 282.1 L1283.9 290.6 L1286.1 294.4 L1301 285.8 Z" fill="#8a8a8a" stroke="#4a4a4a" stroke-width="1.1" stroke-linejoin="round" />
<line x1="1297.4" y1="283" x2="1298.8" y2="287.1" stroke="#555" stroke-width="0.6"/>
<line x1="1295.9" y1="283.8" x2="1297.3" y2="287.9" stroke="#555" stroke-width="0.6"/>
<line x1="1294.4" y1="284.7" x2="1295.8" y2="288.8" stroke="#555" stroke-width="0.6"/>
<line x1="1292.9" y1="285.5" x2="1294.3" y2="289.6" stroke="#555" stroke-width="0.6"/>
<line x1="1291.4" y1="286.4" x2="1292.8" y2="290.5" stroke="#555" stroke-width="0.6"/>
<line x1="1289.9" y1="287.2" x2="1291.3" y2="291.4" stroke="#555" stroke-width="0.6"/>
<line x1="1288.4" y1="288.1" x2="1289.8" y2="292.2" stroke="#555" stroke-width="0.6"/>
<line x1="1286.9" y1="288.9" x2="1288.4" y2="293.1" stroke="#555" stroke-width="0.6"/>
<line x1="1285.4" y1="289.8" x2="1286.9" y2="293.9" stroke="#555" stroke-width="0.6"/>
<path d="M1304 276.9 L1297.9 280.4 L1302 287.6 L1308 284.1 Z" fill="#666" stroke="#333" stroke-width="1.3" stroke-linejoin="round" />
<line x1="1302.1" y1="278" x2="1306.2" y2="285.1" stroke="#333" stroke-width="0.7"/>
<line x1="1300.3" y1="279" x2="1304.4" y2="286.2" stroke="#333" stroke-width="0.7"/>
<ellipse cx="1306" cy="280.5" rx="2.5" ry="4.1" fill="#e8e8e8" stroke="#333" stroke-width="1.3" transform="rotate(150.3 1306 280.5)"/>
<ellipse cx="1306" cy="280.5" rx="1.1" ry="1.9" fill="#aaa" stroke="#555" stroke-width="0.7" transform="rotate(150.3 1306 280.5)"/>
<path d="M1175.3 290.4 L1160.9 298.6 L1163.1 302.4 L1177.4 294.1 Z" fill="#8a8a8a" stroke="#4a4a4a" stroke-width="1.1" stroke-linejoin="round" />
<line x1="1173.7" y1="291.3" x2="1175.1" y2="295.4" stroke="#555" stroke-width="0.6"/>
<line x1="1172.1" y1="292.2" x2="1173.5" y2="296.3" stroke="#555" stroke-width="0.6"/>
<line x1="1170.5" y1="293.1" x2="1172" y2="297.3" stroke="#555" stroke-width="0.6"/>
<line x1="1168.9" y1="294" x2="1170.4" y2="298.2" stroke="#555" stroke-width="0.6"/>
<line x1="1167.3" y1="295" x2="1168.8" y2="299.1" stroke="#555" stroke-width="0.6"/>
<line x1="1165.7" y1="295.9" x2="1167.2" y2="300" stroke="#555" stroke-width="0.6"/>
<line x1="1164.1" y1="296.8" x2="1165.6" y2="300.9" stroke="#555" stroke-width="0.6"/>
<line x1="1162.5" y1="297.7" x2="1164" y2="301.8" stroke="#555" stroke-width="0.6"/>
<path d="M1180.1 285.7 L1174.4 288.9 L1178.3 295.6 L1183.9 292.3 Z" fill="#666" stroke="#333" stroke-width="1.3" stroke-linejoin="round" />
<line x1="1178.4" y1="286.6" x2="1182.2" y2="293.3" stroke="#333" stroke-width="0.7"/>
<line x1="1176.7" y1="287.6" x2="1180.5" y2="294.3" stroke="#333" stroke-width="0.7"/>
<ellipse cx="1182" cy="289" rx="2.3" ry="3.9" fill="#e8e8e8" stroke="#333" stroke-width="1.3" transform="rotate(150.1 1182 289)"/>
<ellipse cx="1182" cy="289" rx="1" ry="1.8" fill="#aaa" stroke="#555" stroke-width="0.7" transform="rotate(150.1 1182 289)"/>
<path d="M1284.9 309.7 L1272.9 316.6 L1275.1 320.4 L1287 313.4 Z" fill="#8a8a8a" stroke="#4a4a4a" stroke-width="1.1" stroke-linejoin="round" />
<line x1="1283.4" y1="310.5" x2="1284.9" y2="314.7" stroke="#555" stroke-width="0.6"/>
<line x1="1281.9" y1="311.4" x2="1283.4" y2="315.5" stroke="#555" stroke-width="0.6"/>
<line x1="1280.4" y1="312.3" x2="1281.9" y2="316.4" stroke="#555" stroke-width="0.6"/>
<line x1="1278.9" y1="313.2" x2="1280.4" y2="317.3" stroke="#555" stroke-width="0.6"/>
<line x1="1277.4" y1="314" x2="1278.9" y2="318.1" stroke="#555" stroke-width="0.6"/>
<line x1="1275.9" y1="314.9" x2="1277.4" y2="319" stroke="#555" stroke-width="0.6"/>
<line x1="1274.4" y1="315.8" x2="1275.9" y2="319.9" stroke="#555" stroke-width="0.6"/>
<path d="M1289.9 304.4 L1283.9 308 L1288 315.1 L1294.1 311.6 Z" fill="#666" stroke="#333" stroke-width="1.3" stroke-linejoin="round" />
<line x1="1288.1" y1="305.5" x2="1292.3" y2="312.6" stroke="#333" stroke-width="0.7"/>
<line x1="1286.3" y1="306.6" x2="1290.5" y2="313.7" stroke="#333" stroke-width="0.7"/>
<ellipse cx="1292" cy="308" rx="2.5" ry="4.1" fill="#e8e8e8" stroke="#333" stroke-width="1.3" transform="rotate(149.7 1292 308)"/>
<ellipse cx="1292" cy="308" rx="1.1" ry="1.9" fill="#aaa" stroke="#555" stroke-width="0.7" transform="rotate(149.7 1292 308)"/>
<path d="M1260.3 360.5 L1248.5 367.1 L1250.5 370.9 L1262.4 364.3 Z" fill="#8a8a8a" stroke="#4a4a4a" stroke-width="1.1" stroke-linejoin="round" />
<line x1="1258.6" y1="361.5" x2="1260" y2="365.6" stroke="#555" stroke-width="0.6"/>
<line x1="1256.9" y1="362.4" x2="1258.3" y2="366.6" stroke="#555" stroke-width="0.6"/>
<line x1="1255.2" y1="363.4" x2="1256.6" y2="367.5" stroke="#555" stroke-width="0.6"/>
<line x1="1253.5" y1="364.3" x2="1254.9" y2="368.4" stroke="#555" stroke-width="0.6"/>
<line x1="1251.9" y1="365.2" x2="1253.2" y2="369.4" stroke="#555" stroke-width="0.6"/>
<line x1="1250.2" y1="366.2" x2="1251.5" y2="370.3" stroke="#555" stroke-width="0.6"/>
<path d="M1265.5 355.4 L1259.4 358.8 L1263.4 366 L1269.5 362.6 Z" fill="#666" stroke="#333" stroke-width="1.3" stroke-linejoin="round" />
<line x1="1263.7" y1="356.4" x2="1267.7" y2="363.6" stroke="#333" stroke-width="0.7"/>
<line x1="1261.8" y1="357.4" x2="1265.8" y2="364.6" stroke="#333" stroke-width="0.7"/>
<ellipse cx="1267.5" cy="359" rx="2.5" ry="4.1" fill="#e8e8e8" stroke="#333" stroke-width="1.3" transform="rotate(150.9 1267.5 359)"/>
<ellipse cx="1267.5" cy="359" rx="1.1" ry="1.9" fill="#aaa" stroke="#555" stroke-width="0.7" transform="rotate(150.9 1267.5 359)"/>
<path d="M1265.9 385.1 L1252.9 392.6 L1255.1 396.4 L1268 388.9 Z" fill="#8a8a8a" stroke="#4a4a4a" stroke-width="1.1" stroke-linejoin="round" />
<line x1="1264.2" y1="386.1" x2="1265.7" y2="390.2" stroke="#555" stroke-width="0.6"/>
<line x1="1262.6" y1="387" x2="1264.1" y2="391.1" stroke="#555" stroke-width="0.6"/>
<line x1="1261" y1="388" x2="1262.5" y2="392.1" stroke="#555" stroke-width="0.6"/>
<line x1="1259.4" y1="388.9" x2="1260.9" y2="393" stroke="#555" stroke-width="0.6"/>
<line x1="1257.8" y1="389.8" x2="1259.2" y2="393.9" stroke="#555" stroke-width="0.6"/>
<line x1="1256.2" y1="390.8" x2="1257.6" y2="394.9" stroke="#555" stroke-width="0.6"/>
<line x1="1254.5" y1="391.7" x2="1256" y2="395.8" stroke="#555" stroke-width="0.6"/>
<path d="M1270.9 379.9 L1264.9 383.4 L1269 390.6 L1275.1 387.1 Z" fill="#666" stroke="#333" stroke-width="1.3" stroke-linejoin="round" />
<line x1="1269.1" y1="381" x2="1273.2" y2="388.1" stroke="#333" stroke-width="0.7"/>
<line x1="1267.3" y1="382" x2="1271.4" y2="389.2" stroke="#333" stroke-width="0.7"/>
<ellipse cx="1273" cy="383.5" rx="2.5" ry="4.1" fill="#e8e8e8" stroke="#333" stroke-width="1.3" transform="rotate(149.9 1273 383.5)"/>
<ellipse cx="1273" cy="383.5" rx="1.1" ry="1.9" fill="#aaa" stroke="#555" stroke-width="0.7" transform="rotate(149.9 1273 383.5)"/>
<path d="M278.4 558.2 Q277.3 554.3 279.3 551 L279.7 550.2 Q281.7 546.9 288.5 542.5 L294 539 Q299.1 535.7 304.6 533.5 L333.1 521.9 Q338.7 519.6 342.7 519.1 L343.5 519 Q347.5 518.5 349.3 521.9 L349.7 522.6 Q351.5 526 348.6 528.7 L338.2 538.3 Q333.7 542.4 328.5 545.4 L321.6 549.3 Q316.4 552.3 311 555 L293.8 563.6 Q286.7 567.2 283.6 565.3 L282.9 564.9 Q279.8 563 278.6 559.1 Z" fill="#d4d4d4" stroke="#444" stroke-width="1.4" stroke-linejoin="round" stroke-linecap="round" />
<path d="M281.7 550.6 C285 548.7 292.1 544 301.5 539.4 C311 534.9 330.9 526.2 338.7 523.3 C346.5 520.5 347 522.7 348.6 522.6" fill="none" stroke="#555" stroke-width="1.1" stroke-linejoin="round" />
<path d="M294.1 541.9 C297 540.6 305.3 536.7 311.5 534 C317.6 531.3 328 527.2 331.3 525.8" fill="none" stroke="#555" stroke-width="1" stroke-linejoin="round" />
<ellipse cx="312.7" cy="534" rx="1.6" ry="1.2" fill="#eee" stroke="#444" stroke-width="0.9"/>
<ellipse cx="295.4" cy="542.4" rx="1.6" ry="1.2" fill="#eee" stroke="#444" stroke-width="0.9"/>
<path d="M310.3 558.2 Q309 555.5 311.7 554.4 L314.9 553 Q317.6 551.8 319.5 554.1 L326.9 563.1 Q328.8 565.4 327.5 568.1 L325.2 572.7 Q323.8 575.4 321.1 574.2 L320.4 574 Q317.6 572.9 316.3 570.2 Z" fill="#cfcfcf" stroke="#444" stroke-width="1.3" stroke-linejoin="round" stroke-linecap="round" />
<path d="M349.1 533.6 Q348.1 530.8 350.8 529.5 L351.4 529.3 Q354.1 528 356.7 529.4 L378.6 540.6 Q381.3 541.9 383.8 543.5 L417.5 564.6 Q420.9 566.7 421 570.7 L422.1 618.2 Q422.2 621.2 421.8 624.2 L419.9 642.5 Q419.4 646.4 416.8 648.7 L416.2 649.2 Q413.5 651.4 409.9 649.7 L400.8 645.3 Q398.1 644 398.1 641 L398.1 564.7 Q398.1 561.7 395.4 560.4 L353.8 540.7 Q351.1 539.4 350.1 536.6 Z" fill="#c6c6c6" stroke="#444" stroke-width="1.4" stroke-linejoin="round" stroke-linecap="round" />
<line x1="415.5" y1="569.2" x2="417" y2="645.9" stroke="#444" stroke-width="1.1"/>
<ellipse cx="410.5" cy="573.4" rx="2.6" ry="3.2" fill="#e8e8e8" stroke="#333" stroke-width="1.1"/>
<ellipse cx="407.6" cy="642.2" rx="2.6" ry="3.2" fill="#e8e8e8" stroke="#333" stroke-width="1.1"/>
<ellipse cx="353.6" cy="539.4" rx="2.2" ry="2.6" fill="#e8e8e8" stroke="#333" stroke-width="1"/>
<path d="M322.5 583 Q321.4 577.1 323.7 571.6 L327.7 562.2 Q330.8 554.8 337 549.8 L339.9 547.4 Q346.1 542.4 351.7 542 L352.9 541.9 Q358.5 541.4 364 543.8 L383.6 552.3 Q388.2 554.3 392.5 556.9 L401.7 562.4 Q406.8 565.4 408.8 571.1 L411.5 578.4 Q413.5 584 413.8 590 L415.1 612.7 Q415.5 618.7 413.7 624.4 L411.1 632.8 Q409.3 638.5 404.3 641 L402.6 641.8 Q398.1 644 393.5 645.8 L383.5 649.6 Q378.8 651.4 374.1 651.4 L373.1 651.4 Q368.4 651.4 363.5 647.9 L350.7 638.7 Q344.1 634.1 339.2 627.7 L333.7 620.6 Q328.8 614.2 327.2 606.4 Z" fill="#d6d6d6" stroke="#444" stroke-width="1.6" stroke-linejoin="round" stroke-linecap="round" />
<path d="M346.1 543.2 L369.5 562.3 Q373.4 565.4 374.4 570.3 L377.1 583.1 Q378.3 589 380.2 594.7 L386.3 613 Q388.2 618.7 387.5 624.7 L384.5 648.4" fill="none" stroke="#444" stroke-width="1.3" stroke-linejoin="round" stroke-linecap="round" />
<path d="M373.4 565.4 L406.8 565.4" fill="none" stroke="#444" stroke-width="1.3" stroke-linejoin="round" stroke-linecap="round" />
<path d="M378.3 589 L413.5 584" fill="none" stroke="#555" stroke-width="1.1" stroke-linejoin="round" stroke-linecap="round" />
<path d="M388.2 618.7 L415.5 618.7" fill="none" stroke="#555" stroke-width="1.1" stroke-linejoin="round" stroke-linecap="round" />
<line x1="358.5" y1="541.9" x2="361" y2="554.3" stroke="#888" stroke-width="0.9"/>
<ellipse cx="352.3" cy="602.6" rx="21.5" ry="30" fill="#e2e2e2" stroke="#444" stroke-width="1.4" transform="rotate(-14 352.3 602.6)"/>
<path d="M323.8 579.1 C324 582.4 323.4 591.9 325.1 598.9 C326.7 605.9 329.8 614.6 333.7 621.2 C337.7 627.8 342.8 633.6 348.6 638.5 C354.4 643.5 365.1 648.8 368.4 650.9" fill="none" stroke="#555" stroke-width="1.1" stroke-linejoin="round" />
<line x1="352" y1="603" x2="432" y2="560" stroke="#8a8a8a" stroke-width="0.9"/>
<path d="M432.3 543.1 Q430.3 537.5 432.5 531.9 L435.1 525.2 Q437.3 519.6 442 517.4 L443 516.9 Q447.7 514.7 453.1 517.3 L458.5 519.9 Q463 522.1 466.6 525.6 L481.1 540.2 Q485.3 544.4 485.3 550.4 L485.3 553.8 Q485.3 559.8 481.4 564.3 L476.4 570.1 Q472.4 574.6 466.5 575.6 L463.5 576.1 Q457.6 577.1 453.3 572.9 L441.6 561.5 Q437.3 557.3 435.3 551.6 Z" fill="#bdbdbd" stroke="#333" stroke-width="1.7" stroke-linejoin="round" stroke-linecap="round" />
<path d="M436.7 544.1 Q434.8 539.4 436.4 534.7 L438.2 529.3 Q439.8 524.6 443.3 522.9 L444.1 522.5 Q447.7 520.9 452.2 523 L456.1 524.9 Q460.6 527.1 464 530.6 L476.4 543.3 Q479.9 546.9 479.9 551.9 L479.9 553 Q479.9 558 476.7 561.8 L473.7 565.3 Q470.5 569.2 465.5 570 L463.8 570.3 Q458.8 571.1 455.2 567.7 L444.4 557.7 Q440.7 554.3 438.9 549.7 Z" fill="#6e6e6e" stroke="#222" stroke-width="1.3" stroke-linejoin="round" stroke-linecap="round" />
<path d="M440.6 534.7 Q441.5 530.8 445 528.8 L446.7 527.8 Q450.2 525.8 449.6 529.8 L448.2 540.4 Q447.7 544.4 443.8 543.3 L442.9 543 Q439 541.9 439.9 538 Z" fill="#c8c8c8" stroke="#222" stroke-width="1.1" stroke-linejoin="round" stroke-linecap="round" />
<path d="M462.9 558.3 Q462.5 554.3 466.3 552.8 L471.2 550.8 Q474.9 549.3 474.6 553.3 L474 560.2 Q473.7 564.2 469.9 565.6 L467.5 566.5 Q463.8 567.9 463.4 563.9 Z" fill="#c8c8c8" stroke="#222" stroke-width="1.1" stroke-linejoin="round" stroke-linecap="round" />
<ellipse cx="456.3" cy="544.9" rx="7.5" ry="9" fill="#b0b0b0" stroke="#222" stroke-width="1.3" transform="rotate(-20 456.3 544.9)"/>
<ellipse cx="455.9" cy="545.4" rx="4.5" ry="5.5" fill="#4a4a4a" stroke="#222" stroke-width="1" transform="rotate(-20 455.9 545.4)"/>
<ellipse cx="455.9" cy="545.4" rx="2" ry="2.6" fill="#ddd" stroke="#222" stroke-width="0.9" transform="rotate(-20 455.9 545.4)"/>
<path d="M435.3 546.9 C436.9 548.1 441.5 551 445.2 554.3 C448.9 557.6 455.5 564.6 457.6 566.7" fill="none" stroke="#ddd" stroke-width="1.4" stroke-linejoin="round" />
<path d="M450.2 522.1 C452.2 523.8 458.4 528.5 462.5 532 C466.7 535.5 472.9 541.3 474.9 543.2" fill="none" stroke="#ddd" stroke-width="1.3" stroke-linejoin="round" />
<path d="M271 668.3 Q268.9 666.3 269.3 663.3 L270.5 655.8 Q271.3 650.9 273.8 649.6 L274.3 649.3 Q276.8 647.9 279 652.4 L280.9 656.1 Q282.2 658.8 284.2 661.1 L307 686.3 Q309 688.5 311.4 687.4 L312 687.2 Q314.4 686.1 316.7 685.2 L317.2 685 Q319.4 684.1 320.7 687.9 L323.3 695.1 Q324.3 698 326.7 699.8 L330.2 702.4 Q334.2 705.4 332 709 L331.5 709.7 Q329.3 713.3 324.4 713.8 L322.4 713.9 Q318.4 714.3 315.5 711.5 Z" fill="#cdcdcd" stroke="#444" stroke-width="1.4" stroke-linejoin="round" stroke-linecap="round" />
<path d="M274.3 653.4 L277.1 661.7 Q278 664.5 280.1 666.6 L309.3 695.8 Q311.5 698 313.3 700.3 L321.4 710.3" fill="none" stroke="#555" stroke-width="1.1" stroke-linejoin="round" stroke-linecap="round" />
<path d="M314.4 686.1 L316.1 699.9 Q316.4 702.9 318.7 704.8 L323.8 709.1" fill="none" stroke="#444" stroke-width="1.1" stroke-linejoin="round" stroke-linecap="round" />
<ellipse cx="326.8" cy="705.9" rx="2.8" ry="2.2" fill="#777" stroke="#333" stroke-width="1.1"/>
<ellipse cx="274.3" cy="652.1" rx="2" ry="2.6" fill="#aaa" stroke="#444" stroke-width="1"/>
<ellipse cx="287.2" cy="668.2" rx="1.5" ry="1.5" fill="#888" stroke="#444" stroke-width="0.7"/>
<path d="M231.8 607.5 L245.4 600.3 L243.6 596.7 L229.9 603.9 Z" fill="#8a8a8a" stroke="#4a4a4a" stroke-width="1.1" stroke-linejoin="round" />
<line x1="233.3" y1="606.7" x2="232.1" y2="602.7" stroke="#555" stroke-width="0.6"/>
<line x1="234.8" y1="605.9" x2="233.6" y2="601.9" stroke="#555" stroke-width="0.6"/>
<line x1="236.3" y1="605.1" x2="235.1" y2="601.1" stroke="#555" stroke-width="0.6"/>
<line x1="237.8" y1="604.3" x2="236.7" y2="600.3" stroke="#555" stroke-width="0.6"/>
<line x1="239.4" y1="603.5" x2="238.2" y2="599.5" stroke="#555" stroke-width="0.6"/>
<line x1="240.9" y1="602.7" x2="239.7" y2="598.7" stroke="#555" stroke-width="0.6"/>
<line x1="242.4" y1="601.9" x2="241.2" y2="597.9" stroke="#555" stroke-width="0.6"/>
<line x1="243.9" y1="601.1" x2="242.7" y2="597.1" stroke="#555" stroke-width="0.6"/>
<path d="M227.2 611.7 L232.5 608.9 L229.1 602.5 L223.8 605.3 Z" fill="#666" stroke="#333" stroke-width="1.3" stroke-linejoin="round" />
<line x1="228.8" y1="610.8" x2="225.4" y2="604.5" stroke="#333" stroke-width="0.7"/>
<line x1="230.4" y1="610" x2="227" y2="603.7" stroke="#333" stroke-width="0.7"/>
<ellipse cx="225.5" cy="608.5" rx="2.1" ry="3.6" fill="#e8e8e8" stroke="#333" stroke-width="1.3" transform="rotate(-27.8 225.5 608.5)"/>
<ellipse cx="225.5" cy="608.5" rx="0.9" ry="1.6" fill="#aaa" stroke="#555" stroke-width="0.7" transform="rotate(-27.8 225.5 608.5)"/>
<path d="M288.7 643.4 L302 636.3 L300 632.7 L286.8 639.9 Z" fill="#8a8a8a" stroke="#4a4a4a" stroke-width="1.1" stroke-linejoin="round" />
<line x1="290.4" y1="642.5" x2="289.2" y2="638.6" stroke="#555" stroke-width="0.6"/>
<line x1="292.1" y1="641.6" x2="290.8" y2="637.7" stroke="#555" stroke-width="0.6"/>
<line x1="293.7" y1="640.8" x2="292.5" y2="636.8" stroke="#555" stroke-width="0.6"/>
<line x1="295.4" y1="639.9" x2="294.1" y2="635.9" stroke="#555" stroke-width="0.6"/>
<line x1="297" y1="639" x2="295.8" y2="635" stroke="#555" stroke-width="0.6"/>
<line x1="298.7" y1="638.1" x2="297.4" y2="634.1" stroke="#555" stroke-width="0.6"/>
<line x1="300.3" y1="637.2" x2="299.1" y2="633.2" stroke="#555" stroke-width="0.6"/>
<path d="M284.2 647.6 L289.5 644.8 L286.1 638.5 L280.8 641.4 Z" fill="#666" stroke="#333" stroke-width="1.3" stroke-linejoin="round" />
<line x1="285.8" y1="646.8" x2="282.4" y2="640.5" stroke="#333" stroke-width="0.7"/>
<line x1="287.4" y1="645.9" x2="284" y2="639.6" stroke="#333" stroke-width="0.7"/>
<ellipse cx="282.5" cy="644.5" rx="2.1" ry="3.6" fill="#e8e8e8" stroke="#333" stroke-width="1.3" transform="rotate(-28.4 282.5 644.5)"/>
<ellipse cx="282.5" cy="644.5" rx="0.9" ry="1.6" fill="#aaa" stroke="#555" stroke-width="0.7" transform="rotate(-28.4 282.5 644.5)"/>
<path d="M243.7 674.4 L256.5 667.3 L254.5 663.7 L241.8 670.8 Z" fill="#8a8a8a" stroke="#4a4a4a" stroke-width="1.1" stroke-linejoin="round" />
<line x1="245.3" y1="673.5" x2="244.1" y2="669.5" stroke="#555" stroke-width="0.6"/>
<line x1="246.9" y1="672.6" x2="245.6" y2="668.6" stroke="#555" stroke-width="0.6"/>
<line x1="248.5" y1="671.7" x2="247.2" y2="667.8" stroke="#555" stroke-width="0.6"/>
<line x1="250.1" y1="670.8" x2="248.8" y2="666.9" stroke="#555" stroke-width="0.6"/>
<line x1="251.7" y1="669.9" x2="250.4" y2="666" stroke="#555" stroke-width="0.6"/>
<line x1="253.3" y1="669" x2="252" y2="665.1" stroke="#555" stroke-width="0.6"/>
<line x1="254.9" y1="668.2" x2="253.6" y2="664.2" stroke="#555" stroke-width="0.6"/>
<path d="M239.2 678.6 L244.5 675.7 L241 669.5 L235.8 672.4 Z" fill="#666" stroke="#333" stroke-width="1.3" stroke-linejoin="round" />
<line x1="240.8" y1="677.8" x2="237.3" y2="671.5" stroke="#333" stroke-width="0.7"/>
<line x1="242.4" y1="676.9" x2="238.9" y2="670.6" stroke="#333" stroke-width="0.7"/>
<ellipse cx="237.5" cy="675.5" rx="2.1" ry="3.6" fill="#e8e8e8" stroke="#333" stroke-width="1.3" transform="rotate(-29.1 237.5 675.5)"/>
<ellipse cx="237.5" cy="675.5" rx="0.9" ry="1.6" fill="#aaa" stroke="#555" stroke-width="0.7" transform="rotate(-29.1 237.5 675.5)"/>
<path d="M276.2 715.4 L289 708.3 L287 704.7 L274.3 711.8 Z" fill="#8a8a8a" stroke="#4a4a4a" stroke-width="1.1" stroke-linejoin="round" />
<line x1="277.8" y1="714.5" x2="276.6" y2="710.5" stroke="#555" stroke-width="0.6"/>
<line x1="279.4" y1="713.6" x2="278.1" y2="709.6" stroke="#555" stroke-width="0.6"/>
<line x1="281" y1="712.7" x2="279.7" y2="708.8" stroke="#555" stroke-width="0.6"/>
<line x1="282.6" y1="711.8" x2="281.3" y2="707.9" stroke="#555" stroke-width="0.6"/>
<line x1="284.2" y1="710.9" x2="282.9" y2="707" stroke="#555" stroke-width="0.6"/>
<line x1="285.8" y1="710" x2="284.5" y2="706.1" stroke="#555" stroke-width="0.6"/>
<line x1="287.4" y1="709.2" x2="286.1" y2="705.2" stroke="#555" stroke-width="0.6"/>
<path d="M271.7 719.6 L277 716.7 L273.5 710.5 L268.3 713.4 Z" fill="#666" stroke="#333" stroke-width="1.3" stroke-linejoin="round" />
<line x1="273.3" y1="718.8" x2="269.8" y2="712.5" stroke="#333" stroke-width="0.7"/>
<line x1="274.9" y1="717.9" x2="271.4" y2="711.6" stroke="#333" stroke-width="0.7"/>
<ellipse cx="270" cy="716.5" rx="2.1" ry="3.6" fill="#e8e8e8" stroke="#333" stroke-width="1.3" transform="rotate(-29.1 270 716.5)"/>
<ellipse cx="270" cy="716.5" rx="0.9" ry="1.6" fill="#aaa" stroke="#555" stroke-width="0.7" transform="rotate(-29.1 270 716.5)"/>
<path d="M430.6 737.9 Q428.4 734.2 431.4 730.6 L432 729.8 Q435 726.1 439.1 725.6 L440.2 725.5 Q444.1 725 447.1 727 L448.2 727.7 Q450.7 729.4 453.2 727.7 L454.7 726.7 Q457.2 725 460.1 724.4 L477.3 720.3 Q481.2 719.4 483.8 721.9 L484.3 722.5 Q486.9 725 486.4 729 L485 741.7 Q484.7 744.7 486.5 747.1 L492.5 755.3 Q494.3 757.7 496.9 756.3 L498.2 755.7 Q500.8 754.3 503.8 754.3 L526.8 754.3 Q531.8 754.3 534.5 758.4 L535.6 760.1 Q538.3 764.3 539 769.2 L539.8 774.6 Q540.5 779.6 539.9 784.5 L539.1 791.5 Q538.3 797.4 534.1 801.7 L526.6 809.2 Q523.1 812.7 518.6 814.9 L504.8 821.8 Q501.3 823.6 501.3 827.6 L501.3 830.5 Q501.3 834.5 498.8 837.6 L495.7 841.5 Q492.5 845.4 487.7 846.7 L482.6 848.2 Q476.8 849.8 473 845.2 L469.1 840.5 Q465.9 836.7 462.4 833.2 L455.7 826.4 Q452.9 823.6 450 820.8 L438.2 809 Q435.4 806.2 432.1 804 L425.3 799.6 Q421.9 797.4 421.9 794.3 L421.9 793.6 Q421.9 790.5 425 789.5 L426 789.2 Q428.9 788.3 428.9 785.3 L428.9 771.7 Q428.9 768.7 426.7 766.7 L426.2 766.3 Q424.1 764.3 427.3 762 L430.8 759.5 Q433.2 757.7 433.2 754.7 L433.2 745.5 Q433.2 742.5 431.7 739.9 Z" fill="#d0d0d0" stroke="#444" stroke-width="1.4" stroke-linejoin="round" stroke-linecap="round" />
<path d="M454.5 734 Q451.8 732.7 454.1 730.8 L456 729.1 Q458.3 727.2 461.2 726.6 L477.2 723.1 Q480.1 722.4 481.6 724.6 L481.9 725.1 Q483.4 727.2 483.2 730.2 L482.5 739.5 Q482.3 742.5 479.3 742.5 L475.5 742.5 Q472.5 742.5 469.8 741.2 Z" fill="#dcdcdc" stroke="#444" stroke-width="1.3" stroke-linejoin="round" stroke-linecap="round" />
<path d="M497.7 763 Q495.4 761 497.9 759.4 L499.4 758.3 Q501.9 756.7 504.9 756.7 L527.3 756.7 Q530.3 756.7 531.7 759.3 L532.5 760.6 Q534 763.2 531.5 764.9 L525.1 769.2 Q522.6 770.8 519.7 771.3 L512.5 772.5 Q509.6 773 507.3 771.1 Z" fill="#dcdcdc" stroke="#444" stroke-width="1.3" stroke-linejoin="round" stroke-linecap="round" />
<ellipse cx="464.9" cy="735.3" rx="3.4" ry="2.6" fill="#888" stroke="#333" stroke-width="1.1"/>
<ellipse cx="506.3" cy="764.7" rx="3.4" ry="2.6" fill="#888" stroke="#333" stroke-width="1.1"/>
<path d="M433.6 735.4 Q432.1 730.5 435.6 729.5 L436.3 729.3 Q439.8 728.3 444.7 731.7 L509 776.1 Q513.9 779.6 513.9 784.5 L513.9 785.6 Q513.9 790.5 509 791.4 L507.9 791.7 Q503 792.6 500.1 787.7 L498.5 785.2 Q496.5 781.7 493.1 779.5 L440.4 744.7 Q435.4 741.4 433.9 736.5 Z" fill="#d8d8d8" stroke="#333" stroke-width="1.4" stroke-linejoin="round" stroke-linecap="round" />
<line x1="444.1" y1="733.8" x2="500.8" y2="776.3" stroke="#555" stroke-width="1.1"/>
<ellipse cx="435" cy="735.9" rx="4.2" ry="5" fill="#9a9a9a" stroke="#333" stroke-width="1.3"/>
<ellipse cx="435" cy="735.9" rx="2" ry="2.5" fill="#555" stroke="#333" stroke-width="0.7"/>
<ellipse cx="500.8" cy="785" rx="4.2" ry="5" fill="#9a9a9a" stroke="#333" stroke-width="1.3"/>
<ellipse cx="500.8" cy="785" rx="2" ry="2.5" fill="#555" stroke="#333" stroke-width="0.7"/>
<ellipse cx="445.2" cy="738.1" rx="3.2" ry="4" fill="#8a8a8a" stroke="#333" stroke-width="1.1"/>
<ellipse cx="474.7" cy="786.5" rx="14.5" ry="18" fill="#c2c2c2" stroke="#333" stroke-width="1.4" transform="rotate(-15 474.7 786.5)"/>
<ellipse cx="474.2" cy="787.4" rx="9.5" ry="13" fill="#fff" stroke="#333" stroke-width="1.4" transform="rotate(-15 474.2 787.4)"/>
<path d="M433.2 762.1 L443.4 759.6 Q446.3 758.8 449.1 757.8 L458.8 754.4 Q461.6 753.4 463.4 755.8 L468.1 762.1" fill="none" stroke="#444" stroke-width="1.3" stroke-linejoin="round" stroke-linecap="round" />
<path d="M433.2 770.8 L435.1 787.5 Q435.4 790.5 438.3 789.6 L457.2 783.9" fill="none" stroke="#444" stroke-width="1.3" stroke-linejoin="round" stroke-linecap="round" />
<path d="M448.5 762.1 L449.1 766.9 Q449.6 770.8 453 771.8 L453.8 772 Q457.2 773 460.2 769.1 L463.8 764.3" fill="none" stroke="#444" stroke-width="1.3" stroke-linejoin="round" stroke-linecap="round" />
<path d="M435.4 805.7 L454.4 798.1 Q457.2 797 459.9 798.3 L465.9 801.4" fill="none" stroke="#444" stroke-width="1.3" stroke-linejoin="round" stroke-linecap="round" />
<path d="M428.9 792.6 L457.2 790.5" fill="none" stroke="#555" stroke-width="1.1" stroke-linejoin="round" stroke-linecap="round" />
<ellipse cx="426.3" cy="797.4" rx="3" ry="3.6" fill="#555" stroke="#222" stroke-width="1.1"/>
<ellipse cx="459.8" cy="786.5" rx="2.4" ry="3" fill="#555" stroke="#222" stroke-width="1"/>
<path d="M492.1 797 L493.9 811.5 Q494.3 814.4 492.2 816.6 L489.9 818.9 Q487.7 821 486.9 818.1 L483.4 805.7" fill="none" stroke="#444" stroke-width="1.3" stroke-linejoin="round" stroke-linecap="round" />
<path d="M494.3 805.7 L519.6 807.7 Q522.6 807.9 524.3 805.4 L527 801.4" fill="none" stroke="#444" stroke-width="1.3" stroke-linejoin="round" stroke-linecap="round" />
<path d="M522.6 770.8 L527.1 778.3 Q529.2 781.7 532.1 782.7 L532.8 782.9 Q535.7 783.9 536.7 787.8 L537.9 792.6" fill="none" stroke="#444" stroke-width="1.3" stroke-linejoin="round" stroke-linecap="round" />
<line x1="496.5" y1="792.6" x2="535.7" y2="779.6" stroke="#444" stroke-width="1.1"/>
<ellipse cx="525.3" cy="802.5" rx="2.8" ry="4.5" fill="#bbb" stroke="#333" stroke-width="1.1"/>
<path d="M473.7 840.1 Q472.5 836.2 475.6 833.8 L480.3 830 Q483.4 827.5 487.4 827.2 L494.7 826.7 Q498.7 826.4 499.8 830.1 L500.1 830.9 Q501.3 834.5 498.8 837.6 L495.7 841.5 Q492.5 845.4 487.7 846.7 L482.6 848.2 Q476.8 849.8 475 844.1 Z" fill="#c2c2c2" stroke="#444" stroke-width="1.3" stroke-linejoin="round" stroke-linecap="round" />
<ellipse cx="476.4" cy="842.8" rx="3.4" ry="4" fill="#888" stroke="#222" stroke-width="1.3"/>
<line x1="482.3" y1="836.2" x2="483.4" y2="843.9" stroke="#333" stroke-width="1.4"/>
<line x1="485.4" y1="835.4" x2="486.4" y2="842.6" stroke="#333" stroke-width="1.4"/>
<line x1="488.4" y1="834.5" x2="489.5" y2="841.3" stroke="#333" stroke-width="1.4"/>
<line x1="491.5" y1="833.6" x2="492.5" y2="840" stroke="#333" stroke-width="1.4"/>
<ellipse cx="483.4" cy="726.1" rx="2.6" ry="4.6" fill="#bbb" stroke="#333" stroke-width="1.1"/>
<path d="M542.3 693.2 Q542.7 691.2 544.6 690.7 L550.2 689 Q552.1 688.4 552.4 690.4 L553.3 695.2 Q553.6 697.1 553.1 699.1 L552.2 702.5 Q551.4 705.4 551.7 708.4 L552.4 715.5 Q552.7 718.5 553.7 721.3 L556.7 730 Q558 733.8 560.9 736.5 L564.4 739.8 Q567.3 742.5 570.6 744.8 L575.5 748.3 Q578 750 579.9 752.3 L580.7 753.3 Q582.6 755.6 585.1 754.6 L585.6 754.4 Q588.1 753.4 589.9 755.8 L592.8 759.7 Q594.6 762.1 596.1 764.7 L597 766.1 Q598.5 768.7 595.8 769.1 L595.2 769.3 Q592.4 769.7 590.8 767.2 L589.7 765.7 Q588.1 763.2 585.1 762.8 L582.3 762.5 Q579.3 762.1 576.5 761.2 L575.6 760.9 Q572.8 759.9 571.2 757.4 L568.9 753.8 Q567.3 751.2 564.8 749.6 L557.9 745.2 Q555.3 743.6 553.6 741.1 L551.6 738.4 Q549.9 735.9 549.4 733 L547.1 719.3 Q546.6 716.3 545.1 713.7 L541.6 708 Q540.1 705.4 540.6 702.5 Z" fill="#e0e0e0" stroke="#444" stroke-width="1.3" stroke-linejoin="round" stroke-linecap="round" />
<path d="M587.4 713.9 Q587 712 588.4 712.9 L588.8 713.2 Q590.2 714.1 591.1 715.9 L593.3 720.2 Q594.6 722.9 596.9 724.8 L600 727.5 Q602.2 729.4 603.4 732.2 L606.5 739.7 Q607.7 742.5 607.1 745.4 L606.1 750.4 Q605.5 753.4 603 755.1 L601.5 756.1 Q599 757.7 597.7 760.5 L595.8 764.8 Q594.6 767.6 592.6 766.1 L592.2 765.8 Q590.2 764.3 591.3 761.5 L593.5 756.2 Q594.6 753.4 595.2 750.4 L596.2 745.4 Q596.8 742.5 595.4 739.8 L592.7 734.3 Q591.3 731.6 590.6 728.7 L589.9 725.8 Q589.1 722.9 588.6 719.9 Z" fill="#e0e0e0" stroke="#444" stroke-width="1.3" stroke-linejoin="round" stroke-linecap="round" />
<ellipse cx="547.7" cy="698.4" rx="1.6" ry="2" fill="#fff" stroke="#444" stroke-width="1"/>
<ellipse cx="547.1" cy="712" rx="1.6" ry="2" fill="#fff" stroke="#444" stroke-width="1"/>
<ellipse cx="555.8" cy="737" rx="1.6" ry="2" fill="#fff" stroke="#444" stroke-width="1"/>
<ellipse cx="596.8" cy="726.8" rx="1.6" ry="2" fill="#fff" stroke="#444" stroke-width="1"/>
<ellipse cx="602.9" cy="751.2" rx="1.6" ry="2" fill="#fff" stroke="#444" stroke-width="1"/>
<ellipse cx="592.9" cy="766" rx="1.6" ry="2" fill="#fff" stroke="#444" stroke-width="1"/>
<ellipse cx="404.9" cy="829.7" rx="10.5" ry="13" fill="#c2c2c2" stroke="#333" stroke-width="1.6" transform="rotate(-28 404.9 829.7)"/>
<ellipse cx="405.7" cy="829.7" rx="7.8" ry="10.2" fill="#a2a2a2" stroke="#444" stroke-width="1.1" transform="rotate(-28 405.7 829.7)"/>
<ellipse cx="406.3" cy="830" rx="5" ry="7.2" fill="#f0f0f0" stroke="#333" stroke-width="1.3" transform="rotate(-28 406.3 830)"/>
<ellipse cx="626.2" cy="705.5" rx="13.5" ry="16.5" fill="#8c8c8c" stroke="#333" stroke-width="1.6" transform="rotate(-25 626.2 705.5)"/>
<ellipse cx="626.2" cy="705.5" rx="11.5" ry="14.5" fill="#3e3e3e" stroke="#333" stroke-width="0.9" transform="rotate(-25 626.2 705.5)"/>
<ellipse cx="626.7" cy="705.5" rx="8.5" ry="11" fill="#9a9a9a" stroke="#333" stroke-width="1.1" transform="rotate(-25 626.7 705.5)"/>
<ellipse cx="627.2" cy="705.5" rx="5.5" ry="7.5" fill="#f4f4f4" stroke="#333" stroke-width="1.3" transform="rotate(-25 627.2 705.5)"/>
<path d="M1040 617.2 Q1037.9 611.6 1041.2 606.8 L1041.9 605.8 Q1045.3 601.1 1050.9 598.9 L1058.4 596.1 Q1062.1 594.7 1065.8 593.3 L1069.8 591.6 Q1072.6 590.5 1075.3 589.2 L1108.2 572.8 Q1112.6 570.5 1117.4 568.9 L1119.6 568.2 Q1125.3 566.3 1130.9 567.7 L1132.2 568.1 Q1137.9 569.5 1144.6 573.9 L1150.2 577.7 Q1156.8 582.1 1158.7 587.8 L1159.2 589.1 Q1161.1 594.7 1161.8 600.7 L1162.7 607.6 Q1163.2 611.6 1166.5 613.7 L1227.1 651.6 Q1230.5 653.7 1234.3 652.5 L1239.8 650.8 Q1247.4 648.4 1254 650.8 L1255.5 651.3 Q1262.1 653.7 1268.3 661.3 L1269.6 662.9 Q1275.8 670.5 1276.3 676.2 L1276.4 677.5 Q1276.8 683.2 1270.4 693.3 L1267.5 697.9 Q1262.1 706.3 1255 713.4 L1250.2 718.2 Q1243.2 725.3 1235.6 730.5 L1233.9 731.6 Q1226.3 736.8 1216.8 736.4 L1214.7 736.3 Q1205.3 735.8 1198.6 732 L1197.2 731.2 Q1190.5 727.4 1194.3 723.6 L1196.8 721.1 Q1198.9 718.9 1196 718.2 L1171.2 711.6 Q1167.4 710.5 1164.2 708 L1118.6 671.5 Q1114.7 668.4 1110.5 665.7 L1095.8 656.4 Q1091.6 653.7 1087.7 656.8 L1085.7 658.4 Q1081.1 662.1 1075.1 661.4 L1070.6 660.9 Q1062.1 660 1056.7 651.6 L1052.7 645.3 Q1047.4 636.8 1043.9 627.5 Z" fill="#dedede" stroke="#444" stroke-width="1.4" stroke-linejoin="round" stroke-linecap="round" />
<path d="M1074.8 592.6 Q1072.6 590.5 1075.3 589.2 L1108.2 572.8 Q1112.6 570.5 1117.4 568.9 L1119.6 568.2 Q1125.3 566.3 1130.9 567.7 L1132.2 568.1 Q1137.9 569.5 1144.6 573.9 L1150.2 577.7 Q1156.8 582.1 1157.3 584.5 L1157.4 585 Q1157.9 587.4 1154.3 589.1 L1108.7 611.5 Q1104.2 613.7 1099.6 611.7 L1093.2 608.9 Q1089.5 607.4 1086.6 604.5 Z" fill="#e8e8e8" stroke="#555" stroke-width="1.1" stroke-linejoin="round" stroke-linecap="round" />
<path d="M1104.2 613.7 L1101 633 Q1100 638.9 1097 644.2 L1091.6 653.7" fill="none" stroke="#555" stroke-width="1.1" stroke-linejoin="round" stroke-linecap="round" />
<path d="M1147.4 596.8 L1147.9 604.9 Q1148.4 611.6 1153.7 617.6 L1159.2 623.9 Q1163.2 628.4 1168.3 631.6 L1217.9 662.1" fill="none" stroke="#444" stroke-width="1.3" stroke-linejoin="round" stroke-linecap="round" />
<path d="M1157.9 587.4 L1159.5 605.6 Q1160 611.6 1163.3 614.4 L1164.3 615.3 Q1167.4 617.9 1170.8 619.9 L1230.5 653.7" fill="none" stroke="#555" stroke-width="1.1" stroke-linejoin="round" stroke-linecap="round" />
<line x1="1123.2" y1="628.4" x2="1143.2" y2="616.8" stroke="#555" stroke-width="2"/>
<path d="M1100 641.1 L1121.6 644.1 Q1129.5 645.3 1134.5 651.5 L1140.1 658.5 Q1146.3 666.3 1155.8 669.5 L1164 672.2 Q1171.6 674.7 1178 679.5 L1182 682.6 Q1188.4 687.4 1190.3 693.1 L1190.7 694.3 Q1192.6 700 1195.2 707.6 L1198.9 718.9" fill="none" stroke="#444" stroke-width="1.3" stroke-linejoin="round" stroke-linecap="round" />
<path d="M1091.6 653.7 L1111 656.7 Q1118.9 657.9 1124.3 663.8 L1131.2 671.5 Q1137.9 678.9 1147.5 681.9 L1157.6 685 Q1165.3 687.4 1171.7 692.2 L1175.7 695.2 Q1182.1 700 1184.9 704.7 L1188.4 710.5" fill="none" stroke="#555" stroke-width="1.1" stroke-linejoin="round" stroke-linecap="round" />
<path d="M1197.2 695.4 Q1195.8 691.6 1199.7 688.4 L1239.6 655.8 Q1247.4 649.5 1254 651.8 L1255.5 652.4 Q1262.1 654.7 1268 662 L1269.3 663.7 Q1275.2 670.9 1275.5 676.3 L1275.6 677.4 Q1276 682.7 1269.6 692.9 L1267 697 Q1261.7 705.5 1254.5 712.5 L1250.3 716.6 Q1243.2 723.6 1236.5 726.2 L1235.1 726.8 Q1228.4 729.5 1222.7 725.7 L1221.5 724.8 Q1215.8 721.1 1209.5 713.2 L1203.9 706.2 Q1198.9 700 1197.5 696.2 Z" fill="#e2e2e2" stroke="#444" stroke-width="1.3" stroke-linejoin="round" stroke-linecap="round" />
<path d="M1192.6 687.4 L1232.6 654.7" fill="none" stroke="#444" stroke-width="1.3" stroke-linejoin="round" stroke-linecap="round" />
<ellipse cx="1054.7" cy="609.5" rx="16.5" ry="11" fill="#cfcfcf" stroke="#444" stroke-width="1.4" transform="rotate(-22 1054.7 609.5)"/>
<ellipse cx="1053.7" cy="606.9" rx="13" ry="8.5" fill="#e2e2e2" stroke="#444" stroke-width="1.3" transform="rotate(-22 1053.7 606.9)"/>
<path d="M1052.3 618.7 Q1051.6 615.8 1054.4 614.7 L1059.3 612.7 Q1062.1 611.6 1065.1 612.1 L1071.8 613.2 Q1074.7 613.7 1075.1 616.7 L1075.5 620.2 Q1075.8 623.2 1073.1 624.4 L1066.9 627.2 Q1064.2 628.4 1061.4 627.3 L1056.5 625.3 Q1053.7 624.2 1053 621.3 Z" fill="#d2d2d2" stroke="#444" stroke-width="1.3" stroke-linejoin="round" stroke-linecap="round" />
<path d="M1062.1 611.6 L1064.2 628.4" fill="none" stroke="#444" stroke-width="1.1" stroke-linejoin="round" stroke-linecap="round" />
<path d="M1043.2 624.2 L1051.3 628.8 Q1057.9 632.6 1065.7 630.9 L1069 630.2 Q1076.8 628.4 1082.5 623.7 L1089.5 617.9" fill="none" stroke="#444" stroke-width="1.3" stroke-linejoin="round" stroke-linecap="round" />
<path d="M1045.3 630.5 L1053.4 635.7 Q1060 640 1067.8 638.1 L1073.3 636.7 Q1081.1 634.7 1086.3 630 L1092.6 624.2" fill="none" stroke="#555" stroke-width="1.1" stroke-linejoin="round" stroke-linecap="round" />
<path d="M1070.5 592.6 L1075.5 604 Q1077.9 609.5 1083 612.6 L1086.5 614.8 Q1091.6 617.9 1095.4 616.9 L1100 615.8" fill="none" stroke="#444" stroke-width="1.3" stroke-linejoin="round" stroke-linecap="round" />
<ellipse cx="1096.8" cy="599.4" rx="9.5" ry="4.2" fill="#d0d0d0" stroke="#444" stroke-width="1.1"/>
<path d="M1090.1 563.1 Q1090.1 562.1 1091.1 562.1 L1094.2 562.1 Q1095.2 562.1 1095.2 563.1 L1095.2 597.9 Q1095.2 598.9 1094.2 598.9 L1091.1 598.9 Q1090.1 598.9 1090.1 597.9 Z" fill="#cfcfcf" stroke="#444" stroke-width="1.1" stroke-linejoin="round" stroke-linecap="round" />
<ellipse cx="1092.6" cy="562.1" rx="2.6" ry="1.5" fill="#999" stroke="#444" stroke-width="1"/>
<path d="M1098.5 563.1 Q1098.5 562.1 1099.5 562.1 L1102.6 562.1 Q1103.6 562.1 1103.6 563.1 L1103.6 597.9 Q1103.6 598.9 1102.6 598.9 L1099.5 598.9 Q1098.5 598.9 1098.5 597.9 Z" fill="#cfcfcf" stroke="#444" stroke-width="1.1" stroke-linejoin="round" stroke-linecap="round" />
<ellipse cx="1101.1" cy="562.1" rx="2.6" ry="1.5" fill="#999" stroke="#444" stroke-width="1"/>
<ellipse cx="1175.4" cy="620.4" rx="5.5" ry="3.8" fill="#c8c8c8" stroke="#444" stroke-width="1.3"/>
<ellipse cx="1175.4" cy="620.4" rx="3.2" ry="2.1" fill="#aaa" stroke="#555" stroke-width="1"/>
<ellipse cx="1220.4" cy="649.9" rx="5.5" ry="3.8" fill="#c8c8c8" stroke="#444" stroke-width="1.3"/>
<ellipse cx="1220.4" cy="649.9" rx="3.2" ry="2.1" fill="#aaa" stroke="#555" stroke-width="1"/>
<ellipse cx="1118.5" cy="658.9" rx="5.5" ry="3.8" fill="#c8c8c8" stroke="#444" stroke-width="1.3"/>
<ellipse cx="1118.5" cy="658.9" rx="3.2" ry="2.1" fill="#aaa" stroke="#555" stroke-width="1"/>
<ellipse cx="1163.6" cy="696.2" rx="5.5" ry="3.8" fill="#c8c8c8" stroke="#444" stroke-width="1.3"/>
<ellipse cx="1163.6" cy="696.2" rx="3.2" ry="2.1" fill="#aaa" stroke="#555" stroke-width="1"/>
<path d="M1112.7 776.7 Q1109.9 774.3 1112.7 770.9 L1113.3 770.1 Q1116.2 766.7 1119.4 767.7 L1120.5 768 Q1123.4 768.9 1123.4 765.9 L1123.4 762.9 Q1123.4 758.9 1126.9 757 L1135.3 752.3 Q1139.7 749.9 1144.3 751.7 L1155 756.1 Q1159.6 758 1163.1 754.5 L1165.1 752.5 Q1168.7 748.9 1169.5 744.1 L1169.7 743 Q1170.5 738.1 1173.7 736.5 L1174.4 736.1 Q1177.7 734.5 1180.6 736.9 L1181.2 737.5 Q1184 739.9 1181.6 743.2 L1181 743.9 Q1178.6 747.1 1177.5 752 L1175.2 762.2 Q1174.1 767 1177.8 770.4 L1191.4 782.9 Q1195.8 786.9 1200.7 786.9 L1201.8 786.9 Q1206.7 786.9 1209.6 781.7 L1211.4 778.6 Q1213.9 774.3 1215.5 771 L1215.9 770.3 Q1217.5 767 1220.8 766.6 L1221.5 766.5 Q1224.7 766.1 1227.2 769 L1227.7 769.6 Q1230.2 772.5 1226.9 775.7 L1226.2 776.5 Q1222.9 779.7 1221.3 784.4 L1218.3 793.1 Q1216.6 797.8 1219.2 802.1 L1224.5 810.7 Q1226.6 814.1 1225.7 816.5 L1225.6 817.1 Q1224.7 819.5 1221.2 821.4 L1209.2 828 Q1204.8 830.4 1200.8 828.7 L1199.5 828.2 Q1195.8 826.7 1192.1 825.2 L1186.8 822.9 Q1183.1 821.3 1179.1 821.7 L1177.1 821.9 Q1174.1 822.2 1172.5 820.2 L1172.1 819.7 Q1170.5 817.7 1168 819.3 L1167.5 819.7 Q1165 821.3 1161.8 818.9 L1161.1 818.3 Q1157.8 815.9 1159.4 813.5 L1159.8 812.9 Q1161.4 810.5 1164.7 810.1 L1165.4 810 Q1168.7 809.6 1166.1 806.5 L1155.6 794.4 Q1152.4 790.6 1147.5 789.6 L1139.2 787.9 Q1134.3 786.9 1131 783.7 L1129.9 782.5 Q1127 779.7 1123 779.7 L1121.1 779.7 Q1116.2 779.7 1113.3 777.3 Z" fill="#d6d6d6" stroke="#444" stroke-width="1.4" stroke-linejoin="round" stroke-linecap="round" />
<path d="M1132.1 777.9 Q1128.9 774.3 1128.9 769.3 L1128.9 766.5 Q1128.9 762.5 1132.2 760.3 L1135.5 758.1 Q1139.7 755.3 1144.3 757.4 L1155.1 762.3 Q1159.6 764.3 1163.6 761.3 L1166.5 759.2 Q1170.5 756.2 1170.5 761.2 L1170.5 764.8 Q1170.5 769.8 1174.1 773.1 L1189.6 787.4 Q1194 791.5 1200 791.5 L1202.5 791.5 Q1208.5 791.5 1211.5 786.3 L1214 782.2 Q1216.6 777.9 1215.9 782.9 L1214.6 792.8 Q1213.9 797.8 1215.9 802.4 L1219.5 810.4 Q1221.1 814.1 1217.8 816.3 L1209 822.2 Q1204.8 824.9 1200.2 823.1 L1185.1 817.3 Q1181.3 815.9 1178.8 812.8 L1176.6 810 Q1174.1 806.8 1171.5 803.8 L1159.3 789.8 Q1156 786 1151.1 785.1 L1141 783.3 Q1136.1 782.4 1132.8 778.8 Z" fill="#e2e2e2" stroke="#555" stroke-width="1.1" stroke-linejoin="round" stroke-linecap="round" />
<line x1="1141.5" y1="764.3" x2="1154.2" y2="774.3" stroke="#444" stroke-width="4.6" stroke-linecap="round"/>
<line x1="1141.5" y1="764.3" x2="1154.2" y2="774.3" stroke="#fff" stroke-width="2.8" stroke-linecap="round"/>
<line x1="1165.9" y1="784.2" x2="1178.6" y2="794.2" stroke="#444" stroke-width="4.6" stroke-linecap="round"/>
<line x1="1165.9" y1="784.2" x2="1178.6" y2="794.2" stroke="#fff" stroke-width="2.8" stroke-linecap="round"/>
<line x1="1189.5" y1="804.1" x2="1202.1" y2="814.1" stroke="#444" stroke-width="4.6" stroke-linecap="round"/>
<line x1="1189.5" y1="804.1" x2="1202.1" y2="814.1" stroke="#fff" stroke-width="2.8" stroke-linecap="round"/>
<ellipse cx="1118.4" cy="773.9" rx="2.4" ry="2.2" fill="#fff" stroke="#333" stroke-width="1.3"/>
<ellipse cx="1177.3" cy="738.6" rx="2.4" ry="2.2" fill="#fff" stroke="#333" stroke-width="1.3"/>
<ellipse cx="1222.9" cy="771" rx="2.4" ry="2.2" fill="#fff" stroke="#333" stroke-width="1.3"/>
<ellipse cx="1165" cy="815" rx="2.4" ry="2.2" fill="#fff" stroke="#333" stroke-width="1.3"/>
<path d="M1120.8 857.5 L1120.8 843.5 L1116.2 843.5 L1116.2 857.5 Z" fill="#8a8a8a" stroke="#4a4a4a" stroke-width="1.1" stroke-linejoin="round" />
<line x1="1120.8" y1="855.8" x2="1116.2" y2="855" stroke="#555" stroke-width="0.6"/>
<line x1="1120.8" y1="854" x2="1116.2" y2="853.2" stroke="#555" stroke-width="0.6"/>
<line x1="1120.8" y1="852.2" x2="1116.2" y2="851.5" stroke="#555" stroke-width="0.6"/>
<line x1="1120.8" y1="850.5" x2="1116.2" y2="849.7" stroke="#555" stroke-width="0.6"/>
<line x1="1120.8" y1="848.8" x2="1116.2" y2="848" stroke="#555" stroke-width="0.6"/>
<line x1="1120.8" y1="847" x2="1116.2" y2="846.2" stroke="#555" stroke-width="0.6"/>
<line x1="1120.8" y1="845.2" x2="1116.2" y2="844.5" stroke="#555" stroke-width="0.6"/>
<path d="M1122.6 864.5 L1122.6 857.5 L1114.4 857.5 L1114.4 864.5 Z" fill="#666" stroke="#333" stroke-width="1.3" stroke-linejoin="round" />
<line x1="1122.6" y1="862.4" x2="1114.4" y2="862.4" stroke="#333" stroke-width="0.7"/>
<line x1="1122.6" y1="860.3" x2="1114.4" y2="860.3" stroke="#333" stroke-width="0.7"/>
<ellipse cx="1118.5" cy="864.5" rx="2.5" ry="4.1" fill="#e8e8e8" stroke="#333" stroke-width="1.3" transform="rotate(-90 1118.5 864.5)"/>
<ellipse cx="1118.5" cy="864.5" rx="1.1" ry="1.9" fill="#aaa" stroke="#555" stroke-width="0.7" transform="rotate(-90 1118.5 864.5)"/>
<path d="M1179.1 842 L1179.1 828 L1174.5 828 L1174.5 842 Z" fill="#8a8a8a" stroke="#4a4a4a" stroke-width="1.1" stroke-linejoin="round" />
<line x1="1179.1" y1="840.2" x2="1174.5" y2="839.5" stroke="#555" stroke-width="0.6"/>
<line x1="1179.1" y1="838.5" x2="1174.5" y2="837.7" stroke="#555" stroke-width="0.6"/>
<line x1="1179.1" y1="836.8" x2="1174.5" y2="836" stroke="#555" stroke-width="0.6"/>
<line x1="1179.1" y1="835" x2="1174.5" y2="834.2" stroke="#555" stroke-width="0.6"/>
<line x1="1179.1" y1="833.2" x2="1174.5" y2="832.5" stroke="#555" stroke-width="0.6"/>
<line x1="1179.1" y1="831.5" x2="1174.5" y2="830.7" stroke="#555" stroke-width="0.6"/>
<line x1="1179.1" y1="829.8" x2="1174.5" y2="829" stroke="#555" stroke-width="0.6"/>
<path d="M1180.9 849 L1180.9 842 L1172.7 842 L1172.7 849 Z" fill="#666" stroke="#333" stroke-width="1.3" stroke-linejoin="round" />
<line x1="1180.9" y1="846.9" x2="1172.7" y2="846.9" stroke="#333" stroke-width="0.7"/>
<line x1="1180.9" y1="844.8" x2="1172.7" y2="844.8" stroke="#333" stroke-width="0.7"/>
<ellipse cx="1176.8" cy="849" rx="2.5" ry="4.1" fill="#e8e8e8" stroke="#333" stroke-width="1.3" transform="rotate(-90 1176.8 849)"/>
<ellipse cx="1176.8" cy="849" rx="1.1" ry="1.9" fill="#aaa" stroke="#555" stroke-width="0.7" transform="rotate(-90 1176.8 849)"/>
<path d="M1166.4 885 L1166.4 871 L1161.8 871 L1161.8 885 Z" fill="#8a8a8a" stroke="#4a4a4a" stroke-width="1.1" stroke-linejoin="round" />
<line x1="1166.4" y1="883.2" x2="1161.8" y2="882.5" stroke="#555" stroke-width="0.6"/>
<line x1="1166.4" y1="881.5" x2="1161.8" y2="880.7" stroke="#555" stroke-width="0.6"/>
<line x1="1166.4" y1="879.8" x2="1161.8" y2="879" stroke="#555" stroke-width="0.6"/>
<line x1="1166.4" y1="878" x2="1161.8" y2="877.2" stroke="#555" stroke-width="0.6"/>
<line x1="1166.4" y1="876.2" x2="1161.8" y2="875.5" stroke="#555" stroke-width="0.6"/>
<line x1="1166.4" y1="874.5" x2="1161.8" y2="873.7" stroke="#555" stroke-width="0.6"/>
<line x1="1166.4" y1="872.8" x2="1161.8" y2="872" stroke="#555" stroke-width="0.6"/>
<path d="M1168.2 892 L1168.2 885 L1160 885 L1160 892 Z" fill="#666" stroke="#333" stroke-width="1.3" stroke-linejoin="round" />
<line x1="1168.2" y1="889.9" x2="1160" y2="889.9" stroke="#333" stroke-width="0.7"/>
<line x1="1168.2" y1="887.8" x2="1160" y2="887.8" stroke="#333" stroke-width="0.7"/>
<ellipse cx="1164.1" cy="892" rx="2.5" ry="4.1" fill="#e8e8e8" stroke="#333" stroke-width="1.3" transform="rotate(-90 1164.1 892)"/>
<ellipse cx="1164.1" cy="892" rx="1.1" ry="1.9" fill="#aaa" stroke="#555" stroke-width="0.7" transform="rotate(-90 1164.1 892)"/>
<path d="M1225.2 870.5 L1225.2 856.5 L1220.6 856.5 L1220.6 870.5 Z" fill="#8a8a8a" stroke="#4a4a4a" stroke-width="1.1" stroke-linejoin="round" />
<line x1="1225.2" y1="868.8" x2="1220.6" y2="868" stroke="#555" stroke-width="0.6"/>
<line x1="1225.2" y1="867" x2="1220.6" y2="866.2" stroke="#555" stroke-width="0.6"/>
<line x1="1225.2" y1="865.2" x2="1220.6" y2="864.5" stroke="#555" stroke-width="0.6"/>
<line x1="1225.2" y1="863.5" x2="1220.6" y2="862.7" stroke="#555" stroke-width="0.6"/>
<line x1="1225.2" y1="861.8" x2="1220.6" y2="861" stroke="#555" stroke-width="0.6"/>
<line x1="1225.2" y1="860" x2="1220.6" y2="859.2" stroke="#555" stroke-width="0.6"/>
<line x1="1225.2" y1="858.2" x2="1220.6" y2="857.5" stroke="#555" stroke-width="0.6"/>
<path d="M1227 877.5 L1227 870.5 L1218.8 870.5 L1218.8 877.5 Z" fill="#666" stroke="#333" stroke-width="1.3" stroke-linejoin="round" />
<line x1="1227" y1="875.4" x2="1218.8" y2="875.4" stroke="#333" stroke-width="0.7"/>
<line x1="1227" y1="873.3" x2="1218.8" y2="873.3" stroke="#333" stroke-width="0.7"/>
<ellipse cx="1222.9" cy="877.5" rx="2.5" ry="4.1" fill="#e8e8e8" stroke="#333" stroke-width="1.3" transform="rotate(-90 1222.9 877.5)"/>
<ellipse cx="1222.9" cy="877.5" rx="1.1" ry="1.9" fill="#aaa" stroke="#555" stroke-width="0.7" transform="rotate(-90 1222.9 877.5)"/>
<line x1="1118.5" y1="612" x2="1118.5" y2="657" stroke="#a8a8a8" stroke-width="0.9"/>
<line x1="1165.3" y1="652" x2="1165.3" y2="697" stroke="#a8a8a8" stroke-width="0.9"/>
<line x1="1174.7" y1="593" x2="1174.7" y2="620" stroke="#a8a8a8" stroke-width="0.9"/>
<line x1="1223.2" y1="613" x2="1223.2" y2="650" stroke="#a8a8a8" stroke-width="0.9"/>
<line x1="1118.5" y1="657" x2="1118.5" y2="845" stroke="#a8a8a8" stroke-width="0.9"/>
<line x1="1165.3" y1="697" x2="1165.3" y2="872" stroke="#a8a8a8" stroke-width="0.9"/>
<line x1="1176.8" y1="745" x2="1176.8" y2="829" stroke="#a8a8a8" stroke-width="0.9"/>
<line x1="1223.2" y1="737" x2="1223.2" y2="857" stroke="#a8a8a8" stroke-width="0.9"/>
<path d="M1120.8 857.5 L1120.8 843.5 L1116.2 843.5 L1116.2 857.5 Z" fill="#8a8a8a" stroke="#4a4a4a" stroke-width="1.1" stroke-linejoin="round" />
<line x1="1120.8" y1="855.8" x2="1116.2" y2="855" stroke="#555" stroke-width="0.6"/>
<line x1="1120.8" y1="854" x2="1116.2" y2="853.2" stroke="#555" stroke-width="0.6"/>
<line x1="1120.8" y1="852.2" x2="1116.2" y2="851.5" stroke="#555" stroke-width="0.6"/>
<line x1="1120.8" y1="850.5" x2="1116.2" y2="849.7" stroke="#555" stroke-width="0.6"/>
<line x1="1120.8" y1="848.8" x2="1116.2" y2="848" stroke="#555" stroke-width="0.6"/>
<line x1="1120.8" y1="847" x2="1116.2" y2="846.2" stroke="#555" stroke-width="0.6"/>
<line x1="1120.8" y1="845.2" x2="1116.2" y2="844.5" stroke="#555" stroke-width="0.6"/>
<path d="M1122.6 864.5 L1122.6 857.5 L1114.4 857.5 L1114.4 864.5 Z" fill="#666" stroke="#333" stroke-width="1.3" stroke-linejoin="round" />
<line x1="1122.6" y1="862.4" x2="1114.4" y2="862.4" stroke="#333" stroke-width="0.7"/>
<line x1="1122.6" y1="860.3" x2="1114.4" y2="860.3" stroke="#333" stroke-width="0.7"/>
<ellipse cx="1118.5" cy="864.5" rx="2.5" ry="4.1" fill="#e8e8e8" stroke="#333" stroke-width="1.3" transform="rotate(-90 1118.5 864.5)"/>
<ellipse cx="1118.5" cy="864.5" rx="1.1" ry="1.9" fill="#aaa" stroke="#555" stroke-width="0.7" transform="rotate(-90 1118.5 864.5)"/>
<path d="M1179.1 842 L1179.1 828 L1174.5 828 L1174.5 842 Z" fill="#8a8a8a" stroke="#4a4a4a" stroke-width="1.1" stroke-linejoin="round" />
<line x1="1179.1" y1="840.2" x2="1174.5" y2="839.5" stroke="#555" stroke-width="0.6"/>
<line x1="1179.1" y1="838.5" x2="1174.5" y2="837.7" stroke="#555" stroke-width="0.6"/>
<line x1="1179.1" y1="836.8" x2="1174.5" y2="836" stroke="#555" stroke-width="0.6"/>
<line x1="1179.1" y1="835" x2="1174.5" y2="834.2" stroke="#555" stroke-width="0.6"/>
<line x1="1179.1" y1="833.2" x2="1174.5" y2="832.5" stroke="#555" stroke-width="0.6"/>
<line x1="1179.1" y1="831.5" x2="1174.5" y2="830.7" stroke="#555" stroke-width="0.6"/>
<line x1="1179.1" y1="829.8" x2="1174.5" y2="829" stroke="#555" stroke-width="0.6"/>
<path d="M1180.9 849 L1180.9 842 L1172.7 842 L1172.7 849 Z" fill="#666" stroke="#333" stroke-width="1.3" stroke-linejoin="round" />
<line x1="1180.9" y1="846.9" x2="1172.7" y2="846.9" stroke="#333" stroke-width="0.7"/>
<line x1="1180.9" y1="844.8" x2="1172.7" y2="844.8" stroke="#333" stroke-width="0.7"/>
<ellipse cx="1176.8" cy="849" rx="2.5" ry="4.1" fill="#e8e8e8" stroke="#333" stroke-width="1.3" transform="rotate(-90 1176.8 849)"/>
<ellipse cx="1176.8" cy="849" rx="1.1" ry="1.9" fill="#aaa" stroke="#555" stroke-width="0.7" transform="rotate(-90 1176.8 849)"/>
<path d="M1166.4 885 L1166.4 871 L1161.8 871 L1161.8 885 Z" fill="#8a8a8a" stroke="#4a4a4a" stroke-width="1.1" stroke-linejoin="round" />
<line x1="1166.4" y1="883.2" x2="1161.8" y2="882.5" stroke="#555" stroke-width="0.6"/>
<line x1="1166.4" y1="881.5" x2="1161.8" y2="880.7" stroke="#555" stroke-width="0.6"/>
<line x1="1166.4" y1="879.8" x2="1161.8" y2="879" stroke="#555" stroke-width="0.6"/>
<line x1="1166.4" y1="878" x2="1161.8" y2="877.2" stroke="#555" stroke-width="0.6"/>
<line x1="1166.4" y1="876.2" x2="1161.8" y2="875.5" stroke="#555" stroke-width="0.6"/>
<line x1="1166.4" y1="874.5" x2="1161.8" y2="873.7" stroke="#555" stroke-width="0.6"/>
<line x1="1166.4" y1="872.8" x2="1161.8" y2="872" stroke="#555" stroke-width="0.6"/>
<path d="M1168.2 892 L1168.2 885 L1160 885 L1160 892 Z" fill="#666" stroke="#333" stroke-width="1.3" stroke-linejoin="round" />
<line x1="1168.2" y1="889.9" x2="1160" y2="889.9" stroke="#333" stroke-width="0.7"/>
<line x1="1168.2" y1="887.8" x2="1160" y2="887.8" stroke="#333" stroke-width="0.7"/>
<ellipse cx="1164.1" cy="892" rx="2.5" ry="4.1" fill="#e8e8e8" stroke="#333" stroke-width="1.3" transform="rotate(-90 1164.1 892)"/>
<ellipse cx="1164.1" cy="892" rx="1.1" ry="1.9" fill="#aaa" stroke="#555" stroke-width="0.7" transform="rotate(-90 1164.1 892)"/>
<path d="M1225.2 870.5 L1225.2 856.5 L1220.6 856.5 L1220.6 870.5 Z" fill="#8a8a8a" stroke="#4a4a4a" stroke-width="1.1" stroke-linejoin="round" />
<line x1="1225.2" y1="868.8" x2="1220.6" y2="868" stroke="#555" stroke-width="0.6"/>
<line x1="1225.2" y1="867" x2="1220.6" y2="866.2" stroke="#555" stroke-width="0.6"/>
<line x1="1225.2" y1="865.2" x2="1220.6" y2="864.5" stroke="#555" stroke-width="0.6"/>
<line x1="1225.2" y1="863.5" x2="1220.6" y2="862.7" stroke="#555" stroke-width="0.6"/>
<line x1="1225.2" y1="861.8" x2="1220.6" y2="861" stroke="#555" stroke-width="0.6"/>
<line x1="1225.2" y1="860" x2="1220.6" y2="859.2" stroke="#555" stroke-width="0.6"/>
<line x1="1225.2" y1="858.2" x2="1220.6" y2="857.5" stroke="#555" stroke-width="0.6"/>
<path d="M1227 877.5 L1227 870.5 L1218.8 870.5 L1218.8 877.5 Z" fill="#666" stroke="#333" stroke-width="1.3" stroke-linejoin="round" />
<line x1="1227" y1="875.4" x2="1218.8" y2="875.4" stroke="#333" stroke-width="0.7"/>
<line x1="1227" y1="873.3" x2="1218.8" y2="873.3" stroke="#333" stroke-width="0.7"/>
<ellipse cx="1222.9" cy="877.5" rx="2.5" ry="4.1" fill="#e8e8e8" stroke="#333" stroke-width="1.3" transform="rotate(-90 1222.9 877.5)"/>
<ellipse cx="1222.9" cy="877.5" rx="1.1" ry="1.9" fill="#aaa" stroke="#555" stroke-width="0.7" transform="rotate(-90 1222.9 877.5)"/>
<path d="M56.6 756.7 Q55.9 750.8 57.1 748 L57.3 747.4 Q58.6 744.6 64.1 742.2 L85 733 Q89.5 731 91.2 726.3 L92.4 723 Q94.5 717.3 96.7 716.3 L97.2 716.1 Q99.4 715.1 105.4 715.3 L122.7 716 Q126.7 716.1 130 718 L130.8 718.5 Q134.1 720.4 136.3 724.6 L136.8 725.5 Q139.1 729.7 138.5 734.7 L137.1 747 Q136.6 752 131.7 753 L103.1 758.5 Q98.2 759.4 97.8 764.4 L94.8 806.5 Q94.5 811.5 90.1 813.9 L89 814.5 Q84.6 817 81.2 818.9 L80.5 819.3 Q77.2 821.1 73.8 820.2 L73.1 820 Q69.7 819.1 66.9 815.7 L66.3 814.9 Q63.5 811.5 62.8 805.5 Z" fill="#fff" stroke="#444" stroke-width="1.4" stroke-linejoin="round" stroke-linecap="round" />
<path d="M58.6 746.1 L57.9 749.3 Q57.3 752 58.1 758 L64 804.3 Q64.8 810.2 67.6 813.6 L71 817.6" fill="none" stroke="#444" stroke-width="1.1" stroke-linejoin="round" stroke-linecap="round" />
<path d="M58.6 746.1 L88.3 732.4" fill="none" stroke="#444" stroke-width="1.1" stroke-linejoin="round" stroke-linecap="round" />
<path d="M61.3 744.8 L60.6 748.4 Q60.1 751.3 60.8 757.2 L66.7 804.8 Q67.5 810.7 70.3 814.2 L73.7 818.4" fill="none" stroke="#444" stroke-width="1.1" stroke-linejoin="round" stroke-linecap="round" />
<path d="M61.3 744.8 L89.5 731.7" fill="none" stroke="#444" stroke-width="1.1" stroke-linejoin="round" stroke-linecap="round" />
<path d="M64 743.6 L63.3 747.4 Q62.8 750.5 63.5 756.5 L69.5 805.3 Q70.2 811.2 73 814.8 L76.4 819.1" fill="none" stroke="#444" stroke-width="1.1" stroke-linejoin="round" stroke-linecap="round" />
<path d="M64 743.6 L90.8 731" fill="none" stroke="#444" stroke-width="1.1" stroke-linejoin="round" stroke-linecap="round" />
<path d="M74.7 761.1 Q74.7 755.1 80 752.3 L87.6 748.4 Q92 746.1 94.7 743.7 L95.3 743.2 Q98 740.9 99.2 736 L100.4 731.2 Q101.9 725.4 105.3 723.2 L106 722.7 Q109.3 720.4 113 721.3 L113.8 721.5 Q117.4 722.3 118.9 726.2 L119.2 727.1 Q120.7 731 120.1 734 L119.9 734.7 Q119.3 737.8 122 736.9 L122.7 736.7 Q125.4 735.9 128.6 732.1 L130.9 729.2 Q134.1 725.4 136.3 727.3 L136.8 727.8 Q139.1 729.7 139.1 734.7 L139.1 735.9 Q139.1 740.9 135.4 744.2 L130.4 748.7 Q126.7 752 121.8 753.1 L104.1 756.9 Q98.2 758.2 96 759.9 L95.5 760.2 Q93.3 761.9 93.4 767.9 L94.4 805.2 Q94.5 810.2 90.2 812.9 L88.8 813.8 Q84.6 816.4 81.2 817.5 L80.5 817.8 Q77.2 818.9 76.3 815.5 L76.1 814.8 Q75.3 811.5 75.2 806.5 Z" fill="#fff" stroke="#444" stroke-width="1.3" stroke-linejoin="round" stroke-linecap="round" />
<ellipse cx="109.3" cy="732.4" rx="6.5" ry="8.5" fill="#fff" stroke="#444" stroke-width="1.4" transform="rotate(15 109.3 732.4)"/>
<ellipse cx="109.1" cy="732.8" rx="4.2" ry="5.8" fill="#cfcfcf" stroke="#444" stroke-width="1.1" transform="rotate(15 109.1 732.8)"/>
<ellipse cx="108.9" cy="733.2" rx="2.2" ry="3.2" fill="#999" stroke="#444" stroke-width="0.9" transform="rotate(15 108.9 733.2)"/>
<path d="M115.5 721.1 L123.9 717.8 Q126.7 716.7 129.3 718.3 L132.9 720.4" fill="none" stroke="#444" stroke-width="1.1" stroke-linejoin="round" stroke-linecap="round" />
<line x1="116.8" y1="721.3" x2="126.7" y2="717.3" stroke="#555" stroke-width="0.9"/>
<line x1="118.3" y1="720.7" x2="128.2" y2="717.1" stroke="#555" stroke-width="0.9"/>
<line x1="119.8" y1="720.1" x2="129.7" y2="716.8" stroke="#555" stroke-width="0.9"/>
<line x1="121.2" y1="719.4" x2="131.1" y2="716.6" stroke="#555" stroke-width="0.9"/>
<path d="M120.5 737.2 L125.3 735.1 Q129.2 733.4 133 736.7 L137.8 740.9" fill="none" stroke="#444" stroke-width="1.1" stroke-linejoin="round" stroke-linecap="round" />
<path d="M98.2 758.2 L121.7 756.7 Q126.7 756.3 131 753.7 L137.8 749.5" fill="none" stroke="#444" stroke-width="1.3" stroke-linejoin="round" stroke-linecap="round" />
<path d="M78.5 786.9 Q77.2 785.4 78.8 784.3 L81.1 782.8 Q82.7 781.7 84.3 782.9 L86.1 784.2 Q87.7 785.4 86.6 787.1 L84.4 790.6 Q83.3 792.3 82 790.8 Z" fill="#fff" stroke="#444" stroke-width="1.1" stroke-linejoin="round" stroke-linecap="round" />
<path d="M89.6 787.7 Q89.5 786.7 90.5 786.4 L93.5 785.7 Q94.5 785.4 94.5 786.4 L95.1 812.9 Q95.1 813.9 94.1 814.2 L91.1 814.9 Q90.2 815.2 90.1 814.2 Z" fill="#aaa" stroke="#666" stroke-width="0.9" stroke-linejoin="round" stroke-linecap="round" />
<path d="M95.7 799.1 L98.9 797.5 Q100.7 796.6 100.9 794.6 L101.9 786.7" fill="none" stroke="#222" stroke-width="2" stroke-linejoin="round" stroke-linecap="round" />
<path d="M94.5 764.4 L98.6 769.8 Q101.9 774.3 103 779.9 L104.4 786.7" fill="none" stroke="#444" stroke-width="1.1" stroke-linejoin="round" stroke-linecap="round" />
<path d="M54.3 878 Q52.1 870.3 55.9 864.8 L57.1 863 Q60.5 858.1 64.3 853.5 L70.6 845.9 Q75.7 839.8 82.6 836.4 L84.1 835.6 Q90.9 832.2 93.7 833.6 L94.3 833.9 Q97 835.2 99.3 839.7 L107.4 856 Q109.2 859.6 109.2 863.6 L109.2 899.3 Q109.2 905.3 113.5 909.5 L123.2 919.3 Q127.5 923.6 122 923.7 L120.8 923.7 Q115.3 923.9 109.1 925.3 L107.8 925.6 Q101.6 926.9 94.7 926.9 L93.2 926.9 Q86.4 926.9 79.5 919.6 L67.3 906.5 Q60.5 899.2 57.7 889.6 Z" fill="#fff" stroke="#444" stroke-width="1.4" stroke-linejoin="round" stroke-linecap="round" />
<path d="M60.5 859.6 L64.7 863 Q68.1 865.7 73.6 863.6 L74.8 863.2 Q80.3 861.1 84.9 854.6 L86.3 852.4 Q90.9 845.9 93 843.2 L93.4 842.5 Q95.5 839.8 98.2 841.2 L98.8 841.5 Q101.6 842.8 98.2 847.6 L97.4 848.7 Q94 853.5 98.1 855.6 L103.1 858.1" fill="none" stroke="#444" stroke-width="1.3" stroke-linejoin="round" stroke-linecap="round" />
<ellipse cx="75.7" cy="871.8" rx="14.5" ry="10" fill="#fff" stroke="#444" stroke-width="1.3" transform="rotate(-25 75.7 871.8)"/>
<path d="M57.4 885.5 L64.1 888.8 Q69.6 891.6 77.4 889.9 L83.1 888.7 Q90.9 887 95.7 882.2 L101.6 876.4" fill="none" stroke="#444" stroke-width="1.3" stroke-linejoin="round" stroke-linecap="round" />
<path d="M58.9 891.6 L66.5 895.8 Q72.7 899.2 80.3 897 L86.3 895.3 Q94 893.1 98.8 889 L104.6 884" fill="none" stroke="#444" stroke-width="1.1" stroke-linejoin="round" stroke-linecap="round" />
<path d="M78.8 889.6 Q77.2 887 79.8 885.5 L85.3 882.4 Q87.9 880.9 90 878.8 L93.4 875.4 Q95.5 873.3 96.6 876.1 L97.4 878.1 Q98.5 880.9 96.4 883.1 L93.1 886.4 Q90.9 888.5 88.4 890.2 L84.3 893 Q81.8 894.6 80.2 892.1 Z" fill="#fff" stroke="#444" stroke-width="1.1" stroke-linejoin="round" stroke-linecap="round" />
<path d="M64.3 858.1 L74.2 842.8" fill="none" stroke="#444" stroke-width="1.7" stroke-linejoin="round" stroke-linecap="round" />
<path d="M110.1 911.8 Q109.2 911.4 109.8 910.6 L112.4 907.6 Q113 906.8 113.5 907.7 L116.4 913.5 Q116.8 914.4 115.9 914.1 Z" fill="#ccc" stroke="#555" stroke-width="1" stroke-linejoin="round" stroke-linecap="round" />
<path d="M106.6 876.3 Q106.2 870.3 110.3 866.8 L111.2 866.1 Q115.3 862.7 119.3 858.2 L124.8 851.9 Q127.5 848.9 131.3 850.1 L171.5 862.7 Q176.2 864.2 180.7 866.4 L183 867.6 Q188.4 870.3 189.1 876.2 L190.9 891.2 Q191.5 896.2 191.1 901.1 L190.3 912.5 Q189.9 917.5 185.5 919.8 L171.5 927.3 Q167.1 929.7 163 932.4 L162.1 933 Q158 935.8 153 934.9 L147.6 934 Q139.7 932.7 133.2 928.1 L126.5 923.3 Q118.3 917.5 114.3 908.3 L110.9 900.4 Q107.7 893.1 107.2 885.1 Z" fill="#fff" stroke="#444" stroke-width="1.4" stroke-linejoin="round" stroke-linecap="round" />
<ellipse cx="135.1" cy="899.2" rx="21.5" ry="26.5" fill="#fff" stroke="#444" stroke-width="1.4" transform="rotate(-22 135.1 899.2)"/>
<path d="M115.3 863.4 L151.7 876.9 Q156.4 878.6 159.6 882.5 L163.3 887 Q167.1 891.6 167.2 897.6 L167.9 928.9" fill="none" stroke="#444" stroke-width="1.3" stroke-linejoin="round" stroke-linecap="round" />
<path d="M156.4 878.6 L176.2 864.5" fill="none" stroke="#444" stroke-width="1.3" stroke-linejoin="round" stroke-linecap="round" />
<path d="M167.1 891.6 L189.2 880.9" fill="none" stroke="#444" stroke-width="1.3" stroke-linejoin="round" stroke-linecap="round" />
<ellipse cx="180.8" cy="870.3" rx="4" ry="4.5" fill="#888" stroke="#333" stroke-width="1.3"/>
<ellipse cx="182.3" cy="924.3" rx="3.4" ry="4" fill="#888" stroke="#333" stroke-width="1.3"/>
<ellipse cx="127.5" cy="845.1" rx="3.4" ry="4" fill="#888" stroke="#333" stroke-width="1.3"/>
<path d="M183.3 920.3 Q182.3 917.5 185.3 917.5 L186.9 917.5 Q189.9 917.5 191.4 920.1 L198.5 933.1 Q200 935.8 200 938.8 L200 951 Q200 954 197.9 951.9 L193.5 947.1 Q191.5 944.9 190.5 942.1 Z" fill="#fff" stroke="#333" stroke-width="1.4" stroke-linejoin="round" stroke-linecap="round" />
<path d="M160.5 935 Q158 933.5 160.7 932.5 L161.3 932.2 Q164 931.2 166.7 932.6 L197.3 948.1 Q200 949.5 200 952.5 L200 954.9 Q200 957.9 197.4 956.3 Z" fill="#fff" stroke="#444" stroke-width="1.3" stroke-linejoin="round" stroke-linecap="round" />
<ellipse cx="142.7" cy="935.8" rx="3" ry="2.2" fill="#ccc" stroke="#555" stroke-width="1"/>
<ellipse cx="155.7" cy="940.3" rx="3.6" ry="2.6" fill="#ccc" stroke="#555" stroke-width="1"/>
<path d="M93.3 762 Q92.9 759 95.9 758.3 L135.6 747.9 Q140.4 746.6 143.4 742.6 L149.1 734.6 Q151.5 731.4 154.8 729.3 L161.1 725.3 Q165.3 722.6 169.8 720.4 L180.1 715.5 Q187.4 712.1 195.3 711.1 L201.5 710.3 Q209.5 709.3 217.2 711.4 L230.2 715 Q239.8 717.6 247.8 723.6 L253.9 728.2 Q261.9 734.2 266.6 743 L270.7 750.9 Q273.5 756.3 278.5 759.6 L297.8 772.7 Q306.1 778.3 312.2 786.3 L317.1 792.5 Q323.2 800.4 325 810.3 L328.4 829.2 Q330.1 839.1 329.4 849.1 L326.6 889.9 Q326 899.8 322 907.5 L319.9 911.6 Q317.1 916.9 311.9 919.9 L306.8 922.7 Q303.3 924.7 300.5 927.5 L284.1 944.4 Q278.5 950.1 270.8 952.5 L240.5 961.9 Q237.6 962.8 234.6 962.8 L197.7 962.8 Q195.7 962.8 195.4 960.8 L191.9 933.2 Q191.5 930.2 191.6 927.2 L192.8 875.2 Q192.9 872.2 190.2 870.9 L126.1 839.5 Q122.5 837.7 119.1 835.6 L103.8 826 Q100.4 823.9 99.9 819.9 Z" fill="#fff" stroke="#444" stroke-width="1.6" stroke-linejoin="round" stroke-linecap="round" />
<path d="M165.3 723.1 L182 750.6 Q184.6 754.9 188.4 751.6 L191.1 749.2 Q195.7 745.2 196.9 740.2 L197.2 739.1 Q198.4 734.2 201.5 729 L203.6 725.5 Q206.7 720.4 212.4 718.5 L223.3 714.8" fill="none" stroke="#444" stroke-width="1.3" stroke-linejoin="round" stroke-linecap="round" />
<path d="M140.4 748 L176.6 758 Q180.5 759 182.3 757.2 L184.6 754.9" fill="none" stroke="#444" stroke-width="1.3" stroke-linejoin="round" stroke-linecap="round" />
<path d="M184.6 754.9 L186.9 760.2 Q188.8 764.5 192.4 769.3 L197.6 776.3 Q201.2 781.1 206.5 783.8 L218.8 789.9 Q223.3 792.2 227.9 794.1 L251.8 804 Q256.4 806 261.3 805 L265.3 804.2 Q270.2 803.2 274.4 800.4 L303.3 781.1" fill="none" stroke="#444" stroke-width="1.3" stroke-linejoin="round" stroke-linecap="round" />
<path d="M198.4 745.2 L216.3 735.3 Q223.3 731.4 231.2 730.5 L240.2 729.5 Q248.1 728.7 253.8 734.3 L259 739.6 Q264.7 745.2 268.4 751.4 L273 759" fill="none" stroke="#444" stroke-width="1.3" stroke-linejoin="round" stroke-linecap="round" />
<path d="M193.6 717.3 L197 715 Q199.8 713 202.9 713.6 L203.6 713.7 Q206.6 714.2 207.7 715.4 L208 715.6 Q209.1 716.7 211.1 714.8 L211.5 714.3 Q213.4 712.4 215.1 712.9 L215.5 713.1 Q217.2 713.6 216.6 716.4 L216.5 717 Q215.9 719.8 210.9 721.2 L209.8 721.5 Q204.8 722.9 200.9 721.8 L200 721.5 Q196.1 720.4 195 719 L193.6 717.3" fill="none" stroke="#444" stroke-width="1.4" stroke-linejoin="round" stroke-linecap="round" />
<line x1="217.2" y1="713.6" x2="217.2" y2="722.3" stroke="#444" stroke-width="1.3"/>
<path d="M220.9 721.1 L225.8 719.3 Q229.5 718 231.8 717.1 L234.5 716.1" fill="none" stroke="#555" stroke-width="1" stroke-linejoin="round" stroke-linecap="round" />
<path d="M92.9 759.6 L124.1 764.5 Q128 765.1 126.8 768.6 L126.5 769.3 Q125.3 772.8 124.9 776.8 L119.7 833.6" fill="none" stroke="#444" stroke-width="1.3" stroke-linejoin="round" stroke-linecap="round" />
<rect x="109.1" y="776.4" width="6.4" height="8.4" rx="2.4" fill="#fff" stroke="#333" stroke-width="1.2" transform="rotate(10 112.3 780.6)"/>
<rect x="108.2" y="786.2" width="6.4" height="8.4" rx="2.4" fill="#fff" stroke="#333" stroke-width="1.2" transform="rotate(10 111.4 790.4)"/>
<rect x="107.3" y="796" width="6.4" height="8.4" rx="2.4" fill="#fff" stroke="#333" stroke-width="1.2" transform="rotate(10 110.5 800.2)"/>
<rect x="106.4" y="805.8" width="6.4" height="8.4" rx="2.4" fill="#fff" stroke="#333" stroke-width="1.2" transform="rotate(10 109.6 810)"/>
<rect x="105.5" y="815.6" width="6.4" height="8.4" rx="2.4" fill="#fff" stroke="#333" stroke-width="1.2" transform="rotate(10 108.7 819.8)"/>
<path d="M100.4 823.9 L105.4 852.7 Q105.9 855.7 108.7 856.8 L110 857.3 Q112.8 858.4 113.6 855.5 L118.3 836.3" fill="none" stroke="#444" stroke-width="1.3" stroke-linejoin="round" stroke-linecap="round" />
<path d="M105.9 833.6 L110.1 852.9" fill="none" stroke="#444" stroke-width="1.1" stroke-linejoin="round" stroke-linecap="round" />
<ellipse cx="125.3" cy="844.6" rx="3.2" ry="3.6" fill="#777" stroke="#333" stroke-width="1.1"/>
<path d="M128.5 765.2 Q129.4 762.3 132.2 763.3 L180.8 779.3 Q184.6 780.6 186.2 784.2 L193.3 800.5 Q195.7 806 195.8 812 L196.7 863.7 Q196.8 866.7 194 865.6 L125.3 837.5 Q122.5 836.3 122.7 833.3 L125.9 775.8 Q126.1 772.8 127 770 Z" fill="#a2a2a2" stroke="#444" stroke-width="1.3" stroke-linejoin="round" stroke-linecap="round" />
<clipPath id="c4"><path d="M128.5 765.2 Q129.4 762.3 132.2 763.3 L180.8 779.3 Q184.6 780.6 186.2 784.2 L193.3 800.5 Q195.7 806 195.8 812 L196.7 863.7 Q196.8 866.7 194 865.6 L125.3 837.5 Q122.5 836.3 122.7 833.3 L125.9 775.8 Q126.1 772.8 127 770 Z"/></clipPath><g clip-path="url(#c4)">
<path d="M122.5 765.9 C128.7 767.9 147.1 773.4 159.8 777.5 C172.4 781.7 192 788.6 198.4 790.8" fill="none" stroke="#3c3c3c" stroke-width="4.2" stroke-linejoin="round" />
<path d="M122.5 765.9 C128.7 767.9 147.1 773.4 159.8 777.5 C172.4 781.7 192 788.6 198.4 790.8" fill="none" stroke="#fff" stroke-width="2.4" stroke-linejoin="round" />
<path d="M122.5 771.9 C128.7 773.8 147.1 779.3 159.8 783.5 C172.4 787.6 192 794.5 198.4 796.7" fill="none" stroke="#3c3c3c" stroke-width="4.2" stroke-linejoin="round" />
<path d="M122.5 771.9 C128.7 773.8 147.1 779.3 159.8 783.5 C172.4 787.6 192 794.5 198.4 796.7" fill="none" stroke="#fff" stroke-width="2.4" stroke-linejoin="round" />
<path d="M122.5 777.8 C128.7 779.7 147.1 785.3 159.8 789.4 C172.4 793.5 192 800.4 198.4 802.6" fill="none" stroke="#3c3c3c" stroke-width="4.2" stroke-linejoin="round" />
<path d="M122.5 777.8 C128.7 779.7 147.1 785.3 159.8 789.4 C172.4 793.5 192 800.4 198.4 802.6" fill="none" stroke="#fff" stroke-width="2.4" stroke-linejoin="round" />
<path d="M122.5 783.7 C128.7 785.7 147.1 791.2 159.8 795.3 C172.4 799.5 192 806.4 198.4 808.6" fill="none" stroke="#3c3c3c" stroke-width="4.2" stroke-linejoin="round" />
<path d="M122.5 783.7 C128.7 785.7 147.1 791.2 159.8 795.3 C172.4 799.5 192 806.4 198.4 808.6" fill="none" stroke="#fff" stroke-width="2.4" stroke-linejoin="round" />
<path d="M122.5 789.7 C128.7 791.6 147.1 797.1 159.8 801.3 C172.4 805.4 192 812.3 198.4 814.5" fill="none" stroke="#3c3c3c" stroke-width="4.2" stroke-linejoin="round" />
<path d="M122.5 789.7 C128.7 791.6 147.1 797.1 159.8 801.3 C172.4 805.4 192 812.3 198.4 814.5" fill="none" stroke="#fff" stroke-width="2.4" stroke-linejoin="round" />
<path d="M122.5 795.6 C128.7 797.5 147.1 803.1 159.8 807.2 C172.4 811.3 192 818.2 198.4 820.5" fill="none" stroke="#3c3c3c" stroke-width="4.2" stroke-linejoin="round" />
<path d="M122.5 795.6 C128.7 797.5 147.1 803.1 159.8 807.2 C172.4 811.3 192 818.2 198.4 820.5" fill="none" stroke="#fff" stroke-width="2.4" stroke-linejoin="round" />
<path d="M122.5 801.5 C128.7 803.5 147.1 809 159.8 813.1 C172.4 817.3 192 824.2 198.4 826.4" fill="none" stroke="#3c3c3c" stroke-width="4.2" stroke-linejoin="round" />
<path d="M122.5 801.5 C128.7 803.5 147.1 809 159.8 813.1 C172.4 817.3 192 824.2 198.4 826.4" fill="none" stroke="#fff" stroke-width="2.4" stroke-linejoin="round" />
<path d="M122.5 807.5 C128.7 809.4 147.1 814.9 159.8 819.1 C172.4 823.2 192 830.1 198.4 832.3" fill="none" stroke="#3c3c3c" stroke-width="4.2" stroke-linejoin="round" />
<path d="M122.5 807.5 C128.7 809.4 147.1 814.9 159.8 819.1 C172.4 823.2 192 830.1 198.4 832.3" fill="none" stroke="#fff" stroke-width="2.4" stroke-linejoin="round" />
<path d="M122.5 813.4 C128.7 815.3 147.1 820.9 159.8 825 C172.4 829.1 192 836.1 198.4 838.3" fill="none" stroke="#3c3c3c" stroke-width="4.2" stroke-linejoin="round" />
<path d="M122.5 813.4 C128.7 815.3 147.1 820.9 159.8 825 C172.4 829.1 192 836.1 198.4 838.3" fill="none" stroke="#fff" stroke-width="2.4" stroke-linejoin="round" />
<path d="M122.5 819.3 C128.7 821.3 147.1 826.8 159.8 830.9 C172.4 835.1 192 842 198.4 844.2" fill="none" stroke="#3c3c3c" stroke-width="4.2" stroke-linejoin="round" />
<path d="M122.5 819.3 C128.7 821.3 147.1 826.8 159.8 830.9 C172.4 835.1 192 842 198.4 844.2" fill="none" stroke="#fff" stroke-width="2.4" stroke-linejoin="round" />
<path d="M122.5 825.3 C128.7 827.2 147.1 832.7 159.8 836.9 C172.4 841 192 847.9 198.4 850.1" fill="none" stroke="#3c3c3c" stroke-width="4.2" stroke-linejoin="round" />
<path d="M122.5 825.3 C128.7 827.2 147.1 832.7 159.8 836.9 C172.4 841 192 847.9 198.4 850.1" fill="none" stroke="#fff" stroke-width="2.4" stroke-linejoin="round" />
<path d="M122.5 831.2 C128.7 833.2 147.1 838.7 159.8 842.8 C172.4 847 192 853.9 198.4 856.1" fill="none" stroke="#3c3c3c" stroke-width="4.2" stroke-linejoin="round" />
<path d="M122.5 831.2 C128.7 833.2 147.1 838.7 159.8 842.8 C172.4 847 192 853.9 198.4 856.1" fill="none" stroke="#fff" stroke-width="2.4" stroke-linejoin="round" />
<path d="M122.5 837.2 C128.7 839.1 147.1 844.6 159.8 848.8 C172.4 852.9 192 859.8 198.4 862" fill="none" stroke="#3c3c3c" stroke-width="4.2" stroke-linejoin="round" />
<path d="M122.5 837.2 C128.7 839.1 147.1 844.6 159.8 848.8 C172.4 852.9 192 859.8 198.4 862" fill="none" stroke="#fff" stroke-width="2.4" stroke-linejoin="round" />
</g>
<path d="M184.6 754.9 L189.1 776.2 Q190.1 781.1 192.2 785.7 L199.1 801.4 Q201.2 806 201.3 811 L202.6 866.7" fill="none" stroke="#444" stroke-width="1.3" stroke-linejoin="round" stroke-linecap="round" />
<path d="M201.8 802.9 Q201.7 799.9 204.6 800.7 L219.4 804.9 Q223.3 806 227.2 806.6 L253.2 810.6 Q259.2 811.5 264.9 809.8 L274.6 807.1 Q278.5 806 281.5 803.3 L298.9 787.9 Q301.9 785.3 305.2 787.6 L316.2 795.7 Q322.7 800.4 324.1 808.3 L327.8 829.2 Q329.6 839.1 328.9 849.1 L326.1 889.9 Q325.4 899.8 321.7 907.3 L319.8 911 Q317.1 916.4 311.8 919.1 L305.5 922.3 Q301.9 924.1 298.8 926.6 L283.2 938.9 Q278.5 942.6 272.5 941.7 L254.8 939.1 Q250.9 938.5 247.1 937.3 L209.6 925.6 Q206.7 924.7 205.2 922.2 L204.9 921.6 Q203.4 919.2 203.3 916.2 Z" fill="#a0a0a0" stroke="#444" stroke-width="1.3" stroke-linejoin="round" stroke-linecap="round" />
<clipPath id="c5"><path d="M201.8 802.9 Q201.7 799.9 204.6 800.7 L219.4 804.9 Q223.3 806 227.2 806.6 L253.2 810.6 Q259.2 811.5 264.9 809.8 L274.6 807.1 Q278.5 806 281.5 803.3 L298.9 787.9 Q301.9 785.3 305.2 787.6 L316.2 795.7 Q322.7 800.4 324.1 808.3 L327.8 829.2 Q329.6 839.1 328.9 849.1 L326.1 889.9 Q325.4 899.8 321.7 907.3 L319.8 911 Q317.1 916.4 311.8 919.1 L305.5 922.3 Q301.9 924.1 298.8 926.6 L283.2 938.9 Q278.5 942.6 272.5 941.7 L254.8 939.1 Q250.9 938.5 247.1 937.3 L209.6 925.6 Q206.7 924.7 205.2 922.2 L204.9 921.6 Q203.4 919.2 203.3 916.2 Z"/></clipPath><g clip-path="url(#c5)">
<path d="M203.4 803.7 C209.5 805.5 228.2 811.6 239.8 814.2 C251.4 816.9 265.1 819.7 273 819.8 C280.8 819.9 281.2 818 286.8 814.8 C292.3 811.6 298.5 805.7 306.1 800.4 C313.7 795.1 327.9 785.9 332.3 783" fill="none" stroke="#3c3c3c" stroke-width="6.2" stroke-linejoin="round" />
<path d="M203.4 803.7 C209.5 805.5 228.2 811.6 239.8 814.2 C251.4 816.9 265.1 819.7 273 819.8 C280.8 819.9 281.2 818 286.8 814.8 C292.3 811.6 298.5 805.7 306.1 800.4 C313.7 795.1 327.9 785.9 332.3 783" fill="none" stroke="#fff" stroke-width="4.4" stroke-linejoin="round" />
<path d="M203.4 814.8 C209.5 816.5 228.2 822.6 239.8 825.3 C251.4 828 265.1 830.7 273 830.8 C280.8 830.9 281.2 829.1 286.8 825.8 C292.3 822.6 298.5 816.8 306.1 811.5 C313.7 806.2 327.9 797 332.3 794.1" fill="none" stroke="#3c3c3c" stroke-width="6.2" stroke-linejoin="round" />
<path d="M203.4 814.8 C209.5 816.5 228.2 822.6 239.8 825.3 C251.4 828 265.1 830.7 273 830.8 C280.8 830.9 281.2 829.1 286.8 825.8 C292.3 822.6 298.5 816.8 306.1 811.5 C313.7 806.2 327.9 797 332.3 794.1" fill="none" stroke="#fff" stroke-width="4.4" stroke-linejoin="round" />
<path d="M203.4 825.8 C209.5 827.6 228.2 833.7 239.8 836.3 C251.4 839 265.1 841.8 273 841.8 C280.8 841.9 281.2 840.1 286.8 836.9 C292.3 833.7 298.5 827.8 306.1 822.5 C313.7 817.2 327.9 808 332.3 805.1" fill="none" stroke="#3c3c3c" stroke-width="6.2" stroke-linejoin="round" />
<path d="M203.4 825.8 C209.5 827.6 228.2 833.7 239.8 836.3 C251.4 839 265.1 841.8 273 841.8 C280.8 841.9 281.2 840.1 286.8 836.9 C292.3 833.7 298.5 827.8 306.1 822.5 C313.7 817.2 327.9 808 332.3 805.1" fill="none" stroke="#fff" stroke-width="4.4" stroke-linejoin="round" />
<path d="M203.4 836.9 C209.5 838.6 228.2 844.7 239.8 847.4 C251.4 850 265.1 852.8 273 852.9 C280.8 853 281.2 851.1 286.8 847.9 C292.3 844.7 298.5 838.9 306.1 833.6 C313.7 828.3 327.9 819.1 332.3 816.2" fill="none" stroke="#3c3c3c" stroke-width="6.2" stroke-linejoin="round" />
<path d="M203.4 836.9 C209.5 838.6 228.2 844.7 239.8 847.4 C251.4 850 265.1 852.8 273 852.9 C280.8 853 281.2 851.1 286.8 847.9 C292.3 844.7 298.5 838.9 306.1 833.6 C313.7 828.3 327.9 819.1 332.3 816.2" fill="none" stroke="#fff" stroke-width="4.4" stroke-linejoin="round" />
<path d="M203.4 847.9 C209.5 849.7 228.2 855.7 239.8 858.4 C251.4 861.1 265.1 863.8 273 863.9 C280.8 864 281.2 862.2 286.8 859 C292.3 855.7 298.5 849.9 306.1 844.6 C313.7 839.3 327.9 830.1 332.3 827.2" fill="none" stroke="#3c3c3c" stroke-width="6.2" stroke-linejoin="round" />
<path d="M203.4 847.9 C209.5 849.7 228.2 855.7 239.8 858.4 C251.4 861.1 265.1 863.8 273 863.9 C280.8 864 281.2 862.2 286.8 859 C292.3 855.7 298.5 849.9 306.1 844.6 C313.7 839.3 327.9 830.1 332.3 827.2" fill="none" stroke="#fff" stroke-width="4.4" stroke-linejoin="round" />
<path d="M203.4 859 C209.5 860.7 228.2 866.8 239.8 869.5 C251.4 872.1 265.1 874.9 273 875 C280.8 875.1 281.2 873.2 286.8 870 C292.3 866.8 298.5 860.9 306.1 855.7 C313.7 850.4 327.9 841.2 332.3 838.3" fill="none" stroke="#3c3c3c" stroke-width="6.2" stroke-linejoin="round" />
<path d="M203.4 859 C209.5 860.7 228.2 866.8 239.8 869.5 C251.4 872.1 265.1 874.9 273 875 C280.8 875.1 281.2 873.2 286.8 870 C292.3 866.8 298.5 860.9 306.1 855.7 C313.7 850.4 327.9 841.2 332.3 838.3" fill="none" stroke="#fff" stroke-width="4.4" stroke-linejoin="round" />
<path d="M203.4 870 C209.5 871.8 228.2 877.8 239.8 880.5 C251.4 883.2 265.1 885.9 273 886 C280.8 886.1 281.2 884.3 286.8 881.1 C292.3 877.8 298.5 872 306.1 866.7 C313.7 861.4 327.9 852.2 332.3 849.3" fill="none" stroke="#3c3c3c" stroke-width="6.2" stroke-linejoin="round" />
<path d="M203.4 870 C209.5 871.8 228.2 877.8 239.8 880.5 C251.4 883.2 265.1 885.9 273 886 C280.8 886.1 281.2 884.3 286.8 881.1 C292.3 877.8 298.5 872 306.1 866.7 C313.7 861.4 327.9 852.2 332.3 849.3" fill="none" stroke="#fff" stroke-width="4.4" stroke-linejoin="round" />
<path d="M203.4 881.1 C209.5 882.8 228.2 888.9 239.8 891.5 C251.4 894.2 265.1 897 273 897.1 C280.8 897.2 281.2 895.3 286.8 892.1 C292.3 888.9 298.5 883 306.1 877.7 C313.7 872.4 327.9 863.2 332.3 860.3" fill="none" stroke="#3c3c3c" stroke-width="6.2" stroke-linejoin="round" />
<path d="M203.4 881.1 C209.5 882.8 228.2 888.9 239.8 891.5 C251.4 894.2 265.1 897 273 897.1 C280.8 897.2 281.2 895.3 286.8 892.1 C292.3 888.9 298.5 883 306.1 877.7 C313.7 872.4 327.9 863.2 332.3 860.3" fill="none" stroke="#fff" stroke-width="4.4" stroke-linejoin="round" />
<path d="M203.4 892.1 C209.5 893.8 228.2 899.9 239.8 902.6 C251.4 905.3 265.1 908 273 908.1 C280.8 908.2 281.2 906.4 286.8 903.1 C292.3 899.9 298.5 894.1 306.1 888.8 C313.7 883.5 327.9 874.3 332.3 871.4" fill="none" stroke="#3c3c3c" stroke-width="6.2" stroke-linejoin="round" />
<path d="M203.4 892.1 C209.5 893.8 228.2 899.9 239.8 902.6 C251.4 905.3 265.1 908 273 908.1 C280.8 908.2 281.2 906.4 286.8 903.1 C292.3 899.9 298.5 894.1 306.1 888.8 C313.7 883.5 327.9 874.3 332.3 871.4" fill="none" stroke="#fff" stroke-width="4.4" stroke-linejoin="round" />
<path d="M203.4 903.1 C209.5 904.9 228.2 911 239.8 913.6 C251.4 916.3 265.1 919.1 273 919.2 C280.8 919.2 281.2 917.4 286.8 914.2 C292.3 911 298.5 905.1 306.1 899.8 C313.7 894.5 327.9 885.3 332.3 882.4" fill="none" stroke="#3c3c3c" stroke-width="6.2" stroke-linejoin="round" />
<path d="M203.4 903.1 C209.5 904.9 228.2 911 239.8 913.6 C251.4 916.3 265.1 919.1 273 919.2 C280.8 919.2 281.2 917.4 286.8 914.2 C292.3 911 298.5 905.1 306.1 899.8 C313.7 894.5 327.9 885.3 332.3 882.4" fill="none" stroke="#fff" stroke-width="4.4" stroke-linejoin="round" />
<path d="M203.4 914.2 C209.5 915.9 228.2 922 239.8 924.7 C251.4 927.3 265.1 930.1 273 930.2 C280.8 930.3 281.2 928.5 286.8 925.2 C292.3 922 298.5 916.2 306.1 910.9 C313.7 905.6 327.9 896.4 332.3 893.5" fill="none" stroke="#3c3c3c" stroke-width="6.2" stroke-linejoin="round" />
<path d="M203.4 914.2 C209.5 915.9 228.2 922 239.8 924.7 C251.4 927.3 265.1 930.1 273 930.2 C280.8 930.3 281.2 928.5 286.8 925.2 C292.3 922 298.5 916.2 306.1 910.9 C313.7 905.6 327.9 896.4 332.3 893.5" fill="none" stroke="#fff" stroke-width="4.4" stroke-linejoin="round" />
<path d="M203.4 925.2 C209.5 927 228.2 933.1 239.8 935.7 C251.4 938.4 265.1 941.2 273 941.2 C280.8 941.3 281.2 939.5 286.8 936.3 C292.3 933.1 298.5 927.2 306.1 921.9 C313.7 916.6 327.9 907.4 332.3 904.5" fill="none" stroke="#3c3c3c" stroke-width="6.2" stroke-linejoin="round" />
<path d="M203.4 925.2 C209.5 927 228.2 933.1 239.8 935.7 C251.4 938.4 265.1 941.2 273 941.2 C280.8 941.3 281.2 939.5 286.8 936.3 C292.3 933.1 298.5 927.2 306.1 921.9 C313.7 916.6 327.9 907.4 332.3 904.5" fill="none" stroke="#fff" stroke-width="4.4" stroke-linejoin="round" />
</g>
<rect x="271.3" y="806.8" width="4.4" height="5" rx="1" fill="#fff" stroke="#333" stroke-width="0.9" transform="rotate(-12 273.5 809.3)"/>
<rect x="272.2" y="818" width="4.4" height="5" rx="1" fill="#fff" stroke="#333" stroke-width="0.9" transform="rotate(-12 274.4 820.5)"/>
<rect x="273.1" y="829.1" width="4.4" height="5" rx="1" fill="#fff" stroke="#333" stroke-width="0.9" transform="rotate(-12 275.3 831.6)"/>
<rect x="274" y="840.3" width="4.4" height="5" rx="1" fill="#fff" stroke="#333" stroke-width="0.9" transform="rotate(-12 276.2 842.8)"/>
<rect x="274.8" y="851.5" width="4.4" height="5" rx="1" fill="#fff" stroke="#333" stroke-width="0.9" transform="rotate(-12 277 854)"/>
<rect x="275.7" y="862.7" width="4.4" height="5" rx="1" fill="#fff" stroke="#333" stroke-width="0.9" transform="rotate(-12 277.9 865.2)"/>
<rect x="276.6" y="873.9" width="4.4" height="5" rx="1" fill="#fff" stroke="#333" stroke-width="0.9" transform="rotate(-12 278.8 876.4)"/>
<rect x="277.5" y="885" width="4.4" height="5" rx="1" fill="#fff" stroke="#333" stroke-width="0.9" transform="rotate(-12 279.7 887.5)"/>
<rect x="278.4" y="896.2" width="4.4" height="5" rx="1" fill="#fff" stroke="#333" stroke-width="0.9" transform="rotate(-12 280.6 898.7)"/>
<rect x="279.3" y="907.4" width="4.4" height="5" rx="1" fill="#fff" stroke="#333" stroke-width="0.9" transform="rotate(-12 281.5 909.9)"/>
<path d="M215.6 889 Q215.4 884 220.2 885.2 L243.2 890.7 Q247 891.6 247.2 895.6 L247.7 915 Q247.8 919 243.9 918.1 L222.4 912.9 Q216.6 911.4 216.3 905.4 Z" fill="#fff" stroke="#444" stroke-width="1.4" stroke-linejoin="round" stroke-linecap="round" />
<path d="M220.1 892 Q219.9 887 224.8 888.3 L240.1 892.2 Q244 893.1 244.1 897.1 L244.6 910.5 Q244.8 914.5 240.9 913.5 L226.7 909.9 Q220.8 908.4 220.6 902.4 Z" fill="#fff" stroke="#555" stroke-width="1.1" stroke-linejoin="round" stroke-linecap="round" />
<ellipse cx="235.2" cy="897.7" rx="7.5" ry="8.5" fill="#fff" stroke="#333" stroke-width="1.4"/>
<ellipse cx="235.2" cy="897.7" rx="5" ry="6" fill="#fff" stroke="#555" stroke-width="1"/>
<path d="M221.9 888.6 L223.7 899.3 Q224.2 902.3 225.2 899.5 L228 891.6" fill="none" stroke="#333" stroke-width="1.4" stroke-linejoin="round" stroke-linecap="round" />
<path d="M252 895.9 Q251.6 893.1 261.5 894.8 L271.2 896.4 Q279 897.7 279.4 900.1 L279.5 900.6 Q279.8 903 271.9 901.9 L262.3 900.6 Q252.4 899.2 252 896.5 Z" fill="#fff" stroke="#444" stroke-width="1.3" stroke-linejoin="round" stroke-linecap="round" />
<path d="M252 902.7 Q251.6 900 261.5 901.6 L271.2 903.3 Q279 904.6 279.4 907 L279.5 907.5 Q279.8 909.9 271.9 908.8 L262.3 907.5 Q252.4 906.1 252 903.4 Z" fill="#fff" stroke="#444" stroke-width="1.3" stroke-linejoin="round" stroke-linecap="round" />
<path d="M252 909.6 Q251.6 906.9 261.5 908.5 L271.2 910.1 Q279 911.4 279.4 913.8 L279.5 914.4 Q279.8 916.8 271.9 915.7 L262.3 914.3 Q252.4 913 252 910.2 Z" fill="#fff" stroke="#444" stroke-width="1.3" stroke-linejoin="round" stroke-linecap="round" />
<path d="M189.1 767.7 Q187.4 758.2 196.4 753.7 L210 746.9 Q217.2 743.3 224.7 740.6 L235 736.9 Q244.4 733.4 251.1 735.1 L252.6 735.5 Q259.3 737.2 263.4 744 L271 756.8 Q274.1 761.9 279.5 764.6 L296.2 773 Q298.9 774.3 300.3 776.5 L300.6 777 Q302 779.3 299.6 781.1 L270.6 803.4 Q266.7 806.5 262 808.4 L259.9 809.2 Q254.3 811.5 246.6 809.1 L208.7 797.7 Q201.1 795.4 196.9 788.5 L195.6 786.5 Q191.1 779.3 189.5 769.8 Z" fill="#fff" stroke="#444" stroke-width="1.3" stroke-linejoin="round" stroke-linecap="round" />
<path d="M215.9 776.8 Q220.6 778.1 220.9 784.2" fill="none" stroke="#3c3c3c" stroke-width="4.2" stroke-linecap="round"/>
<path d="M215.9 776.8 Q220.6 778.1 220.9 784.2" fill="none" stroke="#9a9a9a" stroke-width="2.2" stroke-linecap="round"/>
<path d="M222.1 772.4 Q229.9 778.4 233.3 789.2" fill="none" stroke="#3c3c3c" stroke-width="4.2" stroke-linecap="round"/>
<path d="M222.1 772.4 Q229.9 778.4 233.3 789.2" fill="none" stroke="#9a9a9a" stroke-width="2.2" stroke-linecap="round"/>
<path d="M228.9 768.7 Q238.9 778.4 244.4 792.9" fill="none" stroke="#3c3c3c" stroke-width="4.2" stroke-linecap="round"/>
<path d="M228.9 768.7 Q238.9 778.4 244.4 792.9" fill="none" stroke="#9a9a9a" stroke-width="2.2" stroke-linecap="round"/>
<path d="M235.7 765 Q247.8 777.8 255.5 795.4" fill="none" stroke="#3c3c3c" stroke-width="4.2" stroke-linecap="round"/>
<path d="M235.7 765 Q247.8 777.8 255.5 795.4" fill="none" stroke="#9a9a9a" stroke-width="2.2" stroke-linecap="round"/>
<path d="M241.9 761.9 Q255.9 773.8 265.4 790.4" fill="none" stroke="#3c3c3c" stroke-width="4.2" stroke-linecap="round"/>
<path d="M241.9 761.9 Q255.9 773.8 265.4 790.4" fill="none" stroke="#9a9a9a" stroke-width="2.2" stroke-linecap="round"/>
<path d="M248.7 759.4 Q264.2 769.4 275.4 784.2" fill="none" stroke="#3c3c3c" stroke-width="4.2" stroke-linecap="round"/>
<path d="M248.7 759.4 Q264.2 769.4 275.4 784.2" fill="none" stroke="#9a9a9a" stroke-width="2.2" stroke-linecap="round"/>
<path d="M254.9 758.2 Q271.7 766.3 284 779.3" fill="none" stroke="#3c3c3c" stroke-width="4.2" stroke-linecap="round"/>
<path d="M254.9 758.2 Q271.7 766.3 284 779.3" fill="none" stroke="#9a9a9a" stroke-width="2.2" stroke-linecap="round"/>
<path d="M260.5 757.6 Q278.2 764.2 291.5 775.5" fill="none" stroke="#3c3c3c" stroke-width="4.2" stroke-linecap="round"/>
<path d="M260.5 757.6 Q278.2 764.2 291.5 775.5" fill="none" stroke="#9a9a9a" stroke-width="2.2" stroke-linecap="round"/>
<path d="M266.7 758.2 Q283.4 763.5 295.8 773.7" fill="none" stroke="#3c3c3c" stroke-width="4.2" stroke-linecap="round"/>
<path d="M266.7 758.2 Q283.4 763.5 295.8 773.7" fill="none" stroke="#9a9a9a" stroke-width="2.2" stroke-linecap="round"/>
<path d="M201.1 797.8 L246.7 812.2 Q254.3 814.6 260.4 812.3 L263.2 811.3 Q267.9 809.6 271.9 806.5 L302.6 782.4" fill="none" stroke="#444" stroke-width="1.3" stroke-linejoin="round" stroke-linecap="round" />
<ellipse cx="295.2" cy="792.9" rx="5.5" ry="4" fill="#fff" stroke="#333" stroke-width="1.4" transform="rotate(-35 295.2 792.9)"/>
<ellipse cx="295.2" cy="792.9" rx="3" ry="2.2" fill="#aaa" stroke="#444" stroke-width="0.9" transform="rotate(-35 295.2 792.9)"/>
<path d="M215.4 931 Q215.4 930 216.3 930.3 L223.2 932.2 Q224.2 932.5 224.2 933.5 L224.2 934.8 Q224.2 935.8 223.2 935.5 L216.3 933.6 Q215.4 933.4 215.4 932.4 Z" fill="#555" stroke="#333" stroke-width="1" stroke-linejoin="round" stroke-linecap="round" />
<path d="M300.5 921.6 Q300.4 920.6 301.3 920.1 L304.1 918.7 Q305 918.3 304.8 919.3 L304.3 924.1 Q304.2 925.1 303.3 925.6 L302 926.2 Q301.1 926.7 301 925.7 Z" fill="#555" stroke="#333" stroke-width="1" stroke-linejoin="round" stroke-linecap="round" />
<path d="M195.2 925.1 L255.9 946.2 Q265.3 949.5 274.8 946.2 L279.1 944.6 Q286.7 941.9 292.2 936.1 L321.7 905.3" fill="none" stroke="#444" stroke-width="1.3" stroke-linejoin="round" stroke-linecap="round" />
<path d="M262.3 964.8 L278 956 Q286.7 951 293.3 943.6 L320.9 912.8 Q326.3 906.9 326.7 898.9 L328.6 865.7" fill="none" stroke="#444" stroke-width="1.3" stroke-linejoin="round" stroke-linecap="round" />
<path d="M180 940.4 L191.6 948.1 Q198.3 952.6 206.3 953.2 L225.7 954.9" fill="none" stroke="#333" stroke-width="1.7" stroke-linejoin="round" stroke-linecap="round" />
<path d="M184.6 949.5 L190.8 955.3 Q195.2 959.4 201.2 959.3 L225.7 959" fill="none" stroke="#444" stroke-width="1.4" stroke-linejoin="round" stroke-linecap="round" />
<line x1="192.2" y1="959.4" x2="225.7" y2="959.4" stroke="#444" stroke-width="1.1"/>
<line x1="196.8" y1="957.1" x2="199.8" y2="964" stroke="#444" stroke-width="1.3"/>
<line x1="202.9" y1="957.1" x2="205.9" y2="964" stroke="#444" stroke-width="1.3"/>
<line x1="210.5" y1="957.1" x2="213.5" y2="964" stroke="#444" stroke-width="1.3"/>
<line x1="205" y1="962.5" x2="230" y2="962.5" stroke="#555" stroke-width="1.4"/>
<g>
<text x="470" y="65.6" font-size="10">19</text>
<text x="577" y="91.6" font-size="10">23</text>
<text x="606" y="100.6" font-size="10">21</text>
<text x="184" y="173.6" font-size="10">10</text>
<text x="130" y="222.6" font-size="10">10</text>
<text x="150" y="232.6" font-size="10">11</text>
<text x="165" y="245.6" font-size="10">12</text>
<text x="179" y="252.6" font-size="10">12</text>
<text x="80" y="263.6" font-size="10">2</text>
<text x="225" y="275.6" font-size="10">6</text>
<text x="322" y="259.6" font-size="10">8</text>
<text x="283" y="311.6" font-size="10">7</text>
<text x="360" y="389.6" font-size="10">9</text>
<text x="63" y="423.6" font-size="10">3</text>
<text x="120" y="435.6" font-size="10">4</text>
<text x="181" y="459.6" font-size="10">4</text>
<text x="329" y="405.6" font-size="10">5</text>
<text x="505" y="333.6" font-size="10">14</text>
<text x="542" y="380.6" font-size="10">15</text>
<text x="563" y="392.6" font-size="10">16</text>
<text x="514" y="455.6" font-size="10">16</text>
<text x="604" y="408.6" font-size="10">17</text>
<text x="618" y="497.6" font-size="10">18</text>
<text x="641" y="317.6" font-size="10">20</text>
<text x="660" y="323.6" font-size="10">25</text>
<text x="363" y="493.6" font-size="10">55</text>
<text x="457" y="502.6" font-size="10">54</text>
<text x="643" y="515.6" font-size="10">50</text>
<text x="673" y="122.6" font-size="10">22</text>
<text x="722" y="131.6" font-size="10">26</text>
<text x="676" y="155.6" font-size="10">26</text>
<text x="750" y="154.6" font-size="10">26</text>
<text x="673" y="195.6" font-size="10">26</text>
<text x="757" y="207.6" font-size="10">24</text>
<text x="795" y="248.6" font-size="10">27</text>
<text x="867" y="285.6" font-size="10">28</text>
<text x="906" y="333.6" font-size="10">31</text>
<text x="874" y="389.6" font-size="10">31</text>
<text x="876" y="412.6" font-size="10">22</text>
<text x="670" y="434.6" font-size="10">51</text>
<text x="672" y="476.6" font-size="10">51</text>
<text x="781" y="455.6" font-size="10">48</text>
<text x="741" y="470.6" font-size="10">49</text>
<text x="884" y="484.6" font-size="10">42</text>
<text x="913" y="518.6" font-size="10">42</text>
<text x="1023" y="366.6" font-size="10">34</text>
<text x="1084" y="376.6" font-size="10">36</text>
<text x="1097" y="369.6" font-size="10">36</text>
<text x="1118" y="357.6" font-size="10">35</text>
<text x="1029" y="408.6" font-size="10">38</text>
<text x="1014" y="439.6" font-size="10">39</text>
<text x="1101" y="475.6" font-size="10">37</text>
<text x="1160" y="435.6" font-size="10">35</text>
<text x="1143" y="455.6" font-size="10">36</text>
<text x="1130" y="462.6" font-size="10">36</text>
<text x="1149" y="487.6" font-size="10">34</text>
<text x="1065" y="501.6" font-size="10">38</text>
<text x="1166" y="194.6" font-size="10">32</text>
<text x="1271" y="235.6" font-size="10">16</text>
<text x="1287" y="276.6" font-size="10">16</text>
<text x="1191" y="276.6" font-size="10">26</text>
<text x="1292" y="336.6" font-size="10">26</text>
<text x="1281" y="374.6" font-size="10">26</text>
<text x="1286" y="401.6" font-size="10">26</text>
<text x="1241" y="427.6" font-size="10">33</text>
<text x="140" y="549.6" font-size="10">ZC1</text>
<text x="214" y="590.6" font-size="10">26</text>
<text x="275" y="621.6" font-size="10">26</text>
<text x="228" y="657.6" font-size="10">26</text>
<text x="310" y="661.6" font-size="10">56</text>
<text x="296" y="730.6" font-size="10">26</text>
<text x="345" y="748.6" font-size="10">1</text>
<text x="549" y="667.6" font-size="10">52</text>
<text x="628" y="670.6" font-size="10">45</text>
<text x="476" y="694.6" font-size="10">53</text>
<text x="399" y="795.6" font-size="10">41-1</text>
<text x="609" y="565.6" font-size="10">48</text>
<text x="681" y="554.6" font-size="10">47</text>
<text x="724" y="541.6" font-size="10">46</text>
<text x="759" y="541.6" font-size="10">44</text>
<text x="744" y="587.6" font-size="10">34</text>
<text x="774" y="657.6" font-size="10">45</text>
<text x="820" y="660.6" font-size="10">34</text>
<text x="918" y="646.6" font-size="10">43</text>
<text x="956" y="545.6" font-size="10">41</text>
<text x="936" y="556.6" font-size="10">42</text>
<text x="965" y="583.6" font-size="10">42</text>
<text x="1004" y="559.6" font-size="10">40</text>
<text x="1196" y="564.6" font-size="10">57</text>
<text x="1200" y="772.6" font-size="10">58</text>
<text x="1204" y="843.6" font-size="10">26</text>
<text x="1136" y="863.6" font-size="10">26</text>
<text x="1187" y="883.6" font-size="10">26</text>
<text x="1252" y="867.6" font-size="10">26</text>
</g>
</g>
</svg>
</body></html>
